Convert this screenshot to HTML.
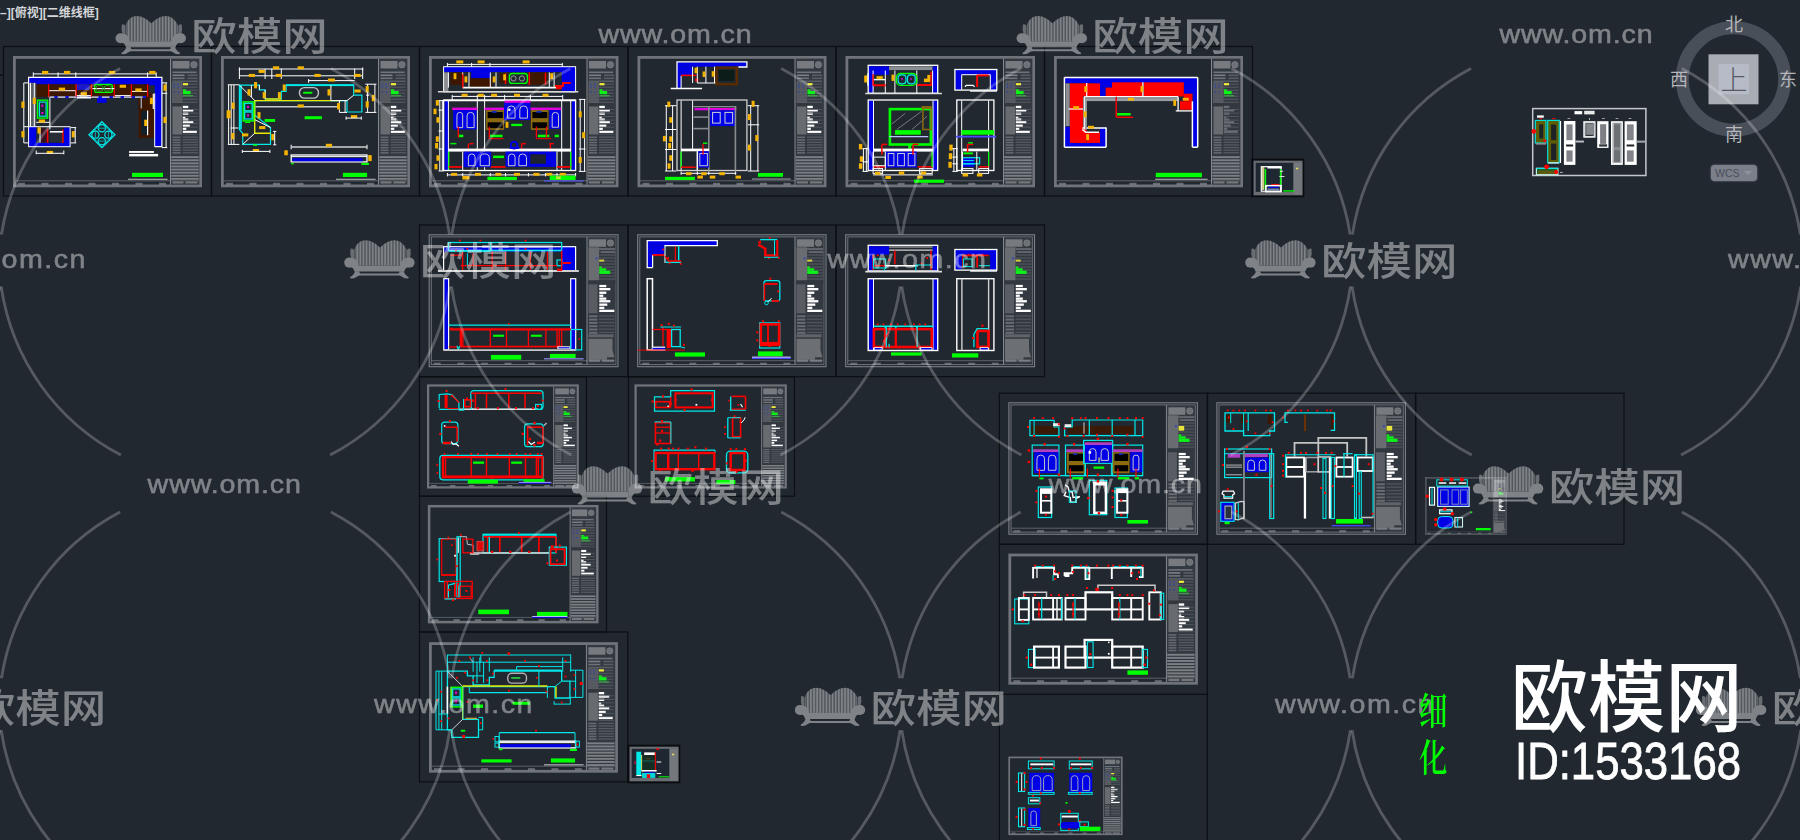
<!DOCTYPE html>
<html lang="zh"><head><meta charset="utf-8"><title>欧模网 ID:1533168</title>
<style>
html,body{margin:0;padding:0;background:#212830;overflow:hidden}
#cv{position:relative;width:1800px;height:840px;background:#212830;overflow:hidden;font-family:"Liberation Sans","Noto Sans CJK SC",sans-serif}
svg{position:absolute;left:0;top:0}
.vp{position:absolute;left:-4px;top:5px;font-size:12px;line-height:16px;color:#d4d6d8;font-weight:700;letter-spacing:0px;white-space:nowrap}
.cmp{position:absolute;color:#b4b6b9;font-size:18px;line-height:20px;width:20px;text-align:center}
.wcs{position:absolute;left:1711px;top:165px;width:46px;height:16px;border-radius:4px;background:#7b7f8a;color:#4a4e58;font-size:10.5px;line-height:16px;box-shadow:0 0 2px #8b8f99}
.big{position:absolute;color:#fff;white-space:nowrap;transform-origin:0 0}
.xh{position:absolute;color:#0f0;font-weight:600;font-family:"Liberation Serif","Noto Serif CJK SC",serif;white-space:nowrap;transform-origin:0 0}
</style></head><body>
<div id="cv">
<svg width="1800" height="840" viewBox="0 0 1800 840" shape-rendering="auto">
<line x1="0.0" y1="75.0" x2="3.5" y2="75.0" stroke="#0c0f13" stroke-width="1.2"/>
<rect x="3.5" y="46.5" width="208.0" height="149.5" fill="none" stroke="#0c0f13" stroke-width="1.2"/>
<rect x="14.4" y="57.4" width="186.2" height="128.5" fill="none" stroke="#70747a" stroke-width="2.8"/>
<line x1="15.6" y1="180.8" x2="199.4" y2="180.8" stroke="#6d7176" stroke-width="0.8"/>
<rect x="18.0" y="182.8" width="7.0" height="2.2" fill="#80848a" fill-opacity="0.75"/>
<rect x="41.5" y="182.8" width="7.0" height="2.2" fill="#80848a" fill-opacity="0.75"/>
<rect x="65.0" y="182.8" width="7.0" height="2.2" fill="#80848a" fill-opacity="0.75"/>
<rect x="88.5" y="182.8" width="7.0" height="2.2" fill="#80848a" fill-opacity="0.75"/>
<rect x="112.0" y="182.8" width="7.0" height="2.2" fill="#80848a" fill-opacity="0.75"/>
<rect x="135.5" y="182.8" width="7.0" height="2.2" fill="#80848a" fill-opacity="0.75"/>
<rect x="159.0" y="182.8" width="7.0" height="2.2" fill="#80848a" fill-opacity="0.75"/>
<rect x="170.5" y="58.6" width="28.9" height="126.1" fill="#454a52" fill-opacity="0.5"/>
<line x1="170.5" y1="58.6" x2="170.5" y2="184.7" stroke="#85888c" stroke-width="1.0"/>
<rect x="172.5" y="61.0" width="17.0" height="7.5" fill="#777b80"/>
<circle cx="193.9" cy="64.7" r="3.2" fill="#6d7176" stroke="#85888c" stroke-width="0.6"/>
<rect x="172.5" y="71.5" width="24.0" height="1.6" fill="#70747a"/>
<rect x="172.5" y="74.5" width="12.0" height="1.6" fill="#7c8086"/>
<rect x="187.5" y="74.5" width="10.0" height="1.6" fill="#595e65"/>
<rect x="172.5" y="77.5" width="12.0" height="1.6" fill="#70747a"/>
<rect x="187.5" y="77.5" width="10.0" height="1.6" fill="#595e65"/>
<rect x="172.5" y="80.5" width="25.0" height="1.6" fill="#595e65"/>
<rect x="172.5" y="83.5" width="25.0" height="1.5" fill="#4c5159"/>
<rect x="172.5" y="86.5" width="25.0" height="1.5" fill="#4c5159"/>
<rect x="172.5" y="89.5" width="25.0" height="1.5" fill="#4c5159"/>
<rect x="172.5" y="92.5" width="25.0" height="1.5" fill="#4c5159"/>
<rect x="172.5" y="95.5" width="25.0" height="1.5" fill="#4c5159"/>
<rect x="172.5" y="98.5" width="25.0" height="1.5" fill="#4c5159"/>
<rect x="172.5" y="101.5" width="25.0" height="1.5" fill="#4c5159"/>
<rect x="172.0" y="82.0" width="10.5" height="21.0" fill="#5a5e64" fill-opacity="0.85"/>
<rect x="183.0" y="83.1" width="5.0" height="2.2" fill="#f4ee3c"/>
<rect x="183.0" y="89.2" width="3.0" height="1.8" fill="#19e21d"/>
<rect x="183.0" y="91.0" width="7.6" height="3.2" fill="#0df219"/>
<rect x="183.0" y="95.0" width="10.0" height="1.5" fill="#3c9a45"/>
<rect x="173.5" y="83.5" width="1.6" height="1.6" fill="#34479a"/>
<rect x="173.5" y="86.5" width="1.6" height="1.6" fill="#34479a"/>
<rect x="173.5" y="91.5" width="1.6" height="1.6" fill="#34479a"/>
<rect x="177.5" y="83.5" width="1.6" height="1.6" fill="#34479a"/>
<rect x="177.5" y="86.5" width="1.6" height="1.6" fill="#34479a"/>
<rect x="177.5" y="91.5" width="1.6" height="1.6" fill="#34479a"/>
<rect x="171.5" y="103.0" width="27.0" height="2.2" fill="#33383f"/>
<rect x="172.5" y="106.5" width="9.5" height="28.0" fill="#6e7277" fill-opacity="0.9"/>
<rect x="182.8" y="105.8" width="5.5" height="2.3" fill="#ffffff"/>
<rect x="182.8" y="109.2" width="10.5" height="2.3" fill="#ffffff"/>
<rect x="182.8" y="112.5" width="5.5" height="2.3" fill="#ffffff"/>
<rect x="182.8" y="116.0" width="2.5" height="2.3" fill="#ffffff"/>
<rect x="182.8" y="118.4" width="5.5" height="2.3" fill="#ffffff"/>
<rect x="182.8" y="121.2" width="10.5" height="2.3" fill="#ffffff"/>
<rect x="182.8" y="124.6" width="7.0" height="2.3" fill="#ffffff"/>
<rect x="182.8" y="127.6" width="3.5" height="2.3" fill="#ffffff"/>
<rect x="182.8" y="130.6" width="14.0" height="2.3" fill="#ffffff"/>
<rect x="182.8" y="109.2" width="15.0" height="0.8" fill="#595e65"/>
<rect x="182.8" y="112.7" width="15.0" height="0.8" fill="#595e65"/>
<rect x="182.8" y="116.2" width="15.0" height="0.8" fill="#595e65"/>
<rect x="182.8" y="119.7" width="15.0" height="0.8" fill="#595e65"/>
<rect x="182.8" y="123.2" width="15.0" height="0.8" fill="#595e65"/>
<rect x="182.8" y="126.7" width="15.0" height="0.8" fill="#595e65"/>
<rect x="182.8" y="130.2" width="15.0" height="0.8" fill="#595e65"/>
<rect x="182.8" y="133.7" width="15.0" height="0.8" fill="#595e65"/>
<rect x="172.5" y="136.5" width="8.0" height="1.6" fill="#666a70"/>
<rect x="182.5" y="136.5" width="15.5" height="1.3" fill="#565b62"/>
<rect x="172.5" y="139.1" width="8.0" height="1.6" fill="#666a70"/>
<rect x="182.5" y="139.1" width="15.5" height="1.3" fill="#565b62"/>
<rect x="172.5" y="141.7" width="8.0" height="1.6" fill="#666a70"/>
<rect x="182.5" y="141.7" width="15.5" height="1.3" fill="#565b62"/>
<rect x="172.5" y="144.3" width="8.0" height="1.6" fill="#666a70"/>
<rect x="182.5" y="144.3" width="15.5" height="1.3" fill="#565b62"/>
<rect x="172.5" y="146.9" width="8.0" height="1.6" fill="#666a70"/>
<rect x="182.5" y="146.9" width="15.5" height="1.3" fill="#565b62"/>
<rect x="172.5" y="149.5" width="8.0" height="1.6" fill="#666a70"/>
<rect x="182.5" y="149.5" width="15.5" height="1.3" fill="#565b62"/>
<rect x="172.5" y="152.1" width="8.0" height="1.6" fill="#666a70"/>
<rect x="182.5" y="152.1" width="15.5" height="1.3" fill="#565b62"/>
<rect x="171.3" y="156.2" width="27.4" height="1.9" fill="#7c8085"/>
<rect x="171.3" y="159.3" width="27.4" height="1.9" fill="#7c8085"/>
<rect x="171.3" y="162.4" width="27.4" height="1.9" fill="#7c8085"/>
<rect x="171.3" y="165.5" width="27.4" height="1.9" fill="#7c8085"/>
<rect x="171.3" y="168.6" width="27.4" height="1.9" fill="#7c8085"/>
<rect x="171.3" y="171.7" width="27.4" height="1.9" fill="#7c8085"/>
<rect x="171.3" y="174.8" width="27.4" height="1.9" fill="#7c8085"/>
<rect x="171.3" y="177.9" width="27.4" height="1.9" fill="#7c8085"/>
<rect x="172.5" y="181.3" width="11.0" height="2.2" fill="#85888c" fill-opacity="0.8"/>
<rect x="185.5" y="181.3" width="12.0" height="2.2" fill="#85888c" fill-opacity="0.8"/>
<rect x="211.5" y="46.5" width="208.0" height="149.5" fill="none" stroke="#0c0f13" stroke-width="1.2"/>
<rect x="222.4" y="57.4" width="186.2" height="128.5" fill="none" stroke="#70747a" stroke-width="2.8"/>
<line x1="223.6" y1="180.8" x2="407.4" y2="180.8" stroke="#6d7176" stroke-width="0.8"/>
<rect x="226.0" y="182.8" width="7.0" height="2.2" fill="#80848a" fill-opacity="0.75"/>
<rect x="249.5" y="182.8" width="7.0" height="2.2" fill="#80848a" fill-opacity="0.75"/>
<rect x="273.0" y="182.8" width="7.0" height="2.2" fill="#80848a" fill-opacity="0.75"/>
<rect x="296.5" y="182.8" width="7.0" height="2.2" fill="#80848a" fill-opacity="0.75"/>
<rect x="320.0" y="182.8" width="7.0" height="2.2" fill="#80848a" fill-opacity="0.75"/>
<rect x="343.5" y="182.8" width="7.0" height="2.2" fill="#80848a" fill-opacity="0.75"/>
<rect x="367.0" y="182.8" width="7.0" height="2.2" fill="#80848a" fill-opacity="0.75"/>
<rect x="378.5" y="58.6" width="28.9" height="126.1" fill="#454a52" fill-opacity="0.5"/>
<line x1="378.5" y1="58.6" x2="378.5" y2="184.7" stroke="#85888c" stroke-width="1.0"/>
<rect x="380.5" y="61.0" width="17.0" height="7.5" fill="#777b80"/>
<circle cx="401.9" cy="64.7" r="3.2" fill="#6d7176" stroke="#85888c" stroke-width="0.6"/>
<rect x="380.5" y="71.5" width="24.0" height="1.6" fill="#70747a"/>
<rect x="380.5" y="74.5" width="12.0" height="1.6" fill="#7c8086"/>
<rect x="395.5" y="74.5" width="10.0" height="1.6" fill="#595e65"/>
<rect x="380.5" y="77.5" width="12.0" height="1.6" fill="#70747a"/>
<rect x="395.5" y="77.5" width="10.0" height="1.6" fill="#595e65"/>
<rect x="380.5" y="80.5" width="25.0" height="1.6" fill="#595e65"/>
<rect x="380.5" y="83.5" width="25.0" height="1.5" fill="#4c5159"/>
<rect x="380.5" y="86.5" width="25.0" height="1.5" fill="#4c5159"/>
<rect x="380.5" y="89.5" width="25.0" height="1.5" fill="#4c5159"/>
<rect x="380.5" y="92.5" width="25.0" height="1.5" fill="#4c5159"/>
<rect x="380.5" y="95.5" width="25.0" height="1.5" fill="#4c5159"/>
<rect x="380.5" y="98.5" width="25.0" height="1.5" fill="#4c5159"/>
<rect x="380.5" y="101.5" width="25.0" height="1.5" fill="#4c5159"/>
<rect x="380.0" y="82.0" width="10.5" height="21.0" fill="#5a5e64" fill-opacity="0.85"/>
<rect x="391.0" y="83.1" width="5.0" height="2.2" fill="#f4ee3c"/>
<rect x="391.0" y="89.2" width="3.0" height="1.8" fill="#19e21d"/>
<rect x="391.0" y="91.0" width="7.6" height="3.2" fill="#0df219"/>
<rect x="391.0" y="95.0" width="10.0" height="1.5" fill="#3c9a45"/>
<rect x="381.5" y="83.5" width="1.6" height="1.6" fill="#34479a"/>
<rect x="381.5" y="86.5" width="1.6" height="1.6" fill="#34479a"/>
<rect x="381.5" y="91.5" width="1.6" height="1.6" fill="#34479a"/>
<rect x="385.5" y="83.5" width="1.6" height="1.6" fill="#34479a"/>
<rect x="385.5" y="86.5" width="1.6" height="1.6" fill="#34479a"/>
<rect x="385.5" y="91.5" width="1.6" height="1.6" fill="#34479a"/>
<rect x="379.5" y="103.0" width="27.0" height="2.2" fill="#33383f"/>
<rect x="380.5" y="106.5" width="9.5" height="28.0" fill="#6e7277" fill-opacity="0.9"/>
<rect x="390.8" y="105.8" width="5.5" height="2.3" fill="#ffffff"/>
<rect x="390.8" y="109.2" width="10.5" height="2.3" fill="#ffffff"/>
<rect x="390.8" y="112.5" width="5.5" height="2.3" fill="#ffffff"/>
<rect x="390.8" y="116.0" width="2.5" height="2.3" fill="#ffffff"/>
<rect x="390.8" y="118.4" width="5.5" height="2.3" fill="#ffffff"/>
<rect x="390.8" y="121.2" width="10.5" height="2.3" fill="#ffffff"/>
<rect x="390.8" y="124.6" width="7.0" height="2.3" fill="#ffffff"/>
<rect x="390.8" y="127.6" width="3.5" height="2.3" fill="#ffffff"/>
<rect x="390.8" y="130.6" width="14.0" height="2.3" fill="#ffffff"/>
<rect x="390.8" y="109.2" width="15.0" height="0.8" fill="#595e65"/>
<rect x="390.8" y="112.7" width="15.0" height="0.8" fill="#595e65"/>
<rect x="390.8" y="116.2" width="15.0" height="0.8" fill="#595e65"/>
<rect x="390.8" y="119.7" width="15.0" height="0.8" fill="#595e65"/>
<rect x="390.8" y="123.2" width="15.0" height="0.8" fill="#595e65"/>
<rect x="390.8" y="126.7" width="15.0" height="0.8" fill="#595e65"/>
<rect x="390.8" y="130.2" width="15.0" height="0.8" fill="#595e65"/>
<rect x="390.8" y="133.7" width="15.0" height="0.8" fill="#595e65"/>
<rect x="380.5" y="136.5" width="8.0" height="1.6" fill="#666a70"/>
<rect x="390.5" y="136.5" width="15.5" height="1.3" fill="#565b62"/>
<rect x="380.5" y="139.1" width="8.0" height="1.6" fill="#666a70"/>
<rect x="390.5" y="139.1" width="15.5" height="1.3" fill="#565b62"/>
<rect x="380.5" y="141.7" width="8.0" height="1.6" fill="#666a70"/>
<rect x="390.5" y="141.7" width="15.5" height="1.3" fill="#565b62"/>
<rect x="380.5" y="144.3" width="8.0" height="1.6" fill="#666a70"/>
<rect x="390.5" y="144.3" width="15.5" height="1.3" fill="#565b62"/>
<rect x="380.5" y="146.9" width="8.0" height="1.6" fill="#666a70"/>
<rect x="390.5" y="146.9" width="15.5" height="1.3" fill="#565b62"/>
<rect x="380.5" y="149.5" width="8.0" height="1.6" fill="#666a70"/>
<rect x="390.5" y="149.5" width="15.5" height="1.3" fill="#565b62"/>
<rect x="380.5" y="152.1" width="8.0" height="1.6" fill="#666a70"/>
<rect x="390.5" y="152.1" width="15.5" height="1.3" fill="#565b62"/>
<rect x="379.3" y="156.2" width="27.4" height="1.9" fill="#7c8085"/>
<rect x="379.3" y="159.3" width="27.4" height="1.9" fill="#7c8085"/>
<rect x="379.3" y="162.4" width="27.4" height="1.9" fill="#7c8085"/>
<rect x="379.3" y="165.5" width="27.4" height="1.9" fill="#7c8085"/>
<rect x="379.3" y="168.6" width="27.4" height="1.9" fill="#7c8085"/>
<rect x="379.3" y="171.7" width="27.4" height="1.9" fill="#7c8085"/>
<rect x="379.3" y="174.8" width="27.4" height="1.9" fill="#7c8085"/>
<rect x="379.3" y="177.9" width="27.4" height="1.9" fill="#7c8085"/>
<rect x="380.5" y="181.3" width="11.0" height="2.2" fill="#85888c" fill-opacity="0.8"/>
<rect x="393.5" y="181.3" width="12.0" height="2.2" fill="#85888c" fill-opacity="0.8"/>
<rect x="419.5" y="46.5" width="208.5" height="149.5" fill="none" stroke="#0c0f13" stroke-width="1.2"/>
<rect x="430.4" y="57.4" width="186.7" height="128.5" fill="none" stroke="#70747a" stroke-width="2.8"/>
<line x1="431.6" y1="180.8" x2="615.9" y2="180.8" stroke="#6d7176" stroke-width="0.8"/>
<rect x="434.0" y="182.8" width="7.0" height="2.2" fill="#80848a" fill-opacity="0.75"/>
<rect x="457.6" y="182.8" width="7.0" height="2.2" fill="#80848a" fill-opacity="0.75"/>
<rect x="481.1" y="182.8" width="7.0" height="2.2" fill="#80848a" fill-opacity="0.75"/>
<rect x="504.7" y="182.8" width="7.0" height="2.2" fill="#80848a" fill-opacity="0.75"/>
<rect x="528.3" y="182.8" width="7.0" height="2.2" fill="#80848a" fill-opacity="0.75"/>
<rect x="551.8" y="182.8" width="7.0" height="2.2" fill="#80848a" fill-opacity="0.75"/>
<rect x="575.4" y="182.8" width="7.0" height="2.2" fill="#80848a" fill-opacity="0.75"/>
<rect x="587.0" y="58.6" width="28.9" height="126.1" fill="#454a52" fill-opacity="0.5"/>
<line x1="587.0" y1="58.6" x2="587.0" y2="184.7" stroke="#85888c" stroke-width="1.0"/>
<rect x="589.0" y="61.0" width="17.0" height="7.5" fill="#777b80"/>
<circle cx="610.4" cy="64.7" r="3.2" fill="#6d7176" stroke="#85888c" stroke-width="0.6"/>
<rect x="589.0" y="71.5" width="24.0" height="1.6" fill="#70747a"/>
<rect x="589.0" y="74.5" width="12.0" height="1.6" fill="#7c8086"/>
<rect x="604.0" y="74.5" width="10.0" height="1.6" fill="#595e65"/>
<rect x="589.0" y="77.5" width="12.0" height="1.6" fill="#70747a"/>
<rect x="604.0" y="77.5" width="10.0" height="1.6" fill="#595e65"/>
<rect x="589.0" y="80.5" width="25.0" height="1.6" fill="#595e65"/>
<rect x="589.0" y="83.5" width="25.0" height="1.5" fill="#4c5159"/>
<rect x="589.0" y="86.5" width="25.0" height="1.5" fill="#4c5159"/>
<rect x="589.0" y="89.5" width="25.0" height="1.5" fill="#4c5159"/>
<rect x="589.0" y="92.5" width="25.0" height="1.5" fill="#4c5159"/>
<rect x="589.0" y="95.5" width="25.0" height="1.5" fill="#4c5159"/>
<rect x="589.0" y="98.5" width="25.0" height="1.5" fill="#4c5159"/>
<rect x="589.0" y="101.5" width="25.0" height="1.5" fill="#4c5159"/>
<rect x="588.5" y="82.0" width="10.5" height="21.0" fill="#5a5e64" fill-opacity="0.85"/>
<rect x="599.5" y="83.1" width="5.0" height="2.2" fill="#f4ee3c"/>
<rect x="599.5" y="89.2" width="3.0" height="1.8" fill="#19e21d"/>
<rect x="599.5" y="91.0" width="7.6" height="3.2" fill="#0df219"/>
<rect x="599.5" y="95.0" width="10.0" height="1.5" fill="#3c9a45"/>
<rect x="590.0" y="83.5" width="1.6" height="1.6" fill="#34479a"/>
<rect x="590.0" y="86.5" width="1.6" height="1.6" fill="#34479a"/>
<rect x="590.0" y="91.5" width="1.6" height="1.6" fill="#34479a"/>
<rect x="594.0" y="83.5" width="1.6" height="1.6" fill="#34479a"/>
<rect x="594.0" y="86.5" width="1.6" height="1.6" fill="#34479a"/>
<rect x="594.0" y="91.5" width="1.6" height="1.6" fill="#34479a"/>
<rect x="588.0" y="103.0" width="27.0" height="2.2" fill="#33383f"/>
<rect x="589.0" y="106.5" width="9.5" height="28.0" fill="#6e7277" fill-opacity="0.9"/>
<rect x="599.3" y="105.8" width="5.5" height="2.3" fill="#ffffff"/>
<rect x="599.3" y="109.2" width="10.5" height="2.3" fill="#ffffff"/>
<rect x="599.3" y="112.5" width="5.5" height="2.3" fill="#ffffff"/>
<rect x="599.3" y="116.0" width="2.5" height="2.3" fill="#ffffff"/>
<rect x="599.3" y="118.4" width="5.5" height="2.3" fill="#ffffff"/>
<rect x="599.3" y="121.2" width="10.5" height="2.3" fill="#ffffff"/>
<rect x="599.3" y="124.6" width="7.0" height="2.3" fill="#ffffff"/>
<rect x="599.3" y="127.6" width="3.5" height="2.3" fill="#ffffff"/>
<rect x="599.3" y="130.6" width="14.0" height="2.3" fill="#ffffff"/>
<rect x="599.3" y="109.2" width="15.0" height="0.8" fill="#595e65"/>
<rect x="599.3" y="112.7" width="15.0" height="0.8" fill="#595e65"/>
<rect x="599.3" y="116.2" width="15.0" height="0.8" fill="#595e65"/>
<rect x="599.3" y="119.7" width="15.0" height="0.8" fill="#595e65"/>
<rect x="599.3" y="123.2" width="15.0" height="0.8" fill="#595e65"/>
<rect x="599.3" y="126.7" width="15.0" height="0.8" fill="#595e65"/>
<rect x="599.3" y="130.2" width="15.0" height="0.8" fill="#595e65"/>
<rect x="599.3" y="133.7" width="15.0" height="0.8" fill="#595e65"/>
<rect x="589.0" y="136.5" width="8.0" height="1.6" fill="#666a70"/>
<rect x="599.0" y="136.5" width="15.5" height="1.3" fill="#565b62"/>
<rect x="589.0" y="139.1" width="8.0" height="1.6" fill="#666a70"/>
<rect x="599.0" y="139.1" width="15.5" height="1.3" fill="#565b62"/>
<rect x="589.0" y="141.7" width="8.0" height="1.6" fill="#666a70"/>
<rect x="599.0" y="141.7" width="15.5" height="1.3" fill="#565b62"/>
<rect x="589.0" y="144.3" width="8.0" height="1.6" fill="#666a70"/>
<rect x="599.0" y="144.3" width="15.5" height="1.3" fill="#565b62"/>
<rect x="589.0" y="146.9" width="8.0" height="1.6" fill="#666a70"/>
<rect x="599.0" y="146.9" width="15.5" height="1.3" fill="#565b62"/>
<rect x="589.0" y="149.5" width="8.0" height="1.6" fill="#666a70"/>
<rect x="599.0" y="149.5" width="15.5" height="1.3" fill="#565b62"/>
<rect x="589.0" y="152.1" width="8.0" height="1.6" fill="#666a70"/>
<rect x="599.0" y="152.1" width="15.5" height="1.3" fill="#565b62"/>
<rect x="587.8" y="156.2" width="27.4" height="1.9" fill="#7c8085"/>
<rect x="587.8" y="159.3" width="27.4" height="1.9" fill="#7c8085"/>
<rect x="587.8" y="162.4" width="27.4" height="1.9" fill="#7c8085"/>
<rect x="587.8" y="165.5" width="27.4" height="1.9" fill="#7c8085"/>
<rect x="587.8" y="168.6" width="27.4" height="1.9" fill="#7c8085"/>
<rect x="587.8" y="171.7" width="27.4" height="1.9" fill="#7c8085"/>
<rect x="587.8" y="174.8" width="27.4" height="1.9" fill="#7c8085"/>
<rect x="587.8" y="177.9" width="27.4" height="1.9" fill="#7c8085"/>
<rect x="589.0" y="181.3" width="11.0" height="2.2" fill="#85888c" fill-opacity="0.8"/>
<rect x="602.0" y="181.3" width="12.0" height="2.2" fill="#85888c" fill-opacity="0.8"/>
<rect x="628.0" y="46.5" width="208.0" height="149.5" fill="none" stroke="#0c0f13" stroke-width="1.2"/>
<rect x="638.9" y="57.4" width="186.2" height="128.5" fill="none" stroke="#70747a" stroke-width="2.8"/>
<line x1="640.1" y1="180.8" x2="823.9" y2="180.8" stroke="#6d7176" stroke-width="0.8"/>
<rect x="642.5" y="182.8" width="7.0" height="2.2" fill="#80848a" fill-opacity="0.75"/>
<rect x="666.0" y="182.8" width="7.0" height="2.2" fill="#80848a" fill-opacity="0.75"/>
<rect x="689.5" y="182.8" width="7.0" height="2.2" fill="#80848a" fill-opacity="0.75"/>
<rect x="713.0" y="182.8" width="7.0" height="2.2" fill="#80848a" fill-opacity="0.75"/>
<rect x="736.5" y="182.8" width="7.0" height="2.2" fill="#80848a" fill-opacity="0.75"/>
<rect x="760.0" y="182.8" width="7.0" height="2.2" fill="#80848a" fill-opacity="0.75"/>
<rect x="783.5" y="182.8" width="7.0" height="2.2" fill="#80848a" fill-opacity="0.75"/>
<rect x="795.0" y="58.6" width="28.9" height="126.1" fill="#454a52" fill-opacity="0.5"/>
<line x1="795.0" y1="58.6" x2="795.0" y2="184.7" stroke="#85888c" stroke-width="1.0"/>
<rect x="797.0" y="61.0" width="17.0" height="7.5" fill="#777b80"/>
<circle cx="818.4" cy="64.7" r="3.2" fill="#6d7176" stroke="#85888c" stroke-width="0.6"/>
<rect x="797.0" y="71.5" width="24.0" height="1.6" fill="#70747a"/>
<rect x="797.0" y="74.5" width="12.0" height="1.6" fill="#7c8086"/>
<rect x="812.0" y="74.5" width="10.0" height="1.6" fill="#595e65"/>
<rect x="797.0" y="77.5" width="12.0" height="1.6" fill="#70747a"/>
<rect x="812.0" y="77.5" width="10.0" height="1.6" fill="#595e65"/>
<rect x="797.0" y="80.5" width="25.0" height="1.6" fill="#595e65"/>
<rect x="797.0" y="83.5" width="25.0" height="1.5" fill="#4c5159"/>
<rect x="797.0" y="86.5" width="25.0" height="1.5" fill="#4c5159"/>
<rect x="797.0" y="89.5" width="25.0" height="1.5" fill="#4c5159"/>
<rect x="797.0" y="92.5" width="25.0" height="1.5" fill="#4c5159"/>
<rect x="797.0" y="95.5" width="25.0" height="1.5" fill="#4c5159"/>
<rect x="797.0" y="98.5" width="25.0" height="1.5" fill="#4c5159"/>
<rect x="797.0" y="101.5" width="25.0" height="1.5" fill="#4c5159"/>
<rect x="796.5" y="82.0" width="10.5" height="21.0" fill="#5a5e64" fill-opacity="0.85"/>
<rect x="807.5" y="83.1" width="5.0" height="2.2" fill="#f4ee3c"/>
<rect x="807.5" y="89.2" width="3.0" height="1.8" fill="#19e21d"/>
<rect x="807.5" y="91.0" width="7.6" height="3.2" fill="#0df219"/>
<rect x="807.5" y="95.0" width="10.0" height="1.5" fill="#3c9a45"/>
<rect x="798.0" y="83.5" width="1.6" height="1.6" fill="#34479a"/>
<rect x="798.0" y="86.5" width="1.6" height="1.6" fill="#34479a"/>
<rect x="798.0" y="91.5" width="1.6" height="1.6" fill="#34479a"/>
<rect x="802.0" y="83.5" width="1.6" height="1.6" fill="#34479a"/>
<rect x="802.0" y="86.5" width="1.6" height="1.6" fill="#34479a"/>
<rect x="802.0" y="91.5" width="1.6" height="1.6" fill="#34479a"/>
<rect x="796.0" y="103.0" width="27.0" height="2.2" fill="#33383f"/>
<rect x="797.0" y="106.5" width="9.5" height="28.0" fill="#6e7277" fill-opacity="0.9"/>
<rect x="807.3" y="105.8" width="5.5" height="2.3" fill="#ffffff"/>
<rect x="807.3" y="109.2" width="10.5" height="2.3" fill="#ffffff"/>
<rect x="807.3" y="112.5" width="5.5" height="2.3" fill="#ffffff"/>
<rect x="807.3" y="116.0" width="2.5" height="2.3" fill="#ffffff"/>
<rect x="807.3" y="118.4" width="5.5" height="2.3" fill="#ffffff"/>
<rect x="807.3" y="121.2" width="10.5" height="2.3" fill="#ffffff"/>
<rect x="807.3" y="124.6" width="7.0" height="2.3" fill="#ffffff"/>
<rect x="807.3" y="127.6" width="3.5" height="2.3" fill="#ffffff"/>
<rect x="807.3" y="130.6" width="14.0" height="2.3" fill="#ffffff"/>
<rect x="807.3" y="109.2" width="15.0" height="0.8" fill="#595e65"/>
<rect x="807.3" y="112.7" width="15.0" height="0.8" fill="#595e65"/>
<rect x="807.3" y="116.2" width="15.0" height="0.8" fill="#595e65"/>
<rect x="807.3" y="119.7" width="15.0" height="0.8" fill="#595e65"/>
<rect x="807.3" y="123.2" width="15.0" height="0.8" fill="#595e65"/>
<rect x="807.3" y="126.7" width="15.0" height="0.8" fill="#595e65"/>
<rect x="807.3" y="130.2" width="15.0" height="0.8" fill="#595e65"/>
<rect x="807.3" y="133.7" width="15.0" height="0.8" fill="#595e65"/>
<rect x="797.0" y="136.5" width="8.0" height="1.6" fill="#666a70"/>
<rect x="807.0" y="136.5" width="15.5" height="1.3" fill="#565b62"/>
<rect x="797.0" y="139.1" width="8.0" height="1.6" fill="#666a70"/>
<rect x="807.0" y="139.1" width="15.5" height="1.3" fill="#565b62"/>
<rect x="797.0" y="141.7" width="8.0" height="1.6" fill="#666a70"/>
<rect x="807.0" y="141.7" width="15.5" height="1.3" fill="#565b62"/>
<rect x="797.0" y="144.3" width="8.0" height="1.6" fill="#666a70"/>
<rect x="807.0" y="144.3" width="15.5" height="1.3" fill="#565b62"/>
<rect x="797.0" y="146.9" width="8.0" height="1.6" fill="#666a70"/>
<rect x="807.0" y="146.9" width="15.5" height="1.3" fill="#565b62"/>
<rect x="797.0" y="149.5" width="8.0" height="1.6" fill="#666a70"/>
<rect x="807.0" y="149.5" width="15.5" height="1.3" fill="#565b62"/>
<rect x="797.0" y="152.1" width="8.0" height="1.6" fill="#666a70"/>
<rect x="807.0" y="152.1" width="15.5" height="1.3" fill="#565b62"/>
<rect x="795.8" y="156.2" width="27.4" height="1.9" fill="#7c8085"/>
<rect x="795.8" y="159.3" width="27.4" height="1.9" fill="#7c8085"/>
<rect x="795.8" y="162.4" width="27.4" height="1.9" fill="#7c8085"/>
<rect x="795.8" y="165.5" width="27.4" height="1.9" fill="#7c8085"/>
<rect x="795.8" y="168.6" width="27.4" height="1.9" fill="#7c8085"/>
<rect x="795.8" y="171.7" width="27.4" height="1.9" fill="#7c8085"/>
<rect x="795.8" y="174.8" width="27.4" height="1.9" fill="#7c8085"/>
<rect x="795.8" y="177.9" width="27.4" height="1.9" fill="#7c8085"/>
<rect x="797.0" y="181.3" width="11.0" height="2.2" fill="#85888c" fill-opacity="0.8"/>
<rect x="810.0" y="181.3" width="12.0" height="2.2" fill="#85888c" fill-opacity="0.8"/>
<rect x="836.0" y="46.5" width="208.5" height="149.5" fill="none" stroke="#0c0f13" stroke-width="1.2"/>
<rect x="846.9" y="57.4" width="186.7" height="128.5" fill="none" stroke="#70747a" stroke-width="2.8"/>
<line x1="848.1" y1="180.8" x2="1032.4" y2="180.8" stroke="#6d7176" stroke-width="0.8"/>
<rect x="850.5" y="182.8" width="7.0" height="2.2" fill="#80848a" fill-opacity="0.75"/>
<rect x="874.1" y="182.8" width="7.0" height="2.2" fill="#80848a" fill-opacity="0.75"/>
<rect x="897.6" y="182.8" width="7.0" height="2.2" fill="#80848a" fill-opacity="0.75"/>
<rect x="921.2" y="182.8" width="7.0" height="2.2" fill="#80848a" fill-opacity="0.75"/>
<rect x="944.8" y="182.8" width="7.0" height="2.2" fill="#80848a" fill-opacity="0.75"/>
<rect x="968.3" y="182.8" width="7.0" height="2.2" fill="#80848a" fill-opacity="0.75"/>
<rect x="991.9" y="182.8" width="7.0" height="2.2" fill="#80848a" fill-opacity="0.75"/>
<rect x="1003.5" y="58.6" width="28.9" height="126.1" fill="#454a52" fill-opacity="0.5"/>
<line x1="1003.5" y1="58.6" x2="1003.5" y2="184.7" stroke="#85888c" stroke-width="1.0"/>
<rect x="1005.5" y="61.0" width="17.0" height="7.5" fill="#777b80"/>
<circle cx="1026.9" cy="64.7" r="3.2" fill="#6d7176" stroke="#85888c" stroke-width="0.6"/>
<rect x="1005.5" y="71.5" width="24.0" height="1.6" fill="#70747a"/>
<rect x="1005.5" y="74.5" width="12.0" height="1.6" fill="#7c8086"/>
<rect x="1020.5" y="74.5" width="10.0" height="1.6" fill="#595e65"/>
<rect x="1005.5" y="77.5" width="12.0" height="1.6" fill="#70747a"/>
<rect x="1020.5" y="77.5" width="10.0" height="1.6" fill="#595e65"/>
<rect x="1005.5" y="80.5" width="25.0" height="1.6" fill="#595e65"/>
<rect x="1005.5" y="83.5" width="25.0" height="1.5" fill="#4c5159"/>
<rect x="1005.5" y="86.5" width="25.0" height="1.5" fill="#4c5159"/>
<rect x="1005.5" y="89.5" width="25.0" height="1.5" fill="#4c5159"/>
<rect x="1005.5" y="92.5" width="25.0" height="1.5" fill="#4c5159"/>
<rect x="1005.5" y="95.5" width="25.0" height="1.5" fill="#4c5159"/>
<rect x="1005.5" y="98.5" width="25.0" height="1.5" fill="#4c5159"/>
<rect x="1005.5" y="101.5" width="25.0" height="1.5" fill="#4c5159"/>
<rect x="1005.0" y="82.0" width="10.5" height="21.0" fill="#5a5e64" fill-opacity="0.85"/>
<rect x="1016.0" y="83.1" width="5.0" height="2.2" fill="#f4ee3c"/>
<rect x="1016.0" y="89.2" width="3.0" height="1.8" fill="#19e21d"/>
<rect x="1016.0" y="91.0" width="7.6" height="3.2" fill="#0df219"/>
<rect x="1016.0" y="95.0" width="10.0" height="1.5" fill="#3c9a45"/>
<rect x="1006.5" y="83.5" width="1.6" height="1.6" fill="#34479a"/>
<rect x="1006.5" y="86.5" width="1.6" height="1.6" fill="#34479a"/>
<rect x="1006.5" y="91.5" width="1.6" height="1.6" fill="#34479a"/>
<rect x="1010.5" y="83.5" width="1.6" height="1.6" fill="#34479a"/>
<rect x="1010.5" y="86.5" width="1.6" height="1.6" fill="#34479a"/>
<rect x="1010.5" y="91.5" width="1.6" height="1.6" fill="#34479a"/>
<rect x="1004.5" y="103.0" width="27.0" height="2.2" fill="#33383f"/>
<rect x="1005.5" y="106.5" width="9.5" height="28.0" fill="#6e7277" fill-opacity="0.9"/>
<rect x="1015.8" y="105.8" width="5.5" height="2.3" fill="#ffffff"/>
<rect x="1015.8" y="109.2" width="10.5" height="2.3" fill="#ffffff"/>
<rect x="1015.8" y="112.5" width="5.5" height="2.3" fill="#ffffff"/>
<rect x="1015.8" y="116.0" width="2.5" height="2.3" fill="#ffffff"/>
<rect x="1015.8" y="118.4" width="5.5" height="2.3" fill="#ffffff"/>
<rect x="1015.8" y="121.2" width="10.5" height="2.3" fill="#ffffff"/>
<rect x="1015.8" y="124.6" width="7.0" height="2.3" fill="#ffffff"/>
<rect x="1015.8" y="127.6" width="3.5" height="2.3" fill="#ffffff"/>
<rect x="1015.8" y="130.6" width="14.0" height="2.3" fill="#ffffff"/>
<rect x="1015.8" y="109.2" width="15.0" height="0.8" fill="#595e65"/>
<rect x="1015.8" y="112.7" width="15.0" height="0.8" fill="#595e65"/>
<rect x="1015.8" y="116.2" width="15.0" height="0.8" fill="#595e65"/>
<rect x="1015.8" y="119.7" width="15.0" height="0.8" fill="#595e65"/>
<rect x="1015.8" y="123.2" width="15.0" height="0.8" fill="#595e65"/>
<rect x="1015.8" y="126.7" width="15.0" height="0.8" fill="#595e65"/>
<rect x="1015.8" y="130.2" width="15.0" height="0.8" fill="#595e65"/>
<rect x="1015.8" y="133.7" width="15.0" height="0.8" fill="#595e65"/>
<rect x="1005.5" y="136.5" width="8.0" height="1.6" fill="#666a70"/>
<rect x="1015.5" y="136.5" width="15.5" height="1.3" fill="#565b62"/>
<rect x="1005.5" y="139.1" width="8.0" height="1.6" fill="#666a70"/>
<rect x="1015.5" y="139.1" width="15.5" height="1.3" fill="#565b62"/>
<rect x="1005.5" y="141.7" width="8.0" height="1.6" fill="#666a70"/>
<rect x="1015.5" y="141.7" width="15.5" height="1.3" fill="#565b62"/>
<rect x="1005.5" y="144.3" width="8.0" height="1.6" fill="#666a70"/>
<rect x="1015.5" y="144.3" width="15.5" height="1.3" fill="#565b62"/>
<rect x="1005.5" y="146.9" width="8.0" height="1.6" fill="#666a70"/>
<rect x="1015.5" y="146.9" width="15.5" height="1.3" fill="#565b62"/>
<rect x="1005.5" y="149.5" width="8.0" height="1.6" fill="#666a70"/>
<rect x="1015.5" y="149.5" width="15.5" height="1.3" fill="#565b62"/>
<rect x="1005.5" y="152.1" width="8.0" height="1.6" fill="#666a70"/>
<rect x="1015.5" y="152.1" width="15.5" height="1.3" fill="#565b62"/>
<rect x="1004.3" y="156.2" width="27.4" height="1.9" fill="#7c8085"/>
<rect x="1004.3" y="159.3" width="27.4" height="1.9" fill="#7c8085"/>
<rect x="1004.3" y="162.4" width="27.4" height="1.9" fill="#7c8085"/>
<rect x="1004.3" y="165.5" width="27.4" height="1.9" fill="#7c8085"/>
<rect x="1004.3" y="168.6" width="27.4" height="1.9" fill="#7c8085"/>
<rect x="1004.3" y="171.7" width="27.4" height="1.9" fill="#7c8085"/>
<rect x="1004.3" y="174.8" width="27.4" height="1.9" fill="#7c8085"/>
<rect x="1004.3" y="177.9" width="27.4" height="1.9" fill="#7c8085"/>
<rect x="1005.5" y="181.3" width="11.0" height="2.2" fill="#85888c" fill-opacity="0.8"/>
<rect x="1018.5" y="181.3" width="12.0" height="2.2" fill="#85888c" fill-opacity="0.8"/>
<rect x="1044.5" y="46.5" width="208.0" height="149.5" fill="none" stroke="#0c0f13" stroke-width="1.2"/>
<rect x="1055.4" y="57.4" width="186.2" height="128.5" fill="none" stroke="#70747a" stroke-width="2.8"/>
<line x1="1056.6" y1="180.8" x2="1240.4" y2="180.8" stroke="#6d7176" stroke-width="0.8"/>
<rect x="1059.0" y="182.8" width="7.0" height="2.2" fill="#80848a" fill-opacity="0.75"/>
<rect x="1082.5" y="182.8" width="7.0" height="2.2" fill="#80848a" fill-opacity="0.75"/>
<rect x="1106.0" y="182.8" width="7.0" height="2.2" fill="#80848a" fill-opacity="0.75"/>
<rect x="1129.5" y="182.8" width="7.0" height="2.2" fill="#80848a" fill-opacity="0.75"/>
<rect x="1153.0" y="182.8" width="7.0" height="2.2" fill="#80848a" fill-opacity="0.75"/>
<rect x="1176.5" y="182.8" width="7.0" height="2.2" fill="#80848a" fill-opacity="0.75"/>
<rect x="1200.0" y="182.8" width="7.0" height="2.2" fill="#80848a" fill-opacity="0.75"/>
<rect x="1211.5" y="58.6" width="28.9" height="126.1" fill="#454a52" fill-opacity="0.5"/>
<line x1="1211.5" y1="58.6" x2="1211.5" y2="184.7" stroke="#85888c" stroke-width="1.0"/>
<rect x="1213.5" y="61.0" width="17.0" height="7.5" fill="#777b80"/>
<circle cx="1234.9" cy="64.7" r="3.2" fill="#6d7176" stroke="#85888c" stroke-width="0.6"/>
<rect x="1213.5" y="71.5" width="24.0" height="1.6" fill="#70747a"/>
<rect x="1213.5" y="74.5" width="12.0" height="1.6" fill="#7c8086"/>
<rect x="1228.5" y="74.5" width="10.0" height="1.6" fill="#595e65"/>
<rect x="1213.5" y="77.5" width="12.0" height="1.6" fill="#70747a"/>
<rect x="1228.5" y="77.5" width="10.0" height="1.6" fill="#595e65"/>
<rect x="1213.5" y="80.5" width="25.0" height="1.6" fill="#595e65"/>
<rect x="1213.5" y="83.5" width="25.0" height="1.5" fill="#4c5159"/>
<rect x="1213.5" y="86.5" width="25.0" height="1.5" fill="#4c5159"/>
<rect x="1213.5" y="89.5" width="25.0" height="1.5" fill="#4c5159"/>
<rect x="1213.5" y="92.5" width="25.0" height="1.5" fill="#4c5159"/>
<rect x="1213.5" y="95.5" width="25.0" height="1.5" fill="#4c5159"/>
<rect x="1213.5" y="98.5" width="25.0" height="1.5" fill="#4c5159"/>
<rect x="1213.5" y="101.5" width="25.0" height="1.5" fill="#4c5159"/>
<rect x="1213.0" y="82.0" width="10.5" height="21.0" fill="#5a5e64" fill-opacity="0.85"/>
<rect x="1224.0" y="83.1" width="5.0" height="2.2" fill="#f4ee3c"/>
<rect x="1224.0" y="89.2" width="3.0" height="1.8" fill="#19e21d"/>
<rect x="1224.0" y="91.0" width="7.6" height="3.2" fill="#0df219"/>
<rect x="1224.0" y="95.0" width="10.0" height="1.5" fill="#3c9a45"/>
<rect x="1214.5" y="83.5" width="1.6" height="1.6" fill="#34479a"/>
<rect x="1214.5" y="86.5" width="1.6" height="1.6" fill="#34479a"/>
<rect x="1214.5" y="91.5" width="1.6" height="1.6" fill="#34479a"/>
<rect x="1218.5" y="83.5" width="1.6" height="1.6" fill="#34479a"/>
<rect x="1218.5" y="86.5" width="1.6" height="1.6" fill="#34479a"/>
<rect x="1218.5" y="91.5" width="1.6" height="1.6" fill="#34479a"/>
<rect x="1212.5" y="103.0" width="27.0" height="2.2" fill="#33383f"/>
<rect x="1213.5" y="106.5" width="9.5" height="28.0" fill="#6e7277" fill-opacity="0.9"/>
<rect x="1223.8" y="105.8" width="5.5" height="2.3" fill="#6a6e74"/>
<rect x="1223.8" y="109.2" width="10.5" height="2.3" fill="#6a6e74"/>
<rect x="1223.8" y="112.5" width="5.5" height="2.3" fill="#6a6e74"/>
<rect x="1223.8" y="116.0" width="2.5" height="2.3" fill="#6a6e74"/>
<rect x="1223.8" y="118.4" width="5.5" height="2.3" fill="#6a6e74"/>
<rect x="1223.8" y="121.2" width="10.5" height="2.3" fill="#6a6e74"/>
<rect x="1223.8" y="124.6" width="7.0" height="2.3" fill="#6a6e74"/>
<rect x="1223.8" y="127.6" width="3.5" height="2.3" fill="#6a6e74"/>
<rect x="1223.8" y="130.6" width="14.0" height="2.3" fill="#6a6e74"/>
<rect x="1223.8" y="109.2" width="15.0" height="0.8" fill="#595e65"/>
<rect x="1223.8" y="112.7" width="15.0" height="0.8" fill="#595e65"/>
<rect x="1223.8" y="116.2" width="15.0" height="0.8" fill="#595e65"/>
<rect x="1223.8" y="119.7" width="15.0" height="0.8" fill="#595e65"/>
<rect x="1223.8" y="123.2" width="15.0" height="0.8" fill="#595e65"/>
<rect x="1223.8" y="126.7" width="15.0" height="0.8" fill="#595e65"/>
<rect x="1223.8" y="130.2" width="15.0" height="0.8" fill="#595e65"/>
<rect x="1223.8" y="133.7" width="15.0" height="0.8" fill="#595e65"/>
<rect x="1213.5" y="136.5" width="8.0" height="1.6" fill="#666a70"/>
<rect x="1223.5" y="136.5" width="15.5" height="1.3" fill="#565b62"/>
<rect x="1213.5" y="139.1" width="8.0" height="1.6" fill="#666a70"/>
<rect x="1223.5" y="139.1" width="15.5" height="1.3" fill="#565b62"/>
<rect x="1213.5" y="141.7" width="8.0" height="1.6" fill="#666a70"/>
<rect x="1223.5" y="141.7" width="15.5" height="1.3" fill="#565b62"/>
<rect x="1213.5" y="144.3" width="8.0" height="1.6" fill="#666a70"/>
<rect x="1223.5" y="144.3" width="15.5" height="1.3" fill="#565b62"/>
<rect x="1213.5" y="146.9" width="8.0" height="1.6" fill="#666a70"/>
<rect x="1223.5" y="146.9" width="15.5" height="1.3" fill="#565b62"/>
<rect x="1213.5" y="149.5" width="8.0" height="1.6" fill="#666a70"/>
<rect x="1223.5" y="149.5" width="15.5" height="1.3" fill="#565b62"/>
<rect x="1213.5" y="152.1" width="8.0" height="1.6" fill="#666a70"/>
<rect x="1223.5" y="152.1" width="15.5" height="1.3" fill="#565b62"/>
<rect x="1212.3" y="156.2" width="27.4" height="1.9" fill="#7c8085"/>
<rect x="1212.3" y="159.3" width="27.4" height="1.9" fill="#7c8085"/>
<rect x="1212.3" y="162.4" width="27.4" height="1.9" fill="#7c8085"/>
<rect x="1212.3" y="165.5" width="27.4" height="1.9" fill="#7c8085"/>
<rect x="1212.3" y="168.6" width="27.4" height="1.9" fill="#7c8085"/>
<rect x="1212.3" y="171.7" width="27.4" height="1.9" fill="#7c8085"/>
<rect x="1212.3" y="174.8" width="27.4" height="1.9" fill="#7c8085"/>
<rect x="1212.3" y="177.9" width="27.4" height="1.9" fill="#7c8085"/>
<rect x="1213.5" y="181.3" width="11.0" height="2.2" fill="#85888c" fill-opacity="0.8"/>
<rect x="1226.5" y="181.3" width="12.0" height="2.2" fill="#85888c" fill-opacity="0.8"/>
<rect x="419.5" y="225.0" width="208.5" height="151.7" fill="none" stroke="#0c0f13" stroke-width="1.2"/>
<rect x="429.2" y="234.8" width="188.8" height="131.9" fill="none" stroke="#7d8186" stroke-width="1.1"/>
<rect x="431.3" y="236.9" width="184.6" height="127.7" fill="none" stroke="#777b80" stroke-width="0.9"/>
<line x1="431.3" y1="360.7" x2="615.9" y2="360.7" stroke="#6d7176" stroke-width="0.8"/>
<rect x="433.7" y="362.7" width="7.0" height="2.2" fill="#80848a" fill-opacity="0.75"/>
<rect x="457.3" y="362.7" width="7.0" height="2.2" fill="#80848a" fill-opacity="0.75"/>
<rect x="480.9" y="362.7" width="7.0" height="2.2" fill="#80848a" fill-opacity="0.75"/>
<rect x="504.5" y="362.7" width="7.0" height="2.2" fill="#80848a" fill-opacity="0.75"/>
<rect x="528.1" y="362.7" width="7.0" height="2.2" fill="#80848a" fill-opacity="0.75"/>
<rect x="551.7" y="362.7" width="7.0" height="2.2" fill="#80848a" fill-opacity="0.75"/>
<rect x="575.3" y="362.7" width="7.0" height="2.2" fill="#80848a" fill-opacity="0.75"/>
<rect x="587.0" y="236.9" width="28.9" height="127.7" fill="#454a52" fill-opacity="0.5"/>
<line x1="587.0" y1="236.9" x2="587.0" y2="364.6" stroke="#85888c" stroke-width="1.0"/>
<rect x="589.0" y="239.3" width="17.0" height="7.5" fill="#777b80"/>
<circle cx="610.4" cy="243.0" r="3.2" fill="#6d7176" stroke="#85888c" stroke-width="0.6"/>
<rect x="588.5" y="247.3" width="10.5" height="33.0" fill="#696d72"/>
<rect x="599.0" y="248.3" width="16.0" height="1.5" fill="#4c5159"/>
<rect x="599.0" y="251.3" width="16.0" height="1.5" fill="#4c5159"/>
<rect x="599.0" y="254.3" width="16.0" height="1.5" fill="#4c5159"/>
<rect x="599.0" y="257.3" width="16.0" height="1.5" fill="#4c5159"/>
<rect x="599.0" y="260.3" width="16.0" height="1.5" fill="#4c5159"/>
<rect x="599.0" y="263.3" width="16.0" height="1.5" fill="#4c5159"/>
<rect x="599.0" y="266.3" width="16.0" height="1.5" fill="#4c5159"/>
<rect x="599.0" y="269.3" width="16.0" height="1.5" fill="#4c5159"/>
<rect x="599.0" y="272.3" width="16.0" height="1.5" fill="#4c5159"/>
<rect x="599.0" y="275.3" width="16.0" height="1.5" fill="#4c5159"/>
<rect x="599.0" y="278.3" width="16.0" height="1.5" fill="#4c5159"/>
<rect x="599.0" y="248.3" width="16.0" height="1.5" fill="#6a6e73"/>
<rect x="601.0" y="251.3" width="14.0" height="1.5" fill="#6a6e73"/>
<rect x="599.2" y="259.6" width="5.0" height="2.0" fill="#d8d040"/>
<rect x="595.5" y="257.3" width="2.0" height="2.0" fill="#3848b0"/>
<rect x="599.2" y="266.3" width="2.6" height="2.0" fill="#19e21d"/>
<rect x="599.2" y="268.3" width="7.0" height="2.4" fill="#0df219"/>
<rect x="599.2" y="270.7" width="11.0" height="3.2" fill="#0df219"/>
<rect x="588.5" y="280.8" width="27.0" height="2.4" fill="#33383f"/>
<rect x="599.3" y="284.9" width="7.0" height="2.3" fill="#ffffff"/>
<rect x="599.3" y="288.0" width="11.0" height="2.3" fill="#ffffff"/>
<rect x="599.3" y="291.6" width="7.0" height="2.3" fill="#ffffff"/>
<rect x="599.3" y="294.6" width="4.0" height="2.3" fill="#ffffff"/>
<rect x="599.3" y="297.5" width="7.0" height="2.3" fill="#ffffff"/>
<rect x="599.3" y="300.1" width="11.0" height="2.3" fill="#ffffff"/>
<rect x="599.3" y="303.5" width="8.0" height="2.3" fill="#ffffff"/>
<rect x="599.3" y="306.7" width="5.0" height="2.3" fill="#ffffff"/>
<rect x="599.3" y="309.7" width="15.0" height="2.3" fill="#ffffff"/>
<rect x="588.5" y="284.3" width="9.0" height="29.0" fill="#5d6167" fill-opacity="0.9"/>
<rect x="589.0" y="315.3" width="8.5" height="2.0" fill="#686c72"/>
<rect x="599.0" y="315.3" width="15.5" height="1.3" fill="#50555c"/>
<rect x="589.0" y="318.6" width="8.5" height="2.0" fill="#686c72"/>
<rect x="599.0" y="318.6" width="15.5" height="1.3" fill="#50555c"/>
<rect x="589.0" y="321.9" width="8.5" height="2.0" fill="#686c72"/>
<rect x="599.0" y="321.9" width="15.5" height="1.3" fill="#50555c"/>
<rect x="589.0" y="325.2" width="8.5" height="2.0" fill="#686c72"/>
<rect x="599.0" y="325.2" width="15.5" height="1.3" fill="#50555c"/>
<rect x="589.0" y="328.5" width="8.5" height="2.0" fill="#686c72"/>
<rect x="599.0" y="328.5" width="15.5" height="1.3" fill="#50555c"/>
<rect x="589.0" y="331.8" width="8.5" height="2.0" fill="#686c72"/>
<rect x="599.0" y="331.8" width="15.5" height="1.3" fill="#50555c"/>
<rect x="588.5" y="334.3" width="25.0" height="3.0" fill="#606469"/>
<path d="M588.5 338.8 H612.5 V350.3 L614.5 357.3 H607.0 V359.8 H588.5 Z" fill="#6c6f73" stroke="none" stroke-width="0" />
<rect x="589.0" y="359.6" width="11.0" height="2.2" fill="#85888c" fill-opacity="0.8"/>
<rect x="602.0" y="359.6" width="12.0" height="2.2" fill="#85888c" fill-opacity="0.8"/>
<rect x="628.0" y="225.0" width="208.0" height="151.7" fill="none" stroke="#0c0f13" stroke-width="1.2"/>
<rect x="637.7" y="234.8" width="188.3" height="131.9" fill="none" stroke="#7d8186" stroke-width="1.1"/>
<rect x="639.8" y="236.9" width="184.1" height="127.7" fill="none" stroke="#777b80" stroke-width="0.9"/>
<line x1="639.8" y1="360.7" x2="823.9" y2="360.7" stroke="#6d7176" stroke-width="0.8"/>
<rect x="642.2" y="362.7" width="7.0" height="2.2" fill="#80848a" fill-opacity="0.75"/>
<rect x="665.7" y="362.7" width="7.0" height="2.2" fill="#80848a" fill-opacity="0.75"/>
<rect x="689.3" y="362.7" width="7.0" height="2.2" fill="#80848a" fill-opacity="0.75"/>
<rect x="712.8" y="362.7" width="7.0" height="2.2" fill="#80848a" fill-opacity="0.75"/>
<rect x="736.4" y="362.7" width="7.0" height="2.2" fill="#80848a" fill-opacity="0.75"/>
<rect x="759.9" y="362.7" width="7.0" height="2.2" fill="#80848a" fill-opacity="0.75"/>
<rect x="783.4" y="362.7" width="7.0" height="2.2" fill="#80848a" fill-opacity="0.75"/>
<rect x="795.0" y="236.9" width="28.9" height="127.7" fill="#454a52" fill-opacity="0.5"/>
<line x1="795.0" y1="236.9" x2="795.0" y2="364.6" stroke="#85888c" stroke-width="1.0"/>
<rect x="797.0" y="239.3" width="17.0" height="7.5" fill="#777b80"/>
<circle cx="818.4" cy="243.0" r="3.2" fill="#6d7176" stroke="#85888c" stroke-width="0.6"/>
<rect x="796.5" y="247.3" width="10.5" height="33.0" fill="#696d72"/>
<rect x="807.0" y="248.3" width="16.0" height="1.5" fill="#4c5159"/>
<rect x="807.0" y="251.3" width="16.0" height="1.5" fill="#4c5159"/>
<rect x="807.0" y="254.3" width="16.0" height="1.5" fill="#4c5159"/>
<rect x="807.0" y="257.3" width="16.0" height="1.5" fill="#4c5159"/>
<rect x="807.0" y="260.3" width="16.0" height="1.5" fill="#4c5159"/>
<rect x="807.0" y="263.3" width="16.0" height="1.5" fill="#4c5159"/>
<rect x="807.0" y="266.3" width="16.0" height="1.5" fill="#4c5159"/>
<rect x="807.0" y="269.3" width="16.0" height="1.5" fill="#4c5159"/>
<rect x="807.0" y="272.3" width="16.0" height="1.5" fill="#4c5159"/>
<rect x="807.0" y="275.3" width="16.0" height="1.5" fill="#4c5159"/>
<rect x="807.0" y="278.3" width="16.0" height="1.5" fill="#4c5159"/>
<rect x="807.0" y="248.3" width="16.0" height="1.5" fill="#6a6e73"/>
<rect x="809.0" y="251.3" width="14.0" height="1.5" fill="#6a6e73"/>
<rect x="807.2" y="259.6" width="5.0" height="2.0" fill="#d8d040"/>
<rect x="803.5" y="257.3" width="2.0" height="2.0" fill="#3848b0"/>
<rect x="807.2" y="266.3" width="2.6" height="2.0" fill="#19e21d"/>
<rect x="807.2" y="268.3" width="7.0" height="2.4" fill="#0df219"/>
<rect x="807.2" y="270.7" width="11.0" height="3.2" fill="#0df219"/>
<rect x="796.5" y="280.8" width="27.0" height="2.4" fill="#33383f"/>
<rect x="807.3" y="284.9" width="7.0" height="2.3" fill="#ffffff"/>
<rect x="807.3" y="288.0" width="11.0" height="2.3" fill="#ffffff"/>
<rect x="807.3" y="291.6" width="7.0" height="2.3" fill="#ffffff"/>
<rect x="807.3" y="294.6" width="4.0" height="2.3" fill="#ffffff"/>
<rect x="807.3" y="297.5" width="7.0" height="2.3" fill="#ffffff"/>
<rect x="807.3" y="300.1" width="11.0" height="2.3" fill="#ffffff"/>
<rect x="807.3" y="303.5" width="8.0" height="2.3" fill="#ffffff"/>
<rect x="807.3" y="306.7" width="5.0" height="2.3" fill="#ffffff"/>
<rect x="807.3" y="309.7" width="15.0" height="2.3" fill="#ffffff"/>
<rect x="796.5" y="284.3" width="9.0" height="29.0" fill="#5d6167" fill-opacity="0.9"/>
<rect x="797.0" y="315.3" width="8.5" height="2.0" fill="#686c72"/>
<rect x="807.0" y="315.3" width="15.5" height="1.3" fill="#50555c"/>
<rect x="797.0" y="318.6" width="8.5" height="2.0" fill="#686c72"/>
<rect x="807.0" y="318.6" width="15.5" height="1.3" fill="#50555c"/>
<rect x="797.0" y="321.9" width="8.5" height="2.0" fill="#686c72"/>
<rect x="807.0" y="321.9" width="15.5" height="1.3" fill="#50555c"/>
<rect x="797.0" y="325.2" width="8.5" height="2.0" fill="#686c72"/>
<rect x="807.0" y="325.2" width="15.5" height="1.3" fill="#50555c"/>
<rect x="797.0" y="328.5" width="8.5" height="2.0" fill="#686c72"/>
<rect x="807.0" y="328.5" width="15.5" height="1.3" fill="#50555c"/>
<rect x="797.0" y="331.8" width="8.5" height="2.0" fill="#686c72"/>
<rect x="807.0" y="331.8" width="15.5" height="1.3" fill="#50555c"/>
<rect x="796.5" y="334.3" width="25.0" height="3.0" fill="#606469"/>
<path d="M796.5 338.8 H820.5 V350.3 L822.5 357.3 H815.0 V359.8 H796.5 Z" fill="#6c6f73" stroke="none" stroke-width="0" />
<rect x="797.0" y="359.6" width="11.0" height="2.2" fill="#85888c" fill-opacity="0.8"/>
<rect x="810.0" y="359.6" width="12.0" height="2.2" fill="#85888c" fill-opacity="0.8"/>
<rect x="836.0" y="225.0" width="208.5" height="151.7" fill="none" stroke="#0c0f13" stroke-width="1.2"/>
<rect x="845.7" y="234.8" width="188.8" height="131.9" fill="none" stroke="#7d8186" stroke-width="1.1"/>
<rect x="847.8" y="236.9" width="184.6" height="127.7" fill="none" stroke="#777b80" stroke-width="0.9"/>
<line x1="847.8" y1="360.7" x2="1032.4" y2="360.7" stroke="#6d7176" stroke-width="0.8"/>
<rect x="850.2" y="362.7" width="7.0" height="2.2" fill="#80848a" fill-opacity="0.75"/>
<rect x="873.8" y="362.7" width="7.0" height="2.2" fill="#80848a" fill-opacity="0.75"/>
<rect x="897.4" y="362.7" width="7.0" height="2.2" fill="#80848a" fill-opacity="0.75"/>
<rect x="921.0" y="362.7" width="7.0" height="2.2" fill="#80848a" fill-opacity="0.75"/>
<rect x="944.6" y="362.7" width="7.0" height="2.2" fill="#80848a" fill-opacity="0.75"/>
<rect x="968.2" y="362.7" width="7.0" height="2.2" fill="#80848a" fill-opacity="0.75"/>
<rect x="991.8" y="362.7" width="7.0" height="2.2" fill="#80848a" fill-opacity="0.75"/>
<rect x="1003.5" y="236.9" width="28.9" height="127.7" fill="#454a52" fill-opacity="0.5"/>
<line x1="1003.5" y1="236.9" x2="1003.5" y2="364.6" stroke="#85888c" stroke-width="1.0"/>
<rect x="1005.5" y="239.3" width="17.0" height="7.5" fill="#777b80"/>
<circle cx="1026.9" cy="243.0" r="3.2" fill="#6d7176" stroke="#85888c" stroke-width="0.6"/>
<rect x="1005.0" y="247.3" width="10.5" height="33.0" fill="#696d72"/>
<rect x="1015.5" y="248.3" width="16.0" height="1.5" fill="#4c5159"/>
<rect x="1015.5" y="251.3" width="16.0" height="1.5" fill="#4c5159"/>
<rect x="1015.5" y="254.3" width="16.0" height="1.5" fill="#4c5159"/>
<rect x="1015.5" y="257.3" width="16.0" height="1.5" fill="#4c5159"/>
<rect x="1015.5" y="260.3" width="16.0" height="1.5" fill="#4c5159"/>
<rect x="1015.5" y="263.3" width="16.0" height="1.5" fill="#4c5159"/>
<rect x="1015.5" y="266.3" width="16.0" height="1.5" fill="#4c5159"/>
<rect x="1015.5" y="269.3" width="16.0" height="1.5" fill="#4c5159"/>
<rect x="1015.5" y="272.3" width="16.0" height="1.5" fill="#4c5159"/>
<rect x="1015.5" y="275.3" width="16.0" height="1.5" fill="#4c5159"/>
<rect x="1015.5" y="278.3" width="16.0" height="1.5" fill="#4c5159"/>
<rect x="1015.5" y="248.3" width="16.0" height="1.5" fill="#6a6e73"/>
<rect x="1017.5" y="251.3" width="14.0" height="1.5" fill="#6a6e73"/>
<rect x="1015.7" y="259.6" width="5.0" height="2.0" fill="#d8d040"/>
<rect x="1012.0" y="257.3" width="2.0" height="2.0" fill="#3848b0"/>
<rect x="1015.7" y="266.3" width="2.6" height="2.0" fill="#19e21d"/>
<rect x="1015.7" y="268.3" width="7.0" height="2.4" fill="#0df219"/>
<rect x="1015.7" y="270.7" width="11.0" height="3.2" fill="#0df219"/>
<rect x="1005.0" y="280.8" width="27.0" height="2.4" fill="#33383f"/>
<rect x="1015.8" y="284.9" width="7.0" height="2.3" fill="#ffffff"/>
<rect x="1015.8" y="288.0" width="11.0" height="2.3" fill="#ffffff"/>
<rect x="1015.8" y="291.6" width="7.0" height="2.3" fill="#ffffff"/>
<rect x="1015.8" y="294.6" width="4.0" height="2.3" fill="#ffffff"/>
<rect x="1015.8" y="297.5" width="7.0" height="2.3" fill="#ffffff"/>
<rect x="1015.8" y="300.1" width="11.0" height="2.3" fill="#ffffff"/>
<rect x="1015.8" y="303.5" width="8.0" height="2.3" fill="#ffffff"/>
<rect x="1015.8" y="306.7" width="5.0" height="2.3" fill="#ffffff"/>
<rect x="1015.8" y="309.7" width="15.0" height="2.3" fill="#ffffff"/>
<rect x="1005.0" y="284.3" width="9.0" height="29.0" fill="#5d6167" fill-opacity="0.9"/>
<rect x="1005.5" y="315.3" width="8.5" height="2.0" fill="#686c72"/>
<rect x="1015.5" y="315.3" width="15.5" height="1.3" fill="#50555c"/>
<rect x="1005.5" y="318.6" width="8.5" height="2.0" fill="#686c72"/>
<rect x="1015.5" y="318.6" width="15.5" height="1.3" fill="#50555c"/>
<rect x="1005.5" y="321.9" width="8.5" height="2.0" fill="#686c72"/>
<rect x="1015.5" y="321.9" width="15.5" height="1.3" fill="#50555c"/>
<rect x="1005.5" y="325.2" width="8.5" height="2.0" fill="#686c72"/>
<rect x="1015.5" y="325.2" width="15.5" height="1.3" fill="#50555c"/>
<rect x="1005.5" y="328.5" width="8.5" height="2.0" fill="#686c72"/>
<rect x="1015.5" y="328.5" width="15.5" height="1.3" fill="#50555c"/>
<rect x="1005.5" y="331.8" width="8.5" height="2.0" fill="#686c72"/>
<rect x="1015.5" y="331.8" width="15.5" height="1.3" fill="#50555c"/>
<rect x="1005.0" y="334.3" width="25.0" height="3.0" fill="#606469"/>
<path d="M1005.0 338.8 H1029.0 V350.3 L1031.0 357.3 H1023.5 V359.8 H1005.0 Z" fill="#6c6f73" stroke="none" stroke-width="0" />
<rect x="1005.5" y="359.6" width="11.0" height="2.2" fill="#85888c" fill-opacity="0.8"/>
<rect x="1018.5" y="359.6" width="12.0" height="2.2" fill="#85888c" fill-opacity="0.8"/>
<rect x="419.5" y="376.7" width="167.0" height="119.5" fill="none" stroke="#0c0f13" stroke-width="1.2"/>
<rect x="428.1" y="385.5" width="149.6" height="101.9" fill="none" stroke="#70747a" stroke-width="2.2512"/>
<line x1="429.1" y1="483.4" x2="576.8" y2="483.4" stroke="#6d7176" stroke-width="0.6432000000000001"/>
<rect x="431.0" y="485.0" width="5.6" height="1.8" fill="#80848a" fill-opacity="0.75"/>
<rect x="449.9" y="485.0" width="5.6" height="1.8" fill="#80848a" fill-opacity="0.75"/>
<rect x="468.8" y="485.0" width="5.6" height="1.8" fill="#80848a" fill-opacity="0.75"/>
<rect x="487.7" y="485.0" width="5.6" height="1.8" fill="#80848a" fill-opacity="0.75"/>
<rect x="506.6" y="485.0" width="5.6" height="1.8" fill="#80848a" fill-opacity="0.75"/>
<rect x="525.5" y="485.0" width="5.6" height="1.8" fill="#80848a" fill-opacity="0.75"/>
<rect x="544.3" y="485.0" width="5.6" height="1.8" fill="#80848a" fill-opacity="0.75"/>
<rect x="553.6" y="386.5" width="23.2" height="100.0" fill="#454a52" fill-opacity="0.5"/>
<line x1="553.6" y1="386.5" x2="553.6" y2="486.5" stroke="#85888c" stroke-width="0.804"/>
<rect x="555.2" y="388.4" width="13.7" height="6.0" fill="#777b80"/>
<circle cx="572.4" cy="391.4" r="2.6" fill="#6d7176" stroke="#85888c" stroke-width="0.5"/>
<rect x="555.2" y="396.9" width="19.3" height="1.3" fill="#70747a"/>
<rect x="555.2" y="399.3" width="9.6" height="1.3" fill="#7c8086"/>
<rect x="567.2" y="399.3" width="8.0" height="1.3" fill="#595e65"/>
<rect x="555.2" y="401.7" width="9.6" height="1.3" fill="#70747a"/>
<rect x="567.2" y="401.7" width="8.0" height="1.3" fill="#595e65"/>
<rect x="555.2" y="404.1" width="20.1" height="1.3" fill="#595e65"/>
<rect x="555.2" y="406.5" width="20.1" height="1.2" fill="#4c5159"/>
<rect x="555.2" y="408.9" width="20.1" height="1.2" fill="#4c5159"/>
<rect x="555.2" y="411.3" width="20.1" height="1.2" fill="#4c5159"/>
<rect x="555.2" y="413.7" width="20.1" height="1.2" fill="#4c5159"/>
<rect x="555.2" y="416.2" width="20.1" height="1.2" fill="#4c5159"/>
<rect x="555.2" y="418.6" width="20.1" height="1.2" fill="#4c5159"/>
<rect x="555.2" y="421.0" width="20.1" height="1.2" fill="#4c5159"/>
<rect x="554.8" y="405.3" width="8.4" height="16.9" fill="#5a5e64" fill-opacity="0.85"/>
<rect x="563.6" y="406.2" width="4.0" height="1.8" fill="#f4ee3c"/>
<rect x="563.6" y="411.1" width="2.4" height="1.4" fill="#19e21d"/>
<rect x="563.6" y="412.5" width="6.1" height="2.6" fill="#0df219"/>
<rect x="563.6" y="415.8" width="8.0" height="1.2" fill="#3c9a45"/>
<rect x="556.0" y="406.5" width="1.3" height="1.3" fill="#34479a"/>
<rect x="556.0" y="408.9" width="1.3" height="1.3" fill="#34479a"/>
<rect x="556.0" y="412.9" width="1.3" height="1.3" fill="#34479a"/>
<rect x="559.2" y="406.5" width="1.3" height="1.3" fill="#34479a"/>
<rect x="559.2" y="408.9" width="1.3" height="1.3" fill="#34479a"/>
<rect x="559.2" y="412.9" width="1.3" height="1.3" fill="#34479a"/>
<rect x="554.4" y="422.2" width="21.7" height="1.8" fill="#33383f"/>
<rect x="555.2" y="425.0" width="7.6" height="22.5" fill="#6e7277" fill-opacity="0.9"/>
<rect x="563.5" y="424.4" width="4.4" height="1.8" fill="#ffffff"/>
<rect x="563.5" y="427.2" width="8.4" height="1.8" fill="#ffffff"/>
<rect x="563.5" y="429.8" width="4.4" height="1.8" fill="#ffffff"/>
<rect x="563.5" y="432.6" width="2.0" height="1.8" fill="#ffffff"/>
<rect x="563.5" y="434.6" width="4.4" height="1.8" fill="#ffffff"/>
<rect x="563.5" y="436.8" width="8.4" height="1.8" fill="#ffffff"/>
<rect x="563.5" y="439.6" width="5.6" height="1.8" fill="#ffffff"/>
<rect x="563.5" y="442.0" width="2.8" height="1.8" fill="#ffffff"/>
<rect x="563.5" y="444.4" width="11.3" height="1.8" fill="#ffffff"/>
<rect x="563.5" y="427.2" width="12.1" height="0.6" fill="#595e65"/>
<rect x="563.5" y="430.0" width="12.1" height="0.6" fill="#595e65"/>
<rect x="563.5" y="432.8" width="12.1" height="0.6" fill="#595e65"/>
<rect x="563.5" y="435.6" width="12.1" height="0.6" fill="#595e65"/>
<rect x="563.5" y="438.4" width="12.1" height="0.6" fill="#595e65"/>
<rect x="563.5" y="441.2" width="12.1" height="0.6" fill="#595e65"/>
<rect x="563.5" y="444.1" width="12.1" height="0.6" fill="#595e65"/>
<rect x="563.5" y="446.9" width="12.1" height="0.6" fill="#595e65"/>
<rect x="555.2" y="449.1" width="6.4" height="1.3" fill="#666a70"/>
<rect x="563.2" y="449.1" width="12.5" height="1.0" fill="#565b62"/>
<rect x="555.2" y="451.2" width="6.4" height="1.3" fill="#666a70"/>
<rect x="563.2" y="451.2" width="12.5" height="1.0" fill="#565b62"/>
<rect x="555.2" y="453.3" width="6.4" height="1.3" fill="#666a70"/>
<rect x="563.2" y="453.3" width="12.5" height="1.0" fill="#565b62"/>
<rect x="555.2" y="455.4" width="6.4" height="1.3" fill="#666a70"/>
<rect x="563.2" y="455.4" width="12.5" height="1.0" fill="#565b62"/>
<rect x="555.2" y="457.5" width="6.4" height="1.3" fill="#666a70"/>
<rect x="563.2" y="457.5" width="12.5" height="1.0" fill="#565b62"/>
<rect x="555.2" y="459.6" width="6.4" height="1.3" fill="#666a70"/>
<rect x="563.2" y="459.6" width="12.5" height="1.0" fill="#565b62"/>
<rect x="555.2" y="461.7" width="6.4" height="1.3" fill="#666a70"/>
<rect x="563.2" y="461.7" width="12.5" height="1.0" fill="#565b62"/>
<rect x="554.2" y="465.0" width="22.0" height="1.5" fill="#7c8085"/>
<rect x="554.2" y="467.5" width="22.0" height="1.5" fill="#7c8085"/>
<rect x="554.2" y="469.9" width="22.0" height="1.5" fill="#7c8085"/>
<rect x="554.2" y="472.4" width="22.0" height="1.5" fill="#7c8085"/>
<rect x="554.2" y="474.9" width="22.0" height="1.5" fill="#7c8085"/>
<rect x="554.2" y="477.4" width="22.0" height="1.5" fill="#7c8085"/>
<rect x="554.2" y="479.9" width="22.0" height="1.5" fill="#7c8085"/>
<rect x="554.2" y="482.4" width="22.0" height="1.5" fill="#7c8085"/>
<rect x="555.2" y="485.1" width="8.8" height="1.8" fill="#85888c" fill-opacity="0.8"/>
<rect x="565.6" y="485.1" width="9.6" height="1.8" fill="#85888c" fill-opacity="0.8"/>
<rect x="628.5" y="376.7" width="166.0" height="119.5" fill="none" stroke="#0c0f13" stroke-width="1.2"/>
<rect x="635.6" y="385.5" width="150.1" height="101.9" fill="none" stroke="#70747a" stroke-width="2.2512"/>
<line x1="636.6" y1="483.4" x2="784.8" y2="483.4" stroke="#6d7176" stroke-width="0.6432000000000001"/>
<rect x="638.5" y="485.0" width="5.6" height="1.8" fill="#80848a" fill-opacity="0.75"/>
<rect x="657.5" y="485.0" width="5.6" height="1.8" fill="#80848a" fill-opacity="0.75"/>
<rect x="676.4" y="485.0" width="5.6" height="1.8" fill="#80848a" fill-opacity="0.75"/>
<rect x="695.4" y="485.0" width="5.6" height="1.8" fill="#80848a" fill-opacity="0.75"/>
<rect x="714.3" y="485.0" width="5.6" height="1.8" fill="#80848a" fill-opacity="0.75"/>
<rect x="733.3" y="485.0" width="5.6" height="1.8" fill="#80848a" fill-opacity="0.75"/>
<rect x="752.2" y="485.0" width="5.6" height="1.8" fill="#80848a" fill-opacity="0.75"/>
<rect x="761.6" y="386.5" width="23.2" height="100.0" fill="#454a52" fill-opacity="0.5"/>
<line x1="761.6" y1="386.5" x2="761.6" y2="486.5" stroke="#85888c" stroke-width="0.804"/>
<rect x="763.2" y="388.4" width="13.7" height="6.0" fill="#777b80"/>
<circle cx="780.4" cy="391.4" r="2.6" fill="#6d7176" stroke="#85888c" stroke-width="0.5"/>
<rect x="763.2" y="396.9" width="19.3" height="1.3" fill="#70747a"/>
<rect x="763.2" y="399.3" width="9.6" height="1.3" fill="#7c8086"/>
<rect x="775.2" y="399.3" width="8.0" height="1.3" fill="#595e65"/>
<rect x="763.2" y="401.7" width="9.6" height="1.3" fill="#70747a"/>
<rect x="775.2" y="401.7" width="8.0" height="1.3" fill="#595e65"/>
<rect x="763.2" y="404.1" width="20.1" height="1.3" fill="#595e65"/>
<rect x="763.2" y="406.5" width="20.1" height="1.2" fill="#4c5159"/>
<rect x="763.2" y="408.9" width="20.1" height="1.2" fill="#4c5159"/>
<rect x="763.2" y="411.3" width="20.1" height="1.2" fill="#4c5159"/>
<rect x="763.2" y="413.7" width="20.1" height="1.2" fill="#4c5159"/>
<rect x="763.2" y="416.2" width="20.1" height="1.2" fill="#4c5159"/>
<rect x="763.2" y="418.6" width="20.1" height="1.2" fill="#4c5159"/>
<rect x="763.2" y="421.0" width="20.1" height="1.2" fill="#4c5159"/>
<rect x="762.8" y="405.3" width="8.4" height="16.9" fill="#5a5e64" fill-opacity="0.85"/>
<rect x="771.6" y="406.2" width="4.0" height="1.8" fill="#f4ee3c"/>
<rect x="771.6" y="411.1" width="2.4" height="1.4" fill="#19e21d"/>
<rect x="771.6" y="412.5" width="6.1" height="2.6" fill="#0df219"/>
<rect x="771.6" y="415.8" width="8.0" height="1.2" fill="#3c9a45"/>
<rect x="764.0" y="406.5" width="1.3" height="1.3" fill="#34479a"/>
<rect x="764.0" y="408.9" width="1.3" height="1.3" fill="#34479a"/>
<rect x="764.0" y="412.9" width="1.3" height="1.3" fill="#34479a"/>
<rect x="767.2" y="406.5" width="1.3" height="1.3" fill="#34479a"/>
<rect x="767.2" y="408.9" width="1.3" height="1.3" fill="#34479a"/>
<rect x="767.2" y="412.9" width="1.3" height="1.3" fill="#34479a"/>
<rect x="762.4" y="422.2" width="21.7" height="1.8" fill="#33383f"/>
<rect x="763.2" y="425.0" width="7.6" height="22.5" fill="#6e7277" fill-opacity="0.9"/>
<rect x="771.5" y="424.4" width="4.4" height="1.8" fill="#ffffff"/>
<rect x="771.5" y="427.2" width="8.4" height="1.8" fill="#ffffff"/>
<rect x="771.5" y="429.8" width="4.4" height="1.8" fill="#ffffff"/>
<rect x="771.5" y="432.6" width="2.0" height="1.8" fill="#ffffff"/>
<rect x="771.5" y="434.6" width="4.4" height="1.8" fill="#ffffff"/>
<rect x="771.5" y="436.8" width="8.4" height="1.8" fill="#ffffff"/>
<rect x="771.5" y="439.6" width="5.6" height="1.8" fill="#ffffff"/>
<rect x="771.5" y="442.0" width="2.8" height="1.8" fill="#ffffff"/>
<rect x="771.5" y="444.4" width="11.3" height="1.8" fill="#ffffff"/>
<rect x="771.5" y="427.2" width="12.1" height="0.6" fill="#595e65"/>
<rect x="771.5" y="430.0" width="12.1" height="0.6" fill="#595e65"/>
<rect x="771.5" y="432.8" width="12.1" height="0.6" fill="#595e65"/>
<rect x="771.5" y="435.6" width="12.1" height="0.6" fill="#595e65"/>
<rect x="771.5" y="438.4" width="12.1" height="0.6" fill="#595e65"/>
<rect x="771.5" y="441.2" width="12.1" height="0.6" fill="#595e65"/>
<rect x="771.5" y="444.1" width="12.1" height="0.6" fill="#595e65"/>
<rect x="771.5" y="446.9" width="12.1" height="0.6" fill="#595e65"/>
<rect x="763.2" y="449.1" width="6.4" height="1.3" fill="#666a70"/>
<rect x="771.2" y="449.1" width="12.5" height="1.0" fill="#565b62"/>
<rect x="763.2" y="451.2" width="6.4" height="1.3" fill="#666a70"/>
<rect x="771.2" y="451.2" width="12.5" height="1.0" fill="#565b62"/>
<rect x="763.2" y="453.3" width="6.4" height="1.3" fill="#666a70"/>
<rect x="771.2" y="453.3" width="12.5" height="1.0" fill="#565b62"/>
<rect x="763.2" y="455.4" width="6.4" height="1.3" fill="#666a70"/>
<rect x="771.2" y="455.4" width="12.5" height="1.0" fill="#565b62"/>
<rect x="763.2" y="457.5" width="6.4" height="1.3" fill="#666a70"/>
<rect x="771.2" y="457.5" width="12.5" height="1.0" fill="#565b62"/>
<rect x="763.2" y="459.6" width="6.4" height="1.3" fill="#666a70"/>
<rect x="771.2" y="459.6" width="12.5" height="1.0" fill="#565b62"/>
<rect x="763.2" y="461.7" width="6.4" height="1.3" fill="#666a70"/>
<rect x="771.2" y="461.7" width="12.5" height="1.0" fill="#565b62"/>
<rect x="762.2" y="465.0" width="22.0" height="1.5" fill="#7c8085"/>
<rect x="762.2" y="467.5" width="22.0" height="1.5" fill="#7c8085"/>
<rect x="762.2" y="469.9" width="22.0" height="1.5" fill="#7c8085"/>
<rect x="762.2" y="472.4" width="22.0" height="1.5" fill="#7c8085"/>
<rect x="762.2" y="474.9" width="22.0" height="1.5" fill="#7c8085"/>
<rect x="762.2" y="477.4" width="22.0" height="1.5" fill="#7c8085"/>
<rect x="762.2" y="479.9" width="22.0" height="1.5" fill="#7c8085"/>
<rect x="762.2" y="482.4" width="22.0" height="1.5" fill="#7c8085"/>
<rect x="763.2" y="485.1" width="8.8" height="1.8" fill="#85888c" fill-opacity="0.8"/>
<rect x="773.6" y="485.1" width="9.6" height="1.8" fill="#85888c" fill-opacity="0.8"/>
<rect x="419.5" y="496.2" width="187.0" height="135.8" fill="none" stroke="#0c0f13" stroke-width="1.2"/>
<rect x="429.1" y="506.2" width="168.2" height="115.9" fill="none" stroke="#70747a" stroke-width="2.5284"/>
<line x1="430.1" y1="617.4" x2="596.2" y2="617.4" stroke="#6d7176" stroke-width="0.7224"/>
<rect x="432.3" y="619.2" width="6.3" height="2.0" fill="#80848a" fill-opacity="0.75"/>
<rect x="453.5" y="619.2" width="6.3" height="2.0" fill="#80848a" fill-opacity="0.75"/>
<rect x="474.8" y="619.2" width="6.3" height="2.0" fill="#80848a" fill-opacity="0.75"/>
<rect x="496.0" y="619.2" width="6.3" height="2.0" fill="#80848a" fill-opacity="0.75"/>
<rect x="517.2" y="619.2" width="6.3" height="2.0" fill="#80848a" fill-opacity="0.75"/>
<rect x="538.4" y="619.2" width="6.3" height="2.0" fill="#80848a" fill-opacity="0.75"/>
<rect x="559.7" y="619.2" width="6.3" height="2.0" fill="#80848a" fill-opacity="0.75"/>
<rect x="570.1" y="507.2" width="26.1" height="113.7" fill="#454a52" fill-opacity="0.5"/>
<line x1="570.1" y1="507.2" x2="570.1" y2="621.0" stroke="#85888c" stroke-width="0.903"/>
<rect x="571.9" y="509.4" width="15.4" height="6.8" fill="#777b80"/>
<circle cx="591.2" cy="512.8" r="2.9" fill="#6d7176" stroke="#85888c" stroke-width="0.5"/>
<rect x="571.9" y="518.9" width="21.7" height="1.4" fill="#70747a"/>
<rect x="571.9" y="521.6" width="10.8" height="1.4" fill="#7c8086"/>
<rect x="585.4" y="521.6" width="9.0" height="1.4" fill="#595e65"/>
<rect x="571.9" y="524.3" width="10.8" height="1.4" fill="#70747a"/>
<rect x="585.4" y="524.3" width="9.0" height="1.4" fill="#595e65"/>
<rect x="571.9" y="527.0" width="22.6" height="1.4" fill="#595e65"/>
<rect x="571.9" y="529.7" width="22.6" height="1.4" fill="#4c5159"/>
<rect x="571.9" y="532.4" width="22.6" height="1.4" fill="#4c5159"/>
<rect x="571.9" y="535.2" width="22.6" height="1.4" fill="#4c5159"/>
<rect x="571.9" y="537.9" width="22.6" height="1.4" fill="#4c5159"/>
<rect x="571.9" y="540.6" width="22.6" height="1.4" fill="#4c5159"/>
<rect x="571.9" y="543.3" width="22.6" height="1.4" fill="#4c5159"/>
<rect x="571.9" y="546.0" width="22.6" height="1.4" fill="#4c5159"/>
<rect x="571.4" y="528.4" width="9.5" height="19.0" fill="#5a5e64" fill-opacity="0.85"/>
<rect x="581.3" y="529.4" width="4.5" height="2.0" fill="#f4ee3c"/>
<rect x="581.3" y="534.9" width="2.7" height="1.6" fill="#19e21d"/>
<rect x="581.3" y="536.5" width="6.9" height="2.9" fill="#0df219"/>
<rect x="581.3" y="540.1" width="9.0" height="1.4" fill="#3c9a45"/>
<rect x="572.8" y="529.7" width="1.4" height="1.4" fill="#34479a"/>
<rect x="572.8" y="532.4" width="1.4" height="1.4" fill="#34479a"/>
<rect x="572.8" y="537.0" width="1.4" height="1.4" fill="#34479a"/>
<rect x="576.4" y="529.7" width="1.4" height="1.4" fill="#34479a"/>
<rect x="576.4" y="532.4" width="1.4" height="1.4" fill="#34479a"/>
<rect x="576.4" y="537.0" width="1.4" height="1.4" fill="#34479a"/>
<rect x="571.0" y="547.3" width="24.4" height="2.0" fill="#33383f"/>
<rect x="571.9" y="550.5" width="8.6" height="25.3" fill="#6e7277" fill-opacity="0.9"/>
<rect x="581.2" y="549.9" width="5.0" height="2.1" fill="#ffffff"/>
<rect x="581.2" y="552.9" width="9.5" height="2.1" fill="#ffffff"/>
<rect x="581.2" y="555.9" width="5.0" height="2.1" fill="#ffffff"/>
<rect x="581.2" y="559.1" width="2.3" height="2.1" fill="#ffffff"/>
<rect x="581.2" y="561.2" width="5.0" height="2.1" fill="#ffffff"/>
<rect x="581.2" y="563.8" width="9.5" height="2.1" fill="#ffffff"/>
<rect x="581.2" y="566.8" width="6.3" height="2.1" fill="#ffffff"/>
<rect x="581.2" y="569.6" width="3.2" height="2.1" fill="#ffffff"/>
<rect x="581.2" y="572.3" width="12.6" height="2.1" fill="#ffffff"/>
<rect x="581.2" y="552.9" width="13.5" height="0.7" fill="#595e65"/>
<rect x="581.2" y="556.1" width="13.5" height="0.7" fill="#595e65"/>
<rect x="581.2" y="559.3" width="13.5" height="0.7" fill="#595e65"/>
<rect x="581.2" y="562.4" width="13.5" height="0.7" fill="#595e65"/>
<rect x="581.2" y="565.6" width="13.5" height="0.7" fill="#595e65"/>
<rect x="581.2" y="568.7" width="13.5" height="0.7" fill="#595e65"/>
<rect x="581.2" y="571.9" width="13.5" height="0.7" fill="#595e65"/>
<rect x="581.2" y="575.1" width="13.5" height="0.7" fill="#595e65"/>
<rect x="571.9" y="577.6" width="7.2" height="1.4" fill="#666a70"/>
<rect x="580.9" y="577.6" width="14.0" height="1.2" fill="#565b62"/>
<rect x="571.9" y="579.9" width="7.2" height="1.4" fill="#666a70"/>
<rect x="580.9" y="579.9" width="14.0" height="1.2" fill="#565b62"/>
<rect x="571.9" y="582.3" width="7.2" height="1.4" fill="#666a70"/>
<rect x="580.9" y="582.3" width="14.0" height="1.2" fill="#565b62"/>
<rect x="571.9" y="584.6" width="7.2" height="1.4" fill="#666a70"/>
<rect x="580.9" y="584.6" width="14.0" height="1.2" fill="#565b62"/>
<rect x="571.9" y="587.0" width="7.2" height="1.4" fill="#666a70"/>
<rect x="580.9" y="587.0" width="14.0" height="1.2" fill="#565b62"/>
<rect x="571.9" y="589.3" width="7.2" height="1.4" fill="#666a70"/>
<rect x="580.9" y="589.3" width="14.0" height="1.2" fill="#565b62"/>
<rect x="571.9" y="591.7" width="7.2" height="1.4" fill="#666a70"/>
<rect x="580.9" y="591.7" width="14.0" height="1.2" fill="#565b62"/>
<rect x="570.8" y="595.4" width="24.7" height="1.7" fill="#7c8085"/>
<rect x="570.8" y="598.2" width="24.7" height="1.7" fill="#7c8085"/>
<rect x="570.8" y="601.0" width="24.7" height="1.7" fill="#7c8085"/>
<rect x="570.8" y="603.8" width="24.7" height="1.7" fill="#7c8085"/>
<rect x="570.8" y="606.6" width="24.7" height="1.7" fill="#7c8085"/>
<rect x="570.8" y="609.4" width="24.7" height="1.7" fill="#7c8085"/>
<rect x="570.8" y="612.2" width="24.7" height="1.7" fill="#7c8085"/>
<rect x="570.8" y="615.0" width="24.7" height="1.7" fill="#7c8085"/>
<rect x="571.9" y="618.0" width="9.9" height="2.0" fill="#85888c" fill-opacity="0.8"/>
<rect x="583.6" y="618.0" width="10.8" height="2.0" fill="#85888c" fill-opacity="0.8"/>
<rect x="419.5" y="632.0" width="208.3" height="149.8" fill="none" stroke="#0c0f13" stroke-width="1.2"/>
<rect x="430.4" y="643.6" width="186.1" height="127.7" fill="none" stroke="#70747a" stroke-width="2.8"/>
<line x1="431.6" y1="766.2" x2="615.3" y2="766.2" stroke="#6d7176" stroke-width="0.8"/>
<rect x="434.0" y="768.2" width="7.0" height="2.2" fill="#80848a" fill-opacity="0.75"/>
<rect x="457.5" y="768.2" width="7.0" height="2.2" fill="#80848a" fill-opacity="0.75"/>
<rect x="481.0" y="768.2" width="7.0" height="2.2" fill="#80848a" fill-opacity="0.75"/>
<rect x="504.5" y="768.2" width="7.0" height="2.2" fill="#80848a" fill-opacity="0.75"/>
<rect x="528.0" y="768.2" width="7.0" height="2.2" fill="#80848a" fill-opacity="0.75"/>
<rect x="551.4" y="768.2" width="7.0" height="2.2" fill="#80848a" fill-opacity="0.75"/>
<rect x="574.9" y="768.2" width="7.0" height="2.2" fill="#80848a" fill-opacity="0.75"/>
<rect x="586.4" y="644.8" width="28.9" height="125.3" fill="#454a52" fill-opacity="0.5"/>
<line x1="586.4" y1="644.8" x2="586.4" y2="770.1" stroke="#85888c" stroke-width="1.0"/>
<rect x="588.4" y="647.2" width="17.0" height="7.5" fill="#777b80"/>
<circle cx="609.8" cy="650.9" r="3.2" fill="#6d7176" stroke="#85888c" stroke-width="0.6"/>
<rect x="588.4" y="657.7" width="24.0" height="1.6" fill="#70747a"/>
<rect x="588.4" y="660.7" width="12.0" height="1.6" fill="#7c8086"/>
<rect x="603.4" y="660.7" width="10.0" height="1.6" fill="#595e65"/>
<rect x="588.4" y="663.7" width="12.0" height="1.6" fill="#70747a"/>
<rect x="603.4" y="663.7" width="10.0" height="1.6" fill="#595e65"/>
<rect x="588.4" y="666.7" width="25.0" height="1.6" fill="#595e65"/>
<rect x="588.4" y="669.7" width="25.0" height="1.5" fill="#4c5159"/>
<rect x="588.4" y="672.7" width="25.0" height="1.5" fill="#4c5159"/>
<rect x="588.4" y="675.7" width="25.0" height="1.5" fill="#4c5159"/>
<rect x="588.4" y="678.7" width="25.0" height="1.5" fill="#4c5159"/>
<rect x="588.4" y="681.7" width="25.0" height="1.5" fill="#4c5159"/>
<rect x="588.4" y="684.7" width="25.0" height="1.5" fill="#4c5159"/>
<rect x="588.4" y="687.7" width="25.0" height="1.5" fill="#4c5159"/>
<rect x="587.9" y="668.2" width="10.5" height="21.0" fill="#5a5e64" fill-opacity="0.85"/>
<rect x="598.9" y="669.3" width="5.0" height="2.2" fill="#f4ee3c"/>
<rect x="598.9" y="675.4" width="3.0" height="1.8" fill="#19e21d"/>
<rect x="598.9" y="677.2" width="7.6" height="3.2" fill="#0df219"/>
<rect x="598.9" y="681.2" width="10.0" height="1.5" fill="#3c9a45"/>
<rect x="589.4" y="669.7" width="1.6" height="1.6" fill="#34479a"/>
<rect x="589.4" y="672.7" width="1.6" height="1.6" fill="#34479a"/>
<rect x="589.4" y="677.7" width="1.6" height="1.6" fill="#34479a"/>
<rect x="593.4" y="669.7" width="1.6" height="1.6" fill="#34479a"/>
<rect x="593.4" y="672.7" width="1.6" height="1.6" fill="#34479a"/>
<rect x="593.4" y="677.7" width="1.6" height="1.6" fill="#34479a"/>
<rect x="587.4" y="689.2" width="27.0" height="2.2" fill="#33383f"/>
<rect x="588.4" y="692.7" width="9.5" height="28.0" fill="#6e7277" fill-opacity="0.9"/>
<rect x="598.7" y="692.0" width="5.5" height="2.3" fill="#ffffff"/>
<rect x="598.7" y="695.4" width="10.5" height="2.3" fill="#ffffff"/>
<rect x="598.7" y="698.7" width="5.5" height="2.3" fill="#ffffff"/>
<rect x="598.7" y="702.2" width="2.5" height="2.3" fill="#ffffff"/>
<rect x="598.7" y="704.6" width="5.5" height="2.3" fill="#ffffff"/>
<rect x="598.7" y="707.4" width="10.5" height="2.3" fill="#ffffff"/>
<rect x="598.7" y="710.8" width="7.0" height="2.3" fill="#ffffff"/>
<rect x="598.7" y="713.8" width="3.5" height="2.3" fill="#ffffff"/>
<rect x="598.7" y="716.8" width="14.0" height="2.3" fill="#ffffff"/>
<rect x="598.7" y="695.4" width="15.0" height="0.8" fill="#595e65"/>
<rect x="598.7" y="698.9" width="15.0" height="0.8" fill="#595e65"/>
<rect x="598.7" y="702.4" width="15.0" height="0.8" fill="#595e65"/>
<rect x="598.7" y="705.9" width="15.0" height="0.8" fill="#595e65"/>
<rect x="598.7" y="709.4" width="15.0" height="0.8" fill="#595e65"/>
<rect x="598.7" y="712.9" width="15.0" height="0.8" fill="#595e65"/>
<rect x="598.7" y="716.4" width="15.0" height="0.8" fill="#595e65"/>
<rect x="598.7" y="719.9" width="15.0" height="0.8" fill="#595e65"/>
<rect x="588.4" y="722.7" width="8.0" height="1.6" fill="#666a70"/>
<rect x="598.4" y="722.7" width="15.5" height="1.3" fill="#565b62"/>
<rect x="588.4" y="725.3" width="8.0" height="1.6" fill="#666a70"/>
<rect x="598.4" y="725.3" width="15.5" height="1.3" fill="#565b62"/>
<rect x="588.4" y="727.9" width="8.0" height="1.6" fill="#666a70"/>
<rect x="598.4" y="727.9" width="15.5" height="1.3" fill="#565b62"/>
<rect x="588.4" y="730.5" width="8.0" height="1.6" fill="#666a70"/>
<rect x="598.4" y="730.5" width="15.5" height="1.3" fill="#565b62"/>
<rect x="588.4" y="733.1" width="8.0" height="1.6" fill="#666a70"/>
<rect x="598.4" y="733.1" width="15.5" height="1.3" fill="#565b62"/>
<rect x="588.4" y="735.7" width="8.0" height="1.6" fill="#666a70"/>
<rect x="598.4" y="735.7" width="15.5" height="1.3" fill="#565b62"/>
<rect x="588.4" y="738.3" width="8.0" height="1.6" fill="#666a70"/>
<rect x="598.4" y="738.3" width="15.5" height="1.3" fill="#565b62"/>
<rect x="587.2" y="742.4" width="27.4" height="1.9" fill="#7c8085"/>
<rect x="587.2" y="745.5" width="27.4" height="1.9" fill="#7c8085"/>
<rect x="587.2" y="748.6" width="27.4" height="1.9" fill="#7c8085"/>
<rect x="587.2" y="751.7" width="27.4" height="1.9" fill="#7c8085"/>
<rect x="587.2" y="754.8" width="27.4" height="1.9" fill="#7c8085"/>
<rect x="587.2" y="757.9" width="27.4" height="1.9" fill="#7c8085"/>
<rect x="587.2" y="761.0" width="27.4" height="1.9" fill="#7c8085"/>
<rect x="587.2" y="764.1" width="27.4" height="1.9" fill="#7c8085"/>
<rect x="588.4" y="767.5" width="11.0" height="2.2" fill="#85888c" fill-opacity="0.8"/>
<rect x="601.4" y="767.5" width="12.0" height="2.2" fill="#85888c" fill-opacity="0.8"/>
<rect x="999.4" y="393.2" width="208.2" height="151.1" fill="none" stroke="#0c0f13" stroke-width="1.2"/>
<rect x="1207.3" y="393.2" width="208.2" height="151.1" fill="none" stroke="#0c0f13" stroke-width="1.2"/>
<rect x="1415.8" y="393.2" width="208.2" height="151.1" fill="none" stroke="#0c0f13" stroke-width="1.2"/>
<rect x="1008.9" y="402.8" width="188.5" height="131.4" fill="none" stroke="#7d8186" stroke-width="1.1"/>
<rect x="1011.0" y="404.9" width="184.3" height="127.2" fill="none" stroke="#777b80" stroke-width="0.9"/>
<line x1="1011.0" y1="528.2" x2="1195.3" y2="528.2" stroke="#6d7176" stroke-width="0.8"/>
<rect x="1013.4" y="530.2" width="7.0" height="2.2" fill="#80848a" fill-opacity="0.75"/>
<rect x="1037.0" y="530.2" width="7.0" height="2.2" fill="#80848a" fill-opacity="0.75"/>
<rect x="1060.5" y="530.2" width="7.0" height="2.2" fill="#80848a" fill-opacity="0.75"/>
<rect x="1084.1" y="530.2" width="7.0" height="2.2" fill="#80848a" fill-opacity="0.75"/>
<rect x="1107.7" y="530.2" width="7.0" height="2.2" fill="#80848a" fill-opacity="0.75"/>
<rect x="1131.2" y="530.2" width="7.0" height="2.2" fill="#80848a" fill-opacity="0.75"/>
<rect x="1154.8" y="530.2" width="7.0" height="2.2" fill="#80848a" fill-opacity="0.75"/>
<rect x="1166.4" y="404.9" width="28.9" height="127.2" fill="#454a52" fill-opacity="0.5"/>
<line x1="1166.4" y1="404.9" x2="1166.4" y2="532.1" stroke="#85888c" stroke-width="1.0"/>
<rect x="1168.4" y="407.3" width="17.0" height="7.5" fill="#777b80"/>
<circle cx="1189.8" cy="411.0" r="3.2" fill="#6d7176" stroke="#85888c" stroke-width="0.6"/>
<rect x="1167.9" y="415.3" width="10.5" height="33.0" fill="#696d72"/>
<rect x="1178.4" y="416.3" width="16.0" height="1.5" fill="#4c5159"/>
<rect x="1178.4" y="419.3" width="16.0" height="1.5" fill="#4c5159"/>
<rect x="1178.4" y="422.3" width="16.0" height="1.5" fill="#4c5159"/>
<rect x="1178.4" y="425.3" width="16.0" height="1.5" fill="#4c5159"/>
<rect x="1178.4" y="428.3" width="16.0" height="1.5" fill="#4c5159"/>
<rect x="1178.4" y="431.3" width="16.0" height="1.5" fill="#4c5159"/>
<rect x="1178.4" y="434.3" width="16.0" height="1.5" fill="#4c5159"/>
<rect x="1178.4" y="437.3" width="16.0" height="1.5" fill="#4c5159"/>
<rect x="1178.4" y="440.3" width="16.0" height="1.5" fill="#4c5159"/>
<rect x="1178.4" y="443.3" width="16.0" height="1.5" fill="#4c5159"/>
<rect x="1178.4" y="446.3" width="16.0" height="1.5" fill="#4c5159"/>
<rect x="1178.4" y="416.3" width="16.0" height="1.5" fill="#6a6e73"/>
<rect x="1180.4" y="419.3" width="14.0" height="1.5" fill="#6a6e73"/>
<rect x="1178.6" y="425.9" width="5.6" height="4.8" fill="#e6e23c"/>
<rect x="1174.9" y="425.3" width="2.0" height="2.0" fill="#3848b0"/>
<rect x="1178.6" y="434.3" width="2.6" height="2.0" fill="#19e21d"/>
<rect x="1178.6" y="436.3" width="7.0" height="2.4" fill="#0df219"/>
<rect x="1178.6" y="438.7" width="11.0" height="3.2" fill="#0df219"/>
<rect x="1167.9" y="448.8" width="27.0" height="2.4" fill="#33383f"/>
<rect x="1178.7" y="452.9" width="7.0" height="2.3" fill="#ffffff"/>
<rect x="1178.7" y="456.0" width="11.0" height="2.3" fill="#ffffff"/>
<rect x="1178.7" y="459.6" width="7.0" height="2.3" fill="#ffffff"/>
<rect x="1178.7" y="462.6" width="4.0" height="2.3" fill="#ffffff"/>
<rect x="1178.7" y="465.5" width="7.0" height="2.3" fill="#ffffff"/>
<rect x="1178.7" y="468.1" width="11.0" height="2.3" fill="#ffffff"/>
<rect x="1178.7" y="471.5" width="8.0" height="2.3" fill="#ffffff"/>
<rect x="1178.7" y="474.7" width="5.0" height="2.3" fill="#ffffff"/>
<rect x="1178.7" y="477.7" width="15.0" height="2.3" fill="#ffffff"/>
<rect x="1167.9" y="452.3" width="9.0" height="29.0" fill="#5d6167" fill-opacity="0.9"/>
<rect x="1168.4" y="483.3" width="8.5" height="2.0" fill="#686c72"/>
<rect x="1178.4" y="483.3" width="15.5" height="1.3" fill="#50555c"/>
<rect x="1168.4" y="486.6" width="8.5" height="2.0" fill="#686c72"/>
<rect x="1178.4" y="486.6" width="15.5" height="1.3" fill="#50555c"/>
<rect x="1168.4" y="489.9" width="8.5" height="2.0" fill="#686c72"/>
<rect x="1178.4" y="489.9" width="15.5" height="1.3" fill="#50555c"/>
<rect x="1168.4" y="493.2" width="8.5" height="2.0" fill="#686c72"/>
<rect x="1178.4" y="493.2" width="15.5" height="1.3" fill="#50555c"/>
<rect x="1168.4" y="496.5" width="8.5" height="2.0" fill="#686c72"/>
<rect x="1178.4" y="496.5" width="15.5" height="1.3" fill="#50555c"/>
<rect x="1168.4" y="499.8" width="8.5" height="2.0" fill="#686c72"/>
<rect x="1178.4" y="499.8" width="15.5" height="1.3" fill="#50555c"/>
<rect x="1167.9" y="502.3" width="25.0" height="3.0" fill="#606469"/>
<path d="M1167.9 506.8 H1191.9 V518.3 L1193.9 525.3 H1186.4 V527.8 H1167.9 Z" fill="#6c6f73" stroke="none" stroke-width="0" />
<rect x="1168.4" y="527.6" width="11.0" height="2.2" fill="#85888c" fill-opacity="0.8"/>
<rect x="1181.4" y="527.6" width="12.0" height="2.2" fill="#85888c" fill-opacity="0.8"/>
<rect x="1216.9" y="402.8" width="188.5" height="131.4" fill="none" stroke="#7d8186" stroke-width="1.1"/>
<rect x="1219.0" y="404.9" width="184.3" height="127.2" fill="none" stroke="#777b80" stroke-width="0.9"/>
<line x1="1219.0" y1="528.2" x2="1403.3" y2="528.2" stroke="#6d7176" stroke-width="0.8"/>
<rect x="1221.4" y="530.2" width="7.0" height="2.2" fill="#80848a" fill-opacity="0.75"/>
<rect x="1245.0" y="530.2" width="7.0" height="2.2" fill="#80848a" fill-opacity="0.75"/>
<rect x="1268.5" y="530.2" width="7.0" height="2.2" fill="#80848a" fill-opacity="0.75"/>
<rect x="1292.1" y="530.2" width="7.0" height="2.2" fill="#80848a" fill-opacity="0.75"/>
<rect x="1315.7" y="530.2" width="7.0" height="2.2" fill="#80848a" fill-opacity="0.75"/>
<rect x="1339.2" y="530.2" width="7.0" height="2.2" fill="#80848a" fill-opacity="0.75"/>
<rect x="1362.8" y="530.2" width="7.0" height="2.2" fill="#80848a" fill-opacity="0.75"/>
<rect x="1374.4" y="404.9" width="28.9" height="127.2" fill="#454a52" fill-opacity="0.5"/>
<line x1="1374.4" y1="404.9" x2="1374.4" y2="532.1" stroke="#85888c" stroke-width="1.0"/>
<rect x="1376.4" y="407.3" width="17.0" height="7.5" fill="#777b80"/>
<circle cx="1397.8" cy="411.0" r="3.2" fill="#6d7176" stroke="#85888c" stroke-width="0.6"/>
<rect x="1375.9" y="415.3" width="10.5" height="33.0" fill="#696d72"/>
<rect x="1386.4" y="416.3" width="16.0" height="1.5" fill="#4c5159"/>
<rect x="1386.4" y="419.3" width="16.0" height="1.5" fill="#4c5159"/>
<rect x="1386.4" y="422.3" width="16.0" height="1.5" fill="#4c5159"/>
<rect x="1386.4" y="425.3" width="16.0" height="1.5" fill="#4c5159"/>
<rect x="1386.4" y="428.3" width="16.0" height="1.5" fill="#4c5159"/>
<rect x="1386.4" y="431.3" width="16.0" height="1.5" fill="#4c5159"/>
<rect x="1386.4" y="434.3" width="16.0" height="1.5" fill="#4c5159"/>
<rect x="1386.4" y="437.3" width="16.0" height="1.5" fill="#4c5159"/>
<rect x="1386.4" y="440.3" width="16.0" height="1.5" fill="#4c5159"/>
<rect x="1386.4" y="443.3" width="16.0" height="1.5" fill="#4c5159"/>
<rect x="1386.4" y="446.3" width="16.0" height="1.5" fill="#4c5159"/>
<rect x="1386.4" y="416.3" width="16.0" height="1.5" fill="#6a6e73"/>
<rect x="1388.4" y="419.3" width="14.0" height="1.5" fill="#6a6e73"/>
<rect x="1386.6" y="425.9" width="5.6" height="4.8" fill="#e6e23c"/>
<rect x="1382.9" y="425.3" width="2.0" height="2.0" fill="#3848b0"/>
<rect x="1386.6" y="434.3" width="2.6" height="2.0" fill="#19e21d"/>
<rect x="1386.6" y="436.3" width="7.0" height="2.4" fill="#0df219"/>
<rect x="1386.6" y="438.7" width="11.0" height="3.2" fill="#0df219"/>
<rect x="1375.9" y="448.8" width="27.0" height="2.4" fill="#33383f"/>
<rect x="1386.7" y="452.9" width="7.0" height="2.3" fill="#ffffff"/>
<rect x="1386.7" y="456.0" width="11.0" height="2.3" fill="#ffffff"/>
<rect x="1386.7" y="459.6" width="7.0" height="2.3" fill="#ffffff"/>
<rect x="1386.7" y="462.6" width="4.0" height="2.3" fill="#ffffff"/>
<rect x="1386.7" y="465.5" width="7.0" height="2.3" fill="#ffffff"/>
<rect x="1386.7" y="468.1" width="11.0" height="2.3" fill="#ffffff"/>
<rect x="1386.7" y="471.5" width="8.0" height="2.3" fill="#ffffff"/>
<rect x="1386.7" y="474.7" width="5.0" height="2.3" fill="#ffffff"/>
<rect x="1386.7" y="477.7" width="15.0" height="2.3" fill="#ffffff"/>
<rect x="1375.9" y="452.3" width="9.0" height="29.0" fill="#5d6167" fill-opacity="0.9"/>
<rect x="1376.4" y="483.3" width="8.5" height="2.0" fill="#686c72"/>
<rect x="1386.4" y="483.3" width="15.5" height="1.3" fill="#50555c"/>
<rect x="1376.4" y="486.6" width="8.5" height="2.0" fill="#686c72"/>
<rect x="1386.4" y="486.6" width="15.5" height="1.3" fill="#50555c"/>
<rect x="1376.4" y="489.9" width="8.5" height="2.0" fill="#686c72"/>
<rect x="1386.4" y="489.9" width="15.5" height="1.3" fill="#50555c"/>
<rect x="1376.4" y="493.2" width="8.5" height="2.0" fill="#686c72"/>
<rect x="1386.4" y="493.2" width="15.5" height="1.3" fill="#50555c"/>
<rect x="1376.4" y="496.5" width="8.5" height="2.0" fill="#686c72"/>
<rect x="1386.4" y="496.5" width="15.5" height="1.3" fill="#50555c"/>
<rect x="1376.4" y="499.8" width="8.5" height="2.0" fill="#686c72"/>
<rect x="1386.4" y="499.8" width="15.5" height="1.3" fill="#50555c"/>
<rect x="1375.9" y="502.3" width="25.0" height="3.0" fill="#606469"/>
<path d="M1375.9 506.8 H1399.9 V518.3 L1401.9 525.3 H1394.4 V527.8 H1375.9 Z" fill="#6c6f73" stroke="none" stroke-width="0" />
<rect x="1376.4" y="527.6" width="11.0" height="2.2" fill="#85888c" fill-opacity="0.8"/>
<rect x="1389.4" y="527.6" width="12.0" height="2.2" fill="#85888c" fill-opacity="0.8"/>
<rect x="1425.5" y="477.7" width="81.2" height="56.8" fill="none" stroke="#7d8186" stroke-width="0.4752"/>
<rect x="1426.4" y="478.6" width="79.4" height="55.0" fill="none" stroke="#777b80" stroke-width="0.3888"/>
<line x1="1426.4" y1="531.9" x2="1505.8" y2="531.9" stroke="#6d7176" stroke-width="0.3456"/>
<rect x="1427.5" y="532.8" width="3.0" height="1.0" fill="#80848a" fill-opacity="0.75"/>
<rect x="1437.6" y="532.8" width="3.0" height="1.0" fill="#80848a" fill-opacity="0.75"/>
<rect x="1447.8" y="532.8" width="3.0" height="1.0" fill="#80848a" fill-opacity="0.75"/>
<rect x="1457.9" y="532.8" width="3.0" height="1.0" fill="#80848a" fill-opacity="0.75"/>
<rect x="1468.0" y="532.8" width="3.0" height="1.0" fill="#80848a" fill-opacity="0.75"/>
<rect x="1478.2" y="532.8" width="3.0" height="1.0" fill="#80848a" fill-opacity="0.75"/>
<rect x="1488.3" y="532.8" width="3.0" height="1.0" fill="#80848a" fill-opacity="0.75"/>
<rect x="1493.3" y="478.6" width="12.5" height="55.0" fill="#454a52" fill-opacity="0.5"/>
<line x1="1493.3" y1="478.6" x2="1493.3" y2="533.6" stroke="#85888c" stroke-width="0.432"/>
<rect x="1494.2" y="479.7" width="7.3" height="3.2" fill="#777b80"/>
<circle cx="1503.4" cy="481.3" r="1.4" fill="#6d7176" stroke="#85888c" stroke-width="0.3"/>
<rect x="1493.9" y="483.1" width="4.5" height="14.3" fill="#696d72"/>
<rect x="1498.5" y="483.5" width="6.9" height="0.6" fill="#4c5159"/>
<rect x="1498.5" y="484.8" width="6.9" height="0.6" fill="#4c5159"/>
<rect x="1498.5" y="486.1" width="6.9" height="0.6" fill="#4c5159"/>
<rect x="1498.5" y="487.4" width="6.9" height="0.6" fill="#4c5159"/>
<rect x="1498.5" y="488.7" width="6.9" height="0.6" fill="#4c5159"/>
<rect x="1498.5" y="490.0" width="6.9" height="0.6" fill="#4c5159"/>
<rect x="1498.5" y="491.3" width="6.9" height="0.6" fill="#4c5159"/>
<rect x="1498.5" y="492.6" width="6.9" height="0.6" fill="#4c5159"/>
<rect x="1498.5" y="493.9" width="6.9" height="0.6" fill="#4c5159"/>
<rect x="1498.5" y="495.2" width="6.9" height="0.6" fill="#4c5159"/>
<rect x="1498.5" y="496.5" width="6.9" height="0.6" fill="#4c5159"/>
<rect x="1498.5" y="483.5" width="6.9" height="0.6" fill="#6a6e73"/>
<rect x="1499.3" y="484.8" width="6.0" height="0.6" fill="#6a6e73"/>
<rect x="1498.6" y="488.4" width="2.2" height="0.9" fill="#d8d040"/>
<rect x="1497.0" y="487.4" width="0.9" height="0.9" fill="#3848b0"/>
<rect x="1498.6" y="491.3" width="1.1" height="0.9" fill="#19e21d"/>
<rect x="1498.6" y="492.2" width="3.0" height="1.0" fill="#0df219"/>
<rect x="1498.6" y="493.2" width="4.8" height="1.4" fill="#0df219"/>
<rect x="1493.9" y="497.6" width="11.7" height="1.0" fill="#33383f"/>
<rect x="1498.6" y="499.4" width="3.0" height="1.0" fill="#ffffff"/>
<rect x="1498.6" y="500.7" width="4.8" height="1.0" fill="#ffffff"/>
<rect x="1498.6" y="502.3" width="3.0" height="1.0" fill="#ffffff"/>
<rect x="1498.6" y="503.5" width="1.7" height="1.0" fill="#ffffff"/>
<rect x="1498.6" y="504.8" width="3.0" height="1.0" fill="#ffffff"/>
<rect x="1498.6" y="505.9" width="4.8" height="1.0" fill="#ffffff"/>
<rect x="1498.6" y="507.4" width="3.5" height="1.0" fill="#ffffff"/>
<rect x="1498.6" y="508.8" width="2.2" height="1.0" fill="#ffffff"/>
<rect x="1498.6" y="510.1" width="6.5" height="1.0" fill="#ffffff"/>
<rect x="1493.9" y="499.1" width="3.9" height="12.5" fill="#5d6167" fill-opacity="0.9"/>
<rect x="1494.2" y="512.5" width="3.7" height="0.9" fill="#686c72"/>
<rect x="1498.5" y="512.5" width="6.7" height="0.6" fill="#50555c"/>
<rect x="1494.2" y="513.9" width="3.7" height="0.9" fill="#686c72"/>
<rect x="1498.5" y="513.9" width="6.7" height="0.6" fill="#50555c"/>
<rect x="1494.2" y="515.3" width="3.7" height="0.9" fill="#686c72"/>
<rect x="1498.5" y="515.3" width="6.7" height="0.6" fill="#50555c"/>
<rect x="1494.2" y="516.8" width="3.7" height="0.9" fill="#686c72"/>
<rect x="1498.5" y="516.8" width="6.7" height="0.6" fill="#50555c"/>
<rect x="1494.2" y="518.2" width="3.7" height="0.9" fill="#686c72"/>
<rect x="1498.5" y="518.2" width="6.7" height="0.6" fill="#50555c"/>
<rect x="1494.2" y="519.6" width="3.7" height="0.9" fill="#686c72"/>
<rect x="1498.5" y="519.6" width="6.7" height="0.6" fill="#50555c"/>
<rect x="1493.9" y="520.7" width="10.8" height="1.3" fill="#606469"/>
<path d="M1493.9 522.6 H1504.3 V527.6 L1505.2 530.6 H1501.9 V531.7 H1493.9 Z" fill="#6c6f73" stroke="none" stroke-width="0" />
<rect x="1494.2" y="531.6" width="4.8" height="1.0" fill="#85888c" fill-opacity="0.8"/>
<rect x="1499.8" y="531.6" width="5.2" height="1.0" fill="#85888c" fill-opacity="0.8"/>
<rect x="999.4" y="544.3" width="207.9" height="150.0" fill="none" stroke="#0c0f13" stroke-width="1.2"/>
<rect x="1009.8" y="555.0" width="186.7" height="128.3" fill="none" stroke="#70747a" stroke-width="2.8"/>
<line x1="1011.0" y1="678.2" x2="1195.3" y2="678.2" stroke="#6d7176" stroke-width="0.8"/>
<rect x="1013.4" y="680.2" width="7.0" height="2.2" fill="#80848a" fill-opacity="0.75"/>
<rect x="1037.0" y="680.2" width="7.0" height="2.2" fill="#80848a" fill-opacity="0.75"/>
<rect x="1060.5" y="680.2" width="7.0" height="2.2" fill="#80848a" fill-opacity="0.75"/>
<rect x="1084.1" y="680.2" width="7.0" height="2.2" fill="#80848a" fill-opacity="0.75"/>
<rect x="1107.7" y="680.2" width="7.0" height="2.2" fill="#80848a" fill-opacity="0.75"/>
<rect x="1131.2" y="680.2" width="7.0" height="2.2" fill="#80848a" fill-opacity="0.75"/>
<rect x="1154.8" y="680.2" width="7.0" height="2.2" fill="#80848a" fill-opacity="0.75"/>
<rect x="1166.4" y="556.2" width="28.9" height="125.9" fill="#454a52" fill-opacity="0.5"/>
<line x1="1166.4" y1="556.2" x2="1166.4" y2="682.1" stroke="#85888c" stroke-width="1.0"/>
<rect x="1168.4" y="558.6" width="17.0" height="7.5" fill="#777b80"/>
<circle cx="1189.8" cy="562.3" r="3.2" fill="#6d7176" stroke="#85888c" stroke-width="0.6"/>
<rect x="1168.4" y="569.1" width="24.0" height="1.6" fill="#70747a"/>
<rect x="1168.4" y="572.1" width="12.0" height="1.6" fill="#7c8086"/>
<rect x="1183.4" y="572.1" width="10.0" height="1.6" fill="#595e65"/>
<rect x="1168.4" y="575.1" width="12.0" height="1.6" fill="#70747a"/>
<rect x="1183.4" y="575.1" width="10.0" height="1.6" fill="#595e65"/>
<rect x="1168.4" y="578.1" width="25.0" height="1.6" fill="#595e65"/>
<rect x="1168.4" y="581.1" width="25.0" height="1.5" fill="#4c5159"/>
<rect x="1168.4" y="584.1" width="25.0" height="1.5" fill="#4c5159"/>
<rect x="1168.4" y="587.1" width="25.0" height="1.5" fill="#4c5159"/>
<rect x="1168.4" y="590.1" width="25.0" height="1.5" fill="#4c5159"/>
<rect x="1168.4" y="593.1" width="25.0" height="1.5" fill="#4c5159"/>
<rect x="1168.4" y="596.1" width="25.0" height="1.5" fill="#4c5159"/>
<rect x="1168.4" y="599.1" width="25.0" height="1.5" fill="#4c5159"/>
<rect x="1167.9" y="579.6" width="10.5" height="21.0" fill="#5a5e64" fill-opacity="0.85"/>
<rect x="1178.9" y="580.7" width="5.0" height="2.2" fill="#f4ee3c"/>
<rect x="1178.9" y="586.8" width="3.0" height="1.8" fill="#19e21d"/>
<rect x="1178.9" y="588.6" width="7.6" height="3.2" fill="#0df219"/>
<rect x="1178.9" y="592.6" width="10.0" height="1.5" fill="#3c9a45"/>
<rect x="1169.4" y="581.1" width="1.6" height="1.6" fill="#34479a"/>
<rect x="1169.4" y="584.1" width="1.6" height="1.6" fill="#34479a"/>
<rect x="1169.4" y="589.1" width="1.6" height="1.6" fill="#34479a"/>
<rect x="1173.4" y="581.1" width="1.6" height="1.6" fill="#34479a"/>
<rect x="1173.4" y="584.1" width="1.6" height="1.6" fill="#34479a"/>
<rect x="1173.4" y="589.1" width="1.6" height="1.6" fill="#34479a"/>
<rect x="1167.4" y="600.6" width="27.0" height="2.2" fill="#33383f"/>
<rect x="1168.4" y="604.1" width="9.5" height="28.0" fill="#6e7277" fill-opacity="0.9"/>
<rect x="1178.7" y="603.4" width="5.5" height="2.3" fill="#ffffff"/>
<rect x="1178.7" y="606.8" width="10.5" height="2.3" fill="#ffffff"/>
<rect x="1178.7" y="610.1" width="5.5" height="2.3" fill="#ffffff"/>
<rect x="1178.7" y="613.6" width="2.5" height="2.3" fill="#ffffff"/>
<rect x="1178.7" y="616.0" width="5.5" height="2.3" fill="#ffffff"/>
<rect x="1178.7" y="618.8" width="10.5" height="2.3" fill="#ffffff"/>
<rect x="1178.7" y="622.2" width="7.0" height="2.3" fill="#ffffff"/>
<rect x="1178.7" y="625.2" width="3.5" height="2.3" fill="#ffffff"/>
<rect x="1178.7" y="628.2" width="14.0" height="2.3" fill="#ffffff"/>
<rect x="1178.7" y="606.8" width="15.0" height="0.8" fill="#595e65"/>
<rect x="1178.7" y="610.3" width="15.0" height="0.8" fill="#595e65"/>
<rect x="1178.7" y="613.8" width="15.0" height="0.8" fill="#595e65"/>
<rect x="1178.7" y="617.3" width="15.0" height="0.8" fill="#595e65"/>
<rect x="1178.7" y="620.8" width="15.0" height="0.8" fill="#595e65"/>
<rect x="1178.7" y="624.3" width="15.0" height="0.8" fill="#595e65"/>
<rect x="1178.7" y="627.8" width="15.0" height="0.8" fill="#595e65"/>
<rect x="1178.7" y="631.3" width="15.0" height="0.8" fill="#595e65"/>
<rect x="1168.4" y="634.1" width="8.0" height="1.6" fill="#666a70"/>
<rect x="1178.4" y="634.1" width="15.5" height="1.3" fill="#565b62"/>
<rect x="1168.4" y="636.7" width="8.0" height="1.6" fill="#666a70"/>
<rect x="1178.4" y="636.7" width="15.5" height="1.3" fill="#565b62"/>
<rect x="1168.4" y="639.3" width="8.0" height="1.6" fill="#666a70"/>
<rect x="1178.4" y="639.3" width="15.5" height="1.3" fill="#565b62"/>
<rect x="1168.4" y="641.9" width="8.0" height="1.6" fill="#666a70"/>
<rect x="1178.4" y="641.9" width="15.5" height="1.3" fill="#565b62"/>
<rect x="1168.4" y="644.5" width="8.0" height="1.6" fill="#666a70"/>
<rect x="1178.4" y="644.5" width="15.5" height="1.3" fill="#565b62"/>
<rect x="1168.4" y="647.1" width="8.0" height="1.6" fill="#666a70"/>
<rect x="1178.4" y="647.1" width="15.5" height="1.3" fill="#565b62"/>
<rect x="1168.4" y="649.7" width="8.0" height="1.6" fill="#666a70"/>
<rect x="1178.4" y="649.7" width="15.5" height="1.3" fill="#565b62"/>
<rect x="1167.2" y="653.8" width="27.4" height="1.9" fill="#7c8085"/>
<rect x="1167.2" y="656.9" width="27.4" height="1.9" fill="#7c8085"/>
<rect x="1167.2" y="660.0" width="27.4" height="1.9" fill="#7c8085"/>
<rect x="1167.2" y="663.1" width="27.4" height="1.9" fill="#7c8085"/>
<rect x="1167.2" y="666.2" width="27.4" height="1.9" fill="#7c8085"/>
<rect x="1167.2" y="669.3" width="27.4" height="1.9" fill="#7c8085"/>
<rect x="1167.2" y="672.4" width="27.4" height="1.9" fill="#7c8085"/>
<rect x="1167.2" y="675.5" width="27.4" height="1.9" fill="#7c8085"/>
<rect x="1168.4" y="678.9" width="11.0" height="2.2" fill="#85888c" fill-opacity="0.8"/>
<rect x="1181.4" y="678.9" width="12.0" height="2.2" fill="#85888c" fill-opacity="0.8"/>
<line x1="999.4" y1="694.3" x2="999.4" y2="840.0" stroke="#0c0f13" stroke-width="1.2"/>
<line x1="1207.3" y1="694.3" x2="1207.3" y2="840.0" stroke="#0c0f13" stroke-width="1.2"/>
<rect x="1009.2" y="757.4" width="112.6" height="76.9" fill="none" stroke="#70747a" stroke-width="1.694"/>
<line x1="1010.0" y1="831.3" x2="1121.1" y2="831.3" stroke="#6d7176" stroke-width="0.484"/>
<rect x="1011.4" y="832.5" width="4.2" height="1.3" fill="#80848a" fill-opacity="0.75"/>
<rect x="1025.6" y="832.5" width="4.2" height="1.3" fill="#80848a" fill-opacity="0.75"/>
<rect x="1039.9" y="832.5" width="4.2" height="1.3" fill="#80848a" fill-opacity="0.75"/>
<rect x="1054.1" y="832.5" width="4.2" height="1.3" fill="#80848a" fill-opacity="0.75"/>
<rect x="1068.3" y="832.5" width="4.2" height="1.3" fill="#80848a" fill-opacity="0.75"/>
<rect x="1082.5" y="832.5" width="4.2" height="1.3" fill="#80848a" fill-opacity="0.75"/>
<rect x="1096.7" y="832.5" width="4.2" height="1.3" fill="#80848a" fill-opacity="0.75"/>
<rect x="1103.6" y="758.2" width="17.5" height="75.5" fill="#454a52" fill-opacity="0.5"/>
<line x1="1103.6" y1="758.2" x2="1103.6" y2="833.6" stroke="#85888c" stroke-width="0.605"/>
<rect x="1104.9" y="759.6" width="10.3" height="4.5" fill="#777b80"/>
<circle cx="1117.8" cy="761.9" r="1.9" fill="#6d7176" stroke="#85888c" stroke-width="0.4"/>
<rect x="1104.9" y="766.0" width="14.5" height="1.0" fill="#70747a"/>
<rect x="1104.9" y="767.8" width="7.3" height="1.0" fill="#7c8086"/>
<rect x="1113.9" y="767.8" width="6.0" height="1.0" fill="#595e65"/>
<rect x="1104.9" y="769.6" width="7.3" height="1.0" fill="#70747a"/>
<rect x="1113.9" y="769.6" width="6.0" height="1.0" fill="#595e65"/>
<rect x="1104.9" y="771.4" width="15.1" height="1.0" fill="#595e65"/>
<rect x="1104.9" y="773.2" width="15.1" height="0.9" fill="#4c5159"/>
<rect x="1104.9" y="775.1" width="15.1" height="0.9" fill="#4c5159"/>
<rect x="1104.9" y="776.9" width="15.1" height="0.9" fill="#4c5159"/>
<rect x="1104.9" y="778.7" width="15.1" height="0.9" fill="#4c5159"/>
<rect x="1104.9" y="780.5" width="15.1" height="0.9" fill="#4c5159"/>
<rect x="1104.9" y="782.3" width="15.1" height="0.9" fill="#4c5159"/>
<rect x="1104.9" y="784.1" width="15.1" height="0.9" fill="#4c5159"/>
<rect x="1104.6" y="772.3" width="6.4" height="12.7" fill="#5a5e64" fill-opacity="0.85"/>
<rect x="1111.2" y="773.0" width="3.0" height="1.3" fill="#f4ee3c"/>
<rect x="1111.2" y="776.7" width="1.8" height="1.1" fill="#19e21d"/>
<rect x="1111.2" y="777.8" width="4.6" height="1.9" fill="#0df219"/>
<rect x="1111.2" y="780.2" width="6.0" height="0.9" fill="#3c9a45"/>
<rect x="1105.5" y="773.2" width="1.0" height="1.0" fill="#34479a"/>
<rect x="1105.5" y="775.1" width="1.0" height="1.0" fill="#34479a"/>
<rect x="1105.5" y="778.1" width="1.0" height="1.0" fill="#34479a"/>
<rect x="1107.9" y="773.2" width="1.0" height="1.0" fill="#34479a"/>
<rect x="1107.9" y="775.1" width="1.0" height="1.0" fill="#34479a"/>
<rect x="1107.9" y="778.1" width="1.0" height="1.0" fill="#34479a"/>
<rect x="1104.2" y="785.0" width="16.3" height="1.3" fill="#33383f"/>
<rect x="1104.9" y="787.2" width="5.7" height="16.9" fill="#6e7277" fill-opacity="0.9"/>
<rect x="1111.1" y="786.7" width="3.3" height="1.4" fill="#ffffff"/>
<rect x="1111.1" y="788.8" width="6.4" height="1.4" fill="#ffffff"/>
<rect x="1111.1" y="790.8" width="3.3" height="1.4" fill="#ffffff"/>
<rect x="1111.1" y="792.9" width="1.5" height="1.4" fill="#ffffff"/>
<rect x="1111.1" y="794.4" width="3.3" height="1.4" fill="#ffffff"/>
<rect x="1111.1" y="796.0" width="6.4" height="1.4" fill="#ffffff"/>
<rect x="1111.1" y="798.1" width="4.2" height="1.4" fill="#ffffff"/>
<rect x="1111.1" y="799.9" width="2.1" height="1.4" fill="#ffffff"/>
<rect x="1111.1" y="801.7" width="8.5" height="1.4" fill="#ffffff"/>
<rect x="1111.1" y="788.8" width="9.1" height="0.5" fill="#595e65"/>
<rect x="1111.1" y="790.9" width="9.1" height="0.5" fill="#595e65"/>
<rect x="1111.1" y="793.0" width="9.1" height="0.5" fill="#595e65"/>
<rect x="1111.1" y="795.1" width="9.1" height="0.5" fill="#595e65"/>
<rect x="1111.1" y="797.3" width="9.1" height="0.5" fill="#595e65"/>
<rect x="1111.1" y="799.4" width="9.1" height="0.5" fill="#595e65"/>
<rect x="1111.1" y="801.5" width="9.1" height="0.5" fill="#595e65"/>
<rect x="1111.1" y="803.6" width="9.1" height="0.5" fill="#595e65"/>
<rect x="1104.9" y="805.3" width="4.8" height="1.0" fill="#666a70"/>
<rect x="1110.9" y="805.3" width="9.4" height="0.8" fill="#565b62"/>
<rect x="1104.9" y="806.9" width="4.8" height="1.0" fill="#666a70"/>
<rect x="1110.9" y="806.9" width="9.4" height="0.8" fill="#565b62"/>
<rect x="1104.9" y="808.4" width="4.8" height="1.0" fill="#666a70"/>
<rect x="1110.9" y="808.4" width="9.4" height="0.8" fill="#565b62"/>
<rect x="1104.9" y="810.0" width="4.8" height="1.0" fill="#666a70"/>
<rect x="1110.9" y="810.0" width="9.4" height="0.8" fill="#565b62"/>
<rect x="1104.9" y="811.6" width="4.8" height="1.0" fill="#666a70"/>
<rect x="1110.9" y="811.6" width="9.4" height="0.8" fill="#565b62"/>
<rect x="1104.9" y="813.2" width="4.8" height="1.0" fill="#666a70"/>
<rect x="1110.9" y="813.2" width="9.4" height="0.8" fill="#565b62"/>
<rect x="1104.9" y="814.7" width="4.8" height="1.0" fill="#666a70"/>
<rect x="1110.9" y="814.7" width="9.4" height="0.8" fill="#565b62"/>
<rect x="1104.1" y="817.2" width="16.6" height="1.1" fill="#7c8085"/>
<rect x="1104.1" y="819.1" width="16.6" height="1.1" fill="#7c8085"/>
<rect x="1104.1" y="821.0" width="16.6" height="1.1" fill="#7c8085"/>
<rect x="1104.1" y="822.8" width="16.6" height="1.1" fill="#7c8085"/>
<rect x="1104.1" y="824.7" width="16.6" height="1.1" fill="#7c8085"/>
<rect x="1104.1" y="826.6" width="16.6" height="1.1" fill="#7c8085"/>
<rect x="1104.1" y="828.5" width="16.6" height="1.1" fill="#7c8085"/>
<rect x="1104.1" y="830.3" width="16.6" height="1.1" fill="#7c8085"/>
<rect x="1104.9" y="832.4" width="6.7" height="1.3" fill="#85888c" fill-opacity="0.8"/>
<rect x="1112.7" y="832.4" width="7.3" height="1.3" fill="#85888c" fill-opacity="0.8"/>
<line x1="33.3" y1="73.9" x2="156.2" y2="73.9" stroke="#ffffff" stroke-width="1"/>
<line x1="33.3" y1="72.4" x2="33.3" y2="77.1" stroke="#ffffff" stroke-width="1"/>
<line x1="58.1" y1="72.4" x2="58.1" y2="77.1" stroke="#ffffff" stroke-width="1"/>
<line x1="75.8" y1="72.4" x2="75.8" y2="77.1" stroke="#ffffff" stroke-width="1"/>
<line x1="147.6" y1="72.4" x2="147.6" y2="77.1" stroke="#ffffff" stroke-width="1"/>
<line x1="156.2" y1="72.4" x2="156.2" y2="77.1" stroke="#ffffff" stroke-width="1"/>
<rect x="42.0" y="70.9" width="6.3" height="3.0" fill="#f5b400"/>
<rect x="63.9" y="70.9" width="6.3" height="3.0" fill="#f5b400"/>
<rect x="108.8" y="70.9" width="6.3" height="3.0" fill="#f5b400"/>
<rect x="149.2" y="70.9" width="6.3" height="3.0" fill="#f5b400"/>
<line x1="23.8" y1="82.9" x2="23.8" y2="142.9" stroke="#ffffff" stroke-width="1"/>
<line x1="23.8" y1="82.9" x2="28.6" y2="82.9" stroke="#ffffff" stroke-width="1"/>
<line x1="23.8" y1="126.7" x2="28.6" y2="126.7" stroke="#ffffff" stroke-width="1"/>
<line x1="23.8" y1="142.9" x2="28.6" y2="142.9" stroke="#ffffff" stroke-width="1"/>
<rect x="21.4" y="101.6" width="3.0" height="6.3" fill="#f5b400"/>
<rect x="21.4" y="131.1" width="3.0" height="6.3" fill="#f5b400"/>
<line x1="166.1" y1="82.9" x2="166.1" y2="147.6" stroke="#ffffff" stroke-width="1"/>
<line x1="161.9" y1="82.9" x2="167.2" y2="82.9" stroke="#ffffff" stroke-width="1"/>
<line x1="161.9" y1="93.3" x2="167.2" y2="93.3" stroke="#ffffff" stroke-width="1"/>
<line x1="161.9" y1="147.6" x2="167.2" y2="147.6" stroke="#ffffff" stroke-width="1"/>
<rect x="163.5" y="84.5" width="3.0" height="6.3" fill="#f5b400"/>
<rect x="163.5" y="116.8" width="3.0" height="6.3" fill="#f5b400"/>
<rect x="28.6" y="77.5" width="133.3" height="7.8" fill="#0000e6"/>
<rect x="154.7" y="82.9" width="7.2" height="63.8" fill="#0000e6"/>
<rect x="36.2" y="84.2" width="112.4" height="12.6" fill="#3e1700"/>
<rect x="76.2" y="84.2" width="13.3" height="5.7" fill="#1a1acc"/>
<rect x="97.1" y="97.1" width="9.5" height="5.7" fill="#0000e6"/>
<rect x="138.5" y="93.3" width="16.2" height="44.8" fill="#3e1700"/>
<rect x="141.3" y="110.9" width="5.7" height="24.0" fill="#10202a"/>
<rect x="28.6" y="82.9" width="7.6" height="43.8" fill="#5a5e66"/>
<line x1="30.5" y1="82.9" x2="30.5" y2="126.7" stroke="#ffffff" stroke-width="1"/>
<line x1="34.3" y1="82.9" x2="34.3" y2="126.7" stroke="#ffffff" stroke-width="1"/>
<path d="M28.6 126.7 L28.6 77.3 L161.9 77.3 L161.9 146.7 L154.7 146.7" fill="none" stroke="#ffffff" stroke-width="1.2" />
<line x1="154.7" y1="93.3" x2="154.7" y2="146.7" stroke="#ffffff" stroke-width="1"/>
<rect x="28.6" y="126.7" width="7.6" height="20.0" fill="#0000e6"/>
<rect x="28.6" y="142.9" width="41.5" height="3.8" fill="#0000e6"/>
<rect x="63.8" y="127.6" width="6.3" height="16.2" fill="#0000e6"/>
<rect x="28.6" y="126.7" width="41.5" height="20.0" fill="none" stroke="#ffffff" stroke-width="1"/>
<rect x="41.0" y="128.6" width="6.7" height="13.9" fill="#3a1020"/>
<rect x="49.9" y="133.0" width="13.0" height="9.0" fill="#282d38"/>
<line x1="47.6" y1="129.1" x2="47.6" y2="142.9" stroke="#ff0000" stroke-width="1.4"/>
<line x1="62.9" y1="129.5" x2="62.9" y2="142.9" stroke="#ff0000" stroke-width="1.4"/>
<line x1="40.0" y1="127.6" x2="40.0" y2="142.9" stroke="#ffffff" stroke-width="1"/>
<line x1="49.9" y1="131.8" x2="62.9" y2="131.8" stroke="#ffffff" stroke-width="1.6"/>
<line x1="36.2" y1="122.3" x2="49.9" y2="122.3" stroke="#ffffff" stroke-width="1"/>
<line x1="49.9" y1="97.1" x2="49.9" y2="129.5" stroke="#ffffff" stroke-width="1"/>
<path d="M48.6 97.1 L48.6 90.7 L75.8 90.7 L75.8 95.6 L91.4 95.6" fill="none" stroke="#ffffff" stroke-width="1" />
<line x1="114.3" y1="95.6" x2="131.4" y2="95.6" stroke="#ffffff" stroke-width="1"/>
<path d="M131.4 95.6 L131.4 91.4 L147.6 91.4" fill="none" stroke="#ffffff" stroke-width="1" />
<line x1="49.9" y1="97.1" x2="142.9" y2="97.1" stroke="#b0b4c8" stroke-width="1.6"/>
<rect x="54.3" y="96.0" width="3.4" height="2.3" fill="#1010d0"/>
<rect x="65.3" y="96.0" width="3.4" height="2.3" fill="#1010d0"/>
<rect x="76.4" y="96.0" width="3.4" height="2.3" fill="#1010d0"/>
<rect x="87.4" y="96.0" width="3.4" height="2.3" fill="#1010d0"/>
<rect x="98.5" y="96.0" width="3.4" height="2.3" fill="#1010d0"/>
<rect x="109.5" y="96.0" width="3.4" height="2.3" fill="#1010d0"/>
<rect x="120.6" y="96.0" width="3.4" height="2.3" fill="#1010d0"/>
<rect x="131.6" y="96.0" width="3.4" height="2.3" fill="#1010d0"/>
<rect x="142.7" y="96.0" width="3.4" height="2.3" fill="#1010d0"/>
<line x1="77.0" y1="97.5" x2="91.0" y2="97.5" stroke="#ffffff" stroke-width="2"/>
<line x1="141.3" y1="97.1" x2="141.3" y2="108.6" stroke="#9aa0b0" stroke-width="1.4"/>
<line x1="147.6" y1="110.5" x2="147.6" y2="135.2" stroke="#ffffff" stroke-width="1.2"/>
<line x1="153.3" y1="93.7" x2="153.3" y2="109.0" stroke="#ffffff" stroke-width="1.2"/>
<line x1="48.6" y1="84.2" x2="48.6" y2="96.8" stroke="#ff0000" stroke-width="1.2"/>
<line x1="76.2" y1="84.2" x2="76.2" y2="96.8" stroke="#ff0000" stroke-width="1.2"/>
<line x1="91.4" y1="84.2" x2="91.4" y2="96.8" stroke="#ff0000" stroke-width="1.2"/>
<line x1="114.3" y1="84.2" x2="114.3" y2="96.8" stroke="#ff0000" stroke-width="1.2"/>
<line x1="131.4" y1="84.2" x2="131.4" y2="96.8" stroke="#ff0000" stroke-width="1.2"/>
<line x1="147.6" y1="84.2" x2="147.6" y2="96.8" stroke="#ff0000" stroke-width="1.2"/>
<rect x="37.5" y="100.2" width="10.1" height="17.9" fill="none" stroke="#00ff00" stroke-width="1.4"/>
<rect x="39.4" y="102.1" width="6.7" height="14.1" fill="none" stroke="#00e8e8" stroke-width="1.2"/>
<rect x="41.3" y="104.7" width="2.0" height="2.0" fill="#e000e0"/>
<rect x="41.3" y="112.0" width="2.0" height="2.0" fill="#e000e0"/>
<rect x="94.67" y="84.38" width="17.71" height="8.00" rx="2" fill="none" stroke="#00ff00" stroke-width="1.3"/>
<line x1="92.4" y1="88.6" x2="114.3" y2="88.6" stroke="#ffffff" stroke-width="1.2"/>
<rect x="96.19" y="85.71" width="6.67" height="5.33" rx="1.5" fill="none" stroke="#18b030" stroke-width="1"/>
<rect x="104.38" y="85.71" width="6.67" height="5.33" rx="1.5" fill="none" stroke="#18b030" stroke-width="1"/>
<rect x="58.8" y="87.6" width="6.3" height="3.0" fill="#f5b400"/>
<rect x="80.7" y="92.2" width="6.3" height="3.0" fill="#f5b400"/>
<rect x="119.7" y="84.8" width="6.3" height="3.0" fill="#f5b400"/>
<rect x="135.3" y="88.4" width="6.3" height="3.0" fill="#f5b400"/>
<rect x="46.8" y="150.9" width="6.3" height="3.0" fill="#f5b400"/>
<rect x="32.8" y="97.8" width="3.0" height="6.3" fill="#f5b400"/>
<rect x="149.9" y="97.8" width="3.0" height="6.3" fill="#f5b400"/>
<rect x="144.2" y="119.7" width="3.0" height="6.3" fill="#f5b400"/>
<rect x="37.5" y="127.3" width="3.0" height="6.3" fill="#f5b400"/>
<rect x="71.8" y="131.1" width="3.0" height="6.3" fill="#f5b400"/>
<rect x="38.8" y="119.5" width="6.3" height="3.0" fill="#f5b400"/>
<line x1="36.2" y1="153.3" x2="63.8" y2="153.3" stroke="#ffffff" stroke-width="1"/>
<line x1="36.2" y1="150.5" x2="36.2" y2="154.3" stroke="#ffffff" stroke-width="1"/>
<line x1="63.8" y1="150.5" x2="63.8" y2="154.3" stroke="#ffffff" stroke-width="1"/>
<line x1="75.2" y1="127.6" x2="75.2" y2="142.9" stroke="#ffffff" stroke-width="1"/>
<line x1="70.9" y1="127.6" x2="76.2" y2="127.6" stroke="#ffffff" stroke-width="1"/>
<line x1="70.9" y1="142.9" x2="76.2" y2="142.9" stroke="#ffffff" stroke-width="1"/>
<path d="M89.0 134.7 L101.9 121.7 L114.9 134.7 L101.9 147.6 Z" fill="none" stroke="#00e8e8" stroke-width="1.4" />
<circle cx="101.90" cy="128.19" r="3.6" fill="none" stroke="#00e8e8" stroke-width="1.2"/>
<circle cx="101.90" cy="141.14" r="3.6" fill="none" stroke="#00e8e8" stroke-width="1.2"/>
<circle cx="95.43" cy="134.67" r="3.6" fill="none" stroke="#00e8e8" stroke-width="1.2"/>
<circle cx="108.38" cy="134.67" r="3.6" fill="none" stroke="#00e8e8" stroke-width="1.2"/>
<path d="M95.4 128.2 L108.4 128.2 L108.4 141.1 L95.4 141.1 Z" fill="none" stroke="#00a8a8" stroke-width="1" />
<rect x="129.1" y="151.0" width="24.8" height="1.9" fill="#ffffff"/>
<rect x="129.1" y="153.9" width="29.0" height="2.5" fill="#ffffff"/>
<rect x="132.0" y="172.8" width="31.0" height="4.2" fill="#00ff00"/>
<rect x="128.0" y="178.7" width="39.6" height="1.3" fill="#9a9da0"/>
<line x1="239.4" y1="69.0" x2="362.7" y2="69.0" stroke="#ffffff" stroke-width="1"/>
<line x1="239.4" y1="67.4" x2="239.4" y2="70.6" stroke="#ffffff" stroke-width="1"/>
<line x1="362.7" y1="67.4" x2="362.7" y2="70.6" stroke="#ffffff" stroke-width="1"/>
<line x1="239.4" y1="75.8" x2="362.7" y2="75.8" stroke="#ffffff" stroke-width="1"/>
<line x1="239.4" y1="68.6" x2="239.4" y2="79.0" stroke="#ffffff" stroke-width="1"/>
<line x1="265.1" y1="68.6" x2="265.1" y2="79.0" stroke="#ffffff" stroke-width="1"/>
<line x1="271.8" y1="68.6" x2="271.8" y2="79.0" stroke="#ffffff" stroke-width="1"/>
<line x1="281.3" y1="68.6" x2="281.3" y2="79.0" stroke="#ffffff" stroke-width="1"/>
<line x1="354.7" y1="68.6" x2="354.7" y2="79.0" stroke="#ffffff" stroke-width="1"/>
<line x1="362.7" y1="68.6" x2="362.7" y2="79.0" stroke="#ffffff" stroke-width="1"/>
<rect x="272.9" y="66.3" width="6.3" height="3.0" fill="#f5b400"/>
<rect x="297.6" y="66.3" width="6.3" height="3.0" fill="#f5b400"/>
<rect x="258.6" y="69.9" width="6.3" height="3.0" fill="#f5b400"/>
<rect x="248.7" y="73.9" width="6.3" height="3.0" fill="#f5b400"/>
<rect x="275.7" y="73.9" width="6.3" height="3.0" fill="#f5b400"/>
<rect x="314.4" y="73.9" width="6.3" height="3.0" fill="#f5b400"/>
<rect x="354.4" y="73.9" width="6.3" height="3.0" fill="#f5b400"/>
<line x1="308.6" y1="80.6" x2="354.7" y2="80.6" stroke="#ffffff" stroke-width="1"/>
<line x1="308.6" y1="79.0" x2="308.6" y2="82.9" stroke="#ffffff" stroke-width="1"/>
<rect x="327.9" y="78.5" width="7.0" height="3.0" fill="#f5b400"/>
<line x1="228.6" y1="84.8" x2="228.6" y2="144.4" stroke="#ffffff" stroke-width="1"/>
<line x1="231.2" y1="84.8" x2="231.2" y2="144.4" stroke="#ffffff" stroke-width="1"/>
<line x1="233.9" y1="84.8" x2="233.9" y2="144.4" stroke="#ffffff" stroke-width="1"/>
<line x1="227.8" y1="84.8" x2="239.4" y2="84.8" stroke="#ffffff" stroke-width="1"/>
<line x1="227.8" y1="144.4" x2="239.4" y2="144.4" stroke="#ffffff" stroke-width="1"/>
<line x1="230.5" y1="128.0" x2="238.5" y2="128.0" stroke="#ffffff" stroke-width="1"/>
<rect x="226.6" y="110.3" width="4.0" height="8.0" fill="#f5b400"/>
<rect x="231.6" y="102.6" width="3.0" height="6.3" fill="#f5b400"/>
<rect x="231.3" y="133.0" width="3.0" height="6.3" fill="#f5b400"/>
<line x1="367.6" y1="84.2" x2="367.6" y2="112.4" stroke="#ffffff" stroke-width="1"/>
<line x1="374.9" y1="84.2" x2="374.9" y2="112.4" stroke="#ffffff" stroke-width="1"/>
<line x1="365.3" y1="84.2" x2="376.4" y2="84.2" stroke="#ffffff" stroke-width="1"/>
<line x1="365.3" y1="112.4" x2="376.4" y2="112.4" stroke="#ffffff" stroke-width="1"/>
<line x1="366.1" y1="95.2" x2="369.1" y2="95.2" stroke="#ffffff" stroke-width="1"/>
<rect x="365.7" y="86.0" width="3.0" height="6.3" fill="#f5b400"/>
<rect x="365.7" y="101.2" width="3.0" height="6.3" fill="#f5b400"/>
<rect x="371.8" y="94.9" width="3.0" height="6.3" fill="#f5b400"/>
<path d="M239.4 85.1 L259.4 85.1 L259.4 89.9 L265.1 89.9 L265.1 99.0 L281.3 99.0 L281.3 91.4 L286.1 91.4 L286.1 85.1 L353.7 85.1 L353.7 95.2 L361.9 95.2 L361.9 112.0 L347.0 112.0 L347.0 100.6 L254.7 100.6 L254.7 115.2 L270.5 127.6 L270.5 144.4 L242.7 144.4 L242.7 133.3 L239.4 129.5 Z" fill="none" stroke="#00e8e8" stroke-width="1.2" />
<rect x="286.1" y="84.2" width="67.6" height="1.9" fill="#00e8e8"/>
<rect x="239.4" y="85.1" width="2.5" height="44.4" fill="#00e8e8" fill-opacity="0.9"/>
<path d="M254.7 100.6 L339.4 100.6" fill="none" stroke="#e8e800" stroke-width="1.4" />
<path d="M254.7 100.6 L254.7 133.3 L270.5 133.3" fill="none" stroke="#e8e800" stroke-width="1.4" />
<line x1="265.1" y1="99.0" x2="281.3" y2="99.0" stroke="#e8e800" stroke-width="1.4"/>
<path d="M259.4 89.9 L259.4 85.1" fill="none" stroke="#ffffff" stroke-width="1" />
<path d="M265.1 89.9 L265.1 99.0" fill="none" stroke="#ffffff" stroke-width="1" />
<path d="M251.4 85.1 L251.4 97.1 L254.7 100.6" fill="none" stroke="#ffffff" stroke-width="1" />
<path d="M239.4 85.1 L251.4 97.1" fill="none" stroke="#ffffff" stroke-width="1" />
<path d="M242.7 144.4 L254.7 133.3" fill="none" stroke="#ffffff" stroke-width="1" />
<path d="M254.7 119.6 L270.5 127.6" fill="none" stroke="#ffffff" stroke-width="1" />
<line x1="330.9" y1="85.1" x2="330.9" y2="100.6" stroke="#ffffff" stroke-width="1"/>
<path d="M330.9 100.6 L347.0 100.6 L353.7 95.2" fill="none" stroke="#ffffff" stroke-width="1" />
<line x1="255.6" y1="106.7" x2="339.4" y2="106.7" stroke="#c8c8c8" stroke-width="1.4"/>
<line x1="339.4" y1="100.6" x2="339.4" y2="112.4" stroke="#ffffff" stroke-width="1"/>
<line x1="345.1" y1="100.6" x2="345.1" y2="112.4" stroke="#ffffff" stroke-width="1"/>
<line x1="339.4" y1="112.4" x2="347.0" y2="112.4" stroke="#ffffff" stroke-width="1"/>
<rect x="299.43" y="87.62" width="19.05" height="10.48" rx="5" fill="none" stroke="#c0c0c0" stroke-width="1.4"/>
<rect x="303.2" y="91.8" width="9.1" height="1.9" fill="#00ff00"/>
<rect x="243.2" y="101.9" width="10.5" height="19.0" fill="none" stroke="#00ff00" stroke-width="1.5"/>
<rect x="244.6" y="103.4" width="7.6" height="7.4" fill="none" stroke="#00e8e8" stroke-width="1.3"/>
<rect x="244.6" y="112.0" width="7.6" height="7.0" fill="none" stroke="#00e8e8" stroke-width="1.3"/>
<rect x="247.0" y="106.0" width="2.0" height="2.0" fill="#e000e0"/>
<rect x="247.0" y="114.4" width="2.0" height="2.0" fill="#e000e0"/>
<rect x="245.1" y="121.5" width="5.1" height="1.5" fill="#00ff00"/>
<rect x="254.1" y="82.0" width="3.0" height="6.3" fill="#f5b400"/>
<rect x="282.7" y="84.5" width="3.0" height="6.3" fill="#f5b400"/>
<rect x="247.5" y="89.2" width="3.0" height="6.3" fill="#f5b400"/>
<rect x="262.7" y="92.1" width="3.0" height="6.3" fill="#f5b400"/>
<rect x="277.9" y="92.1" width="3.0" height="6.3" fill="#f5b400"/>
<rect x="327.5" y="89.2" width="3.0" height="6.3" fill="#f5b400"/>
<rect x="337.0" y="103.1" width="3.0" height="6.3" fill="#f5b400"/>
<rect x="257.5" y="112.1" width="3.0" height="6.3" fill="#f5b400"/>
<rect x="271.3" y="134.0" width="3.0" height="6.3" fill="#f5b400"/>
<rect x="297.6" y="104.4" width="6.3" height="3.0" fill="#f5b400"/>
<rect x="354.4" y="89.5" width="6.3" height="3.0" fill="#f5b400"/>
<rect x="259.1" y="126.1" width="6.3" height="3.0" fill="#f5b400"/>
<rect x="242.0" y="133.4" width="6.3" height="3.0" fill="#f5b400"/>
<rect x="350.9" y="115.1" width="6.3" height="3.0" fill="#f5b400"/>
<rect x="252.8" y="149.0" width="6.3" height="3.0" fill="#f5b400"/>
<rect x="253.3" y="144.4" width="3.8" height="1.5" fill="#00ff00"/>
<line x1="346.1" y1="118.1" x2="361.3" y2="118.1" stroke="#ffffff" stroke-width="1"/>
<line x1="346.1" y1="116.5" x2="346.1" y2="119.7" stroke="#ffffff" stroke-width="1"/>
<line x1="361.3" y1="116.5" x2="361.3" y2="119.7" stroke="#ffffff" stroke-width="1"/>
<line x1="242.3" y1="151.4" x2="269.9" y2="151.4" stroke="#ffffff" stroke-width="1"/>
<line x1="242.3" y1="149.8" x2="242.3" y2="153.0" stroke="#ffffff" stroke-width="1"/>
<line x1="269.9" y1="149.8" x2="269.9" y2="153.0" stroke="#ffffff" stroke-width="1"/>
<line x1="274.7" y1="131.4" x2="274.7" y2="144.8" stroke="#ffffff" stroke-width="1"/>
<line x1="273.1" y1="131.4" x2="276.3" y2="131.4" stroke="#ffffff" stroke-width="1"/>
<line x1="273.1" y1="144.8" x2="276.3" y2="144.8" stroke="#ffffff" stroke-width="1"/>
<rect x="264.6" y="119.0" width="10.5" height="2.9" fill="#00ff00"/>
<rect x="304.6" y="116.2" width="17.3" height="3.0" fill="#00ff00"/>
<line x1="291.2" y1="147.0" x2="367.0" y2="147.0" stroke="#d0d0d0" stroke-width="1.3"/>
<line x1="291.2" y1="144.8" x2="291.2" y2="149.2" stroke="#d0d0d0" stroke-width="1.3"/>
<line x1="367.0" y1="144.8" x2="367.0" y2="149.2" stroke="#d0d0d0" stroke-width="1.3"/>
<rect x="325.8" y="143.8" width="6.3" height="3.0" fill="#f5b400"/>
<rect x="291.2" y="155.0" width="75.8" height="6.9" fill="none" stroke="#ffffff" stroke-width="1.3"/>
<rect x="292.4" y="158.1" width="70.3" height="3.2" fill="#0000e6"/>
<line x1="291.2" y1="156.6" x2="367.0" y2="156.6" stroke="#ffffff" stroke-width="1"/>
<rect x="284.3" y="150.3" width="3.5" height="5.0" fill="#f5b400"/>
<rect x="368.2" y="155.1" width="3.5" height="6.0" fill="#f5b400"/>
<rect x="291.2" y="162.9" width="2.5" height="1.5" fill="#00ff00"/>
<rect x="361.3" y="162.9" width="7.6" height="2.1" fill="#00ff00"/>
<rect x="342.9" y="172.8" width="24.2" height="4.2" fill="#00ff00"/>
<rect x="336.0" y="178.7" width="39.6" height="1.3" fill="#9a9da0"/>
<line x1="447.4" y1="64.4" x2="562.3" y2="64.4" stroke="#ffffff" stroke-width="1"/>
<line x1="447.4" y1="62.9" x2="447.4" y2="66.7" stroke="#ffffff" stroke-width="1"/>
<line x1="471.6" y1="62.9" x2="471.6" y2="66.7" stroke="#ffffff" stroke-width="1"/>
<line x1="489.9" y1="62.9" x2="489.9" y2="66.7" stroke="#ffffff" stroke-width="1"/>
<line x1="562.3" y1="62.9" x2="562.3" y2="66.7" stroke="#ffffff" stroke-width="1"/>
<rect x="456.3" y="60.4" width="7.0" height="3.0" fill="#f5b400"/>
<rect x="477.6" y="60.4" width="7.0" height="3.0" fill="#f5b400"/>
<rect x="522.6" y="60.4" width="7.0" height="3.0" fill="#f5b400"/>
<rect x="444.0" y="67.0" width="131.2" height="5.0" fill="#0000e6"/>
<rect x="561.7" y="72.0" width="13.5" height="19.4" fill="#0000e6"/>
<rect x="471.2" y="70.5" width="19.4" height="10.5" fill="#0000e6"/>
<rect x="444.0" y="72.4" width="4.4" height="19.0" fill="#8a8d92"/>
<rect x="450.3" y="72.4" width="13.3" height="12.4" fill="#3e1700"/>
<rect x="469.3" y="78.1" width="22.9" height="8.6" fill="#3e1700"/>
<rect x="499.8" y="73.3" width="8.0" height="10.1" fill="#3e1700"/>
<rect x="528.8" y="72.4" width="18.7" height="12.4" fill="#3e1700"/>
<rect x="443.6" y="66.7" width="132.0" height="25.1" fill="none" stroke="#ffffff" stroke-width="1"/>
<line x1="437.9" y1="91.8" x2="578.3" y2="91.8" stroke="#d8d8d8" stroke-width="1.6"/>
<line x1="462.7" y1="87.6" x2="560.8" y2="87.6" stroke="#ffffff" stroke-width="1.6"/>
<line x1="448.4" y1="72.4" x2="448.4" y2="87.6" stroke="#ffffff" stroke-width="1"/>
<line x1="462.7" y1="72.4" x2="462.7" y2="87.6" stroke="#ffffff" stroke-width="1"/>
<line x1="469.0" y1="72.4" x2="469.0" y2="87.6" stroke="#ffffff" stroke-width="1"/>
<line x1="490.3" y1="72.4" x2="490.3" y2="87.6" stroke="#ffffff" stroke-width="1"/>
<line x1="496.0" y1="72.4" x2="496.0" y2="87.6" stroke="#ffffff" stroke-width="1"/>
<line x1="549.3" y1="72.4" x2="549.3" y2="87.6" stroke="#ffffff" stroke-width="1"/>
<line x1="554.1" y1="72.4" x2="554.1" y2="87.6" stroke="#ffffff" stroke-width="1"/>
<rect x="509.33" y="73.52" width="18.10" height="9.90" rx="3" fill="none" stroke="#00ff00" stroke-width="1.3"/>
<circle cx="513.52" cy="78.48" r="2.6" fill="none" stroke="#9aa0a0" stroke-width="1"/>
<circle cx="521.90" cy="78.48" r="2.6" fill="none" stroke="#9aa0a0" stroke-width="1"/>
<line x1="462.7" y1="74.3" x2="462.7" y2="87.6" stroke="#ff0000" stroke-width="1.5"/>
<line x1="505.5" y1="73.3" x2="505.5" y2="84.2" stroke="#ff0000" stroke-width="1.5"/>
<line x1="529.3" y1="72.4" x2="529.3" y2="85.0" stroke="#ff0000" stroke-width="1.5"/>
<line x1="545.5" y1="72.8" x2="545.5" y2="85.0" stroke="#ff0000" stroke-width="1.5"/>
<path d="M555.0 86.1 L563.0 86.1 L563.0 83.0 L570.7 83.0" fill="none" stroke="#ff0000" stroke-width="2" />
<rect x="556.0" y="85.0" width="5.7" height="4.2" fill="#ff0000"/>
<rect x="453.6" y="73.2" width="2.8" height="6.0" fill="#f5b400"/>
<rect x="464.5" y="76.4" width="2.8" height="6.0" fill="#f5b400"/>
<rect x="492.7" y="76.4" width="2.8" height="6.0" fill="#f5b400"/>
<rect x="503.2" y="74.3" width="2.8" height="6.0" fill="#f5b400"/>
<rect x="550.2" y="73.2" width="2.8" height="6.0" fill="#f5b400"/>
<line x1="452.2" y1="96.4" x2="562.7" y2="96.4" stroke="#ffffff" stroke-width="1"/>
<line x1="452.2" y1="94.9" x2="452.2" y2="100.6" stroke="#ffffff" stroke-width="1"/>
<line x1="477.3" y1="94.9" x2="477.3" y2="100.6" stroke="#ffffff" stroke-width="1"/>
<line x1="484.6" y1="94.9" x2="484.6" y2="100.6" stroke="#ffffff" stroke-width="1"/>
<line x1="504.6" y1="94.9" x2="504.6" y2="100.6" stroke="#ffffff" stroke-width="1"/>
<line x1="530.3" y1="94.9" x2="530.3" y2="100.6" stroke="#ffffff" stroke-width="1"/>
<line x1="562.7" y1="94.9" x2="562.7" y2="100.6" stroke="#ffffff" stroke-width="1"/>
<rect x="461.6" y="93.8" width="6.0" height="2.8" fill="#f5b400"/>
<rect x="477.8" y="93.8" width="6.0" height="2.8" fill="#f5b400"/>
<rect x="491.1" y="93.8" width="6.0" height="2.8" fill="#f5b400"/>
<rect x="514.0" y="93.8" width="6.0" height="2.8" fill="#f5b400"/>
<rect x="542.5" y="93.8" width="6.0" height="2.8" fill="#f5b400"/>
<rect x="444.6" y="100.6" width="3.4" height="69.9" fill="#0000e6"/>
<rect x="571.8" y="100.6" width="3.4" height="69.9" fill="#0000e6"/>
<rect x="443.6" y="100.0" width="132.0" height="70.5" fill="none" stroke="#ffffff" stroke-width="1.3"/>
<line x1="448.4" y1="100.6" x2="448.4" y2="170.5" stroke="#ffffff" stroke-width="1"/>
<line x1="477.3" y1="100.6" x2="477.3" y2="170.5" stroke="#ffffff" stroke-width="1"/>
<line x1="484.6" y1="100.6" x2="484.6" y2="170.5" stroke="#ffffff" stroke-width="1"/>
<line x1="561.7" y1="100.6" x2="561.7" y2="170.5" stroke="#ffffff" stroke-width="1"/>
<line x1="570.7" y1="100.6" x2="570.7" y2="170.5" stroke="#ffffff" stroke-width="1"/>
<line x1="443.6" y1="100.6" x2="575.6" y2="100.6" stroke="#ffffff" stroke-width="1.5"/>
<rect x="452.2" y="107.6" width="25.1" height="2.5" fill="#e000e0"/>
<rect x="484.6" y="107.6" width="20.0" height="2.5" fill="#e000e0"/>
<rect x="530.3" y="107.6" width="30.9" height="2.5" fill="#e000e0"/>
<rect x="504.6" y="100.6" width="25.7" height="2.3" fill="#e000e0"/>
<rect x="453.1" y="110.1" width="23.4" height="19.4" fill="#0000e6"/>
<path d="M456.95 127.62 L456.95 115.24 Q456.95 112.38 459.81 112.38 Q462.67 112.38 462.67 115.24 L462.67 127.62 Z" fill="none" stroke="#c8c8d0" stroke-width="1" />
<path d="M467.05 127.62 L467.05 115.90 Q467.05 112.38 470.57 112.38 Q474.10 112.38 474.10 115.90 L474.10 127.62 Z" fill="none" stroke="#c8c8d0" stroke-width="1" />
<rect x="504.0" y="102.9" width="26.3" height="17.1" fill="#0000e6"/>
<path d="M507.43 118.10 L507.43 109.71 Q507.43 105.90 511.24 105.90 Q515.05 105.90 515.05 109.71 L515.05 118.10 Z" fill="none" stroke="#c8c8d0" stroke-width="1" />
<path d="M519.81 118.10 L519.81 109.71 Q519.81 105.90 523.62 105.90 Q527.43 105.90 527.43 109.71 L527.43 118.10 Z" fill="none" stroke="#c8c8d0" stroke-width="1" />
<rect x="508.2" y="108.6" width="2.3" height="2.3" fill="#ffffff"/>
<rect x="549.3" y="110.1" width="11.4" height="18.7" fill="#0000e6"/>
<path d="M552.19 127.24 L552.19 115.52 Q552.19 112.38 555.33 112.38 Q558.48 112.38 558.48 115.52 L558.48 127.24 Z" fill="none" stroke="#c8c8d0" stroke-width="1" />
<rect x="486.1" y="110.1" width="17.9" height="19.8" fill="#8a6a10"/>
<rect x="487.6" y="112.0" width="15.2" height="6.1" fill="#000"/>
<rect x="487.6" y="122.3" width="15.2" height="5.9" fill="#000"/>
<rect x="491.8" y="110.9" width="4.8" height="1.9" fill="#1030c0"/>
<rect x="530.9" y="110.1" width="17.5" height="19.8" fill="#8a6a10"/>
<rect x="532.4" y="112.0" width="14.9" height="6.1" fill="#000"/>
<rect x="532.4" y="122.3" width="14.9" height="5.9" fill="#000"/>
<rect x="536.6" y="110.9" width="4.8" height="1.9" fill="#1030c0"/>
<rect x="505.6" y="121.8" width="2.8" height="6.0" fill="#f5b400"/>
<rect x="511.2" y="123.8" width="11.0" height="2.3" fill="#00ff00"/>
<rect x="489.3" y="134.7" width="13.3" height="2.5" fill="#00ff00"/>
<rect x="537.9" y="134.7" width="11.4" height="2.5" fill="#00ff00"/>
<rect x="458.3" y="134.7" width="5.0" height="2.5" fill="#00ff00"/>
<rect x="554.7" y="134.7" width="4.2" height="2.5" fill="#00ff00"/>
<rect x="493.1" y="155.6" width="10.9" height="2.5" fill="#00ff00"/>
<rect x="531.2" y="155.6" width="10.5" height="2.5" fill="#00ff00"/>
<line x1="458.3" y1="126.7" x2="458.3" y2="137.5" stroke="#ff0000" stroke-width="1.3"/>
<line x1="489.3" y1="126.7" x2="489.3" y2="137.5" stroke="#ff0000" stroke-width="1.3"/>
<line x1="536.4" y1="126.7" x2="536.4" y2="137.5" stroke="#ff0000" stroke-width="1.3"/>
<line x1="546.5" y1="126.7" x2="546.5" y2="137.5" stroke="#ff0000" stroke-width="1.3"/>
<line x1="488.4" y1="138.7" x2="503.6" y2="138.7" stroke="#ff0000" stroke-width="1"/>
<line x1="536.0" y1="138.7" x2="551.2" y2="138.7" stroke="#ff0000" stroke-width="1"/>
<rect x="469.0" y="142.9" width="4.6" height="1.5" fill="#ff0000" fill-opacity="0.9"/>
<rect x="521.3" y="142.9" width="4.6" height="1.5" fill="#ff0000" fill-opacity="0.9"/>
<rect x="549.3" y="142.9" width="4.6" height="1.5" fill="#ff0000" fill-opacity="0.9"/>
<rect x="450.3" y="142.9" width="6.1" height="1.5" fill="#00ff00" fill-opacity="0.9"/>
<line x1="468.4" y1="143.8" x2="468.4" y2="154.3" stroke="#ff0000" stroke-width="1.3"/>
<line x1="521.7" y1="143.8" x2="521.7" y2="154.3" stroke="#ff0000" stroke-width="1.3"/>
<line x1="550.3" y1="143.8" x2="550.3" y2="154.3" stroke="#ff0000" stroke-width="1.3"/>
<rect x="448.4" y="148.6" width="122.3" height="3.0" fill="#ffffff"/>
<rect x="463.6" y="151.6" width="27.6" height="15.6" fill="#0000e6"/>
<path d="M468.38 165.71 L468.38 157.24 Q468.38 153.90 471.71 153.90 Q475.05 153.90 475.05 157.24 L475.05 165.71 Z" fill="none" stroke="#c8c8d0" stroke-width="1" />
<path d="M480.19 165.71 L480.19 158.04 Q480.19 153.90 484.76 153.90 Q489.33 153.90 489.33 158.04 L489.33 165.71 Z" fill="none" stroke="#c8c8d0" stroke-width="1" />
<rect x="505.5" y="151.6" width="22.9" height="15.2" fill="#0000e6"/>
<path d="M508.38 165.71 L508.38 157.24 Q508.38 153.90 511.71 153.90 Q515.05 153.90 515.05 157.24 L515.05 165.71 Z" fill="none" stroke="#c8c8d0" stroke-width="1" />
<path d="M518.86 165.71 L518.86 157.71 Q518.86 153.90 522.67 153.90 Q526.48 153.90 526.48 157.71 L526.48 165.71 Z" fill="none" stroke="#c8c8d0" stroke-width="1" />
<rect x="528.4" y="151.6" width="27.6" height="15.2" fill="#0000e6"/>
<rect x="530.3" y="154.3" width="15.6" height="9.5" fill="#1c2230"/>
<circle cx="514.10" cy="145.14" r="3.3" fill="none" stroke="#0000e6" stroke-width="2"/>
<rect x="509.7" y="146.7" width="9.5" height="2.3" fill="#0000e6"/>
<line x1="462.7" y1="151.6" x2="462.7" y2="170.5" stroke="#ffffff" stroke-width="1"/>
<line x1="557.0" y1="151.6" x2="557.0" y2="170.5" stroke="#ffffff" stroke-width="1"/>
<line x1="448.8" y1="151.6" x2="448.8" y2="169.5" stroke="#00ff00" stroke-width="1.2"/>
<line x1="570.7" y1="151.6" x2="570.7" y2="169.5" stroke="#00ff00" stroke-width="1.2"/>
<rect x="448.8" y="166.1" width="13.0" height="1.7" fill="#ff0000"/>
<rect x="490.7" y="166.1" width="14.9" height="1.7" fill="#ff0000"/>
<rect x="557.0" y="166.1" width="13.3" height="1.7" fill="#ff0000"/>
<line x1="447.4" y1="174.9" x2="575.6" y2="174.9" stroke="#ffffff" stroke-width="1"/>
<line x1="447.4" y1="173.0" x2="447.4" y2="176.4" stroke="#ffffff" stroke-width="1"/>
<line x1="462.7" y1="173.0" x2="462.7" y2="176.4" stroke="#ffffff" stroke-width="1"/>
<line x1="490.3" y1="173.0" x2="490.3" y2="176.4" stroke="#ffffff" stroke-width="1"/>
<line x1="505.5" y1="173.0" x2="505.5" y2="176.4" stroke="#ffffff" stroke-width="1"/>
<line x1="528.4" y1="173.0" x2="528.4" y2="176.4" stroke="#ffffff" stroke-width="1"/>
<line x1="545.5" y1="173.0" x2="545.5" y2="176.4" stroke="#ffffff" stroke-width="1"/>
<line x1="557.0" y1="173.0" x2="557.0" y2="176.4" stroke="#ffffff" stroke-width="1"/>
<line x1="575.6" y1="173.0" x2="575.6" y2="176.4" stroke="#ffffff" stroke-width="1"/>
<rect x="451.1" y="172.9" width="6.0" height="2.8" fill="#f5b400"/>
<rect x="474.9" y="172.9" width="6.0" height="2.8" fill="#f5b400"/>
<rect x="495.3" y="172.9" width="6.0" height="2.8" fill="#f5b400"/>
<rect x="514.0" y="172.9" width="6.0" height="2.8" fill="#f5b400"/>
<rect x="533.4" y="172.9" width="6.0" height="2.8" fill="#f5b400"/>
<rect x="546.3" y="172.9" width="6.0" height="2.8" fill="#f5b400"/>
<rect x="559.7" y="172.9" width="6.0" height="2.8" fill="#f5b400"/>
<rect x="462.4" y="176.0" width="7.0" height="3.5" fill="#f5b400"/>
<line x1="439.8" y1="100.6" x2="439.8" y2="171.0" stroke="#ffffff" stroke-width="1"/>
<line x1="442.3" y1="100.6" x2="442.3" y2="171.0" stroke="#ffffff" stroke-width="1"/>
<line x1="438.5" y1="100.6" x2="443.6" y2="100.6" stroke="#ffffff" stroke-width="1"/>
<line x1="438.5" y1="110.1" x2="443.6" y2="110.1" stroke="#ffffff" stroke-width="1"/>
<line x1="438.5" y1="131.0" x2="443.6" y2="131.0" stroke="#ffffff" stroke-width="1"/>
<line x1="438.5" y1="149.0" x2="443.6" y2="149.0" stroke="#ffffff" stroke-width="1"/>
<line x1="438.5" y1="171.0" x2="443.6" y2="171.0" stroke="#ffffff" stroke-width="1"/>
<rect x="435.8" y="100.1" width="3.0" height="5.5" fill="#f5b400"/>
<rect x="433.5" y="108.7" width="3.0" height="5.5" fill="#f5b400"/>
<rect x="436.4" y="117.2" width="3.0" height="5.5" fill="#f5b400"/>
<rect x="435.8" y="136.3" width="3.0" height="5.5" fill="#f5b400"/>
<rect x="435.1" y="143.0" width="3.0" height="5.5" fill="#f5b400"/>
<rect x="436.4" y="155.3" width="3.0" height="5.5" fill="#f5b400"/>
<rect x="434.5" y="163.9" width="3.0" height="5.5" fill="#f5b400"/>
<line x1="580.2" y1="99.4" x2="580.2" y2="171.4" stroke="#ffffff" stroke-width="1"/>
<line x1="584.6" y1="99.4" x2="584.6" y2="171.4" stroke="#ffffff" stroke-width="1"/>
<line x1="578.9" y1="99.4" x2="585.5" y2="99.4" stroke="#ffffff" stroke-width="1"/>
<line x1="578.9" y1="149.0" x2="585.5" y2="149.0" stroke="#ffffff" stroke-width="1"/>
<line x1="578.9" y1="171.4" x2="585.5" y2="171.4" stroke="#ffffff" stroke-width="1"/>
<rect x="578.7" y="111.3" width="3.0" height="6.0" fill="#f5b400"/>
<rect x="582.1" y="132.2" width="3.0" height="6.0" fill="#f5b400"/>
<rect x="578.7" y="157.0" width="3.0" height="6.0" fill="#f5b400"/>
<rect x="487.4" y="176.8" width="29.5" height="3.2" fill="#00ff00"/>
<rect x="549.7" y="175.6" width="25.9" height="4.4" fill="#00ff00"/>
<rect x="556.0" y="176.4" width="4.8" height="2.7" fill="#c8e040"/>
<rect x="544.0" y="180.4" width="39.6" height="1.1" fill="#5a5aff"/>
<rect x="677.3" y="62.3" width="69.5" height="4.4" fill="#0000e6"/>
<rect x="677.3" y="62.3" width="3.8" height="25.3" fill="#0000e6"/>
<rect x="681.1" y="66.7" width="11.8" height="8.8" fill="#0000e6"/>
<path d="M677.0 88.0 L677.0 61.9 L746.9 61.9 L746.9 67.0 L738.3 67.0" fill="none" stroke="#ffffff" stroke-width="1.3" />
<line x1="681.1" y1="75.8" x2="681.1" y2="88.0" stroke="#ffffff" stroke-width="1"/>
<line x1="670.7" y1="88.6" x2="702.1" y2="88.6" stroke="#ffffff" stroke-width="1.5"/>
<rect x="716.4" y="67.6" width="20.4" height="16.6" fill="none" stroke="#5a2a00" stroke-width="2.4"/>
<rect x="718.7" y="70.1" width="15.4" height="10.9" fill="#0c1c18"/>
<line x1="681.1" y1="75.4" x2="696.4" y2="75.4" stroke="#ff0000" stroke-width="1.5"/>
<rect x="695.2" y="78.4" width="3.2" height="3.2" fill="#ff0000"/>
<line x1="692.6" y1="66.7" x2="692.6" y2="83.0" stroke="#ffffff" stroke-width="1"/>
<line x1="697.3" y1="66.7" x2="697.3" y2="83.0" stroke="#ffffff" stroke-width="1"/>
<line x1="705.9" y1="66.7" x2="705.9" y2="83.0" stroke="#ffffff" stroke-width="1"/>
<line x1="714.5" y1="66.7" x2="714.5" y2="83.0" stroke="#ffffff" stroke-width="1"/>
<line x1="697.3" y1="83.0" x2="715.4" y2="83.0" stroke="#ffffff" stroke-width="1"/>
<rect x="694.6" y="67.7" width="2.8" height="5.5" fill="#f5b400"/>
<rect x="702.6" y="71.5" width="2.8" height="5.5" fill="#f5b400"/>
<rect x="711.7" y="71.2" width="2.8" height="5.5" fill="#f5b400"/>
<rect x="677.0" y="100.0" width="69.9" height="70.5" fill="none" stroke="#d0d0d0" stroke-width="1.3"/>
<line x1="681.1" y1="100.6" x2="681.1" y2="170.5" stroke="#ffffff" stroke-width="1"/>
<line x1="692.6" y1="100.6" x2="692.6" y2="149.5" stroke="#ffffff" stroke-width="1"/>
<rect x="694.5" y="108.0" width="41.9" height="2.3" fill="#e000e0"/>
<rect x="710.1" y="110.3" width="25.3" height="15.8" fill="#0000e6"/>
<rect x="712.6" y="112.4" width="7.6" height="10.7" fill="none" stroke="#d0d0d8" stroke-width="1"/>
<rect x="725.0" y="112.4" width="7.6" height="10.7" fill="none" stroke="#d0d0d8" stroke-width="1"/>
<line x1="693.5" y1="117.1" x2="708.8" y2="117.1" stroke="#8a8d90" stroke-width="1.6"/>
<line x1="693.5" y1="128.6" x2="708.8" y2="128.6" stroke="#8a8d90" stroke-width="1.6"/>
<line x1="693.5" y1="106.7" x2="736.4" y2="106.7" stroke="#8a8d90" stroke-width="1.2"/>
<line x1="708.8" y1="106.7" x2="708.8" y2="170.5" stroke="#8a8d90" stroke-width="1.6"/>
<line x1="735.4" y1="106.7" x2="735.4" y2="170.5" stroke="#8a8d90" stroke-width="1.6"/>
<rect x="681.1" y="148.6" width="28.0" height="2.7" fill="#ffffff"/>
<rect x="698.3" y="151.2" width="10.5" height="16.4" fill="#0000e6"/>
<rect x="699.8" y="153.5" width="7.6" height="12.2" fill="none" stroke="#c0c0d0" stroke-width="1"/>
<line x1="697.3" y1="151.2" x2="697.3" y2="170.5" stroke="#ffffff" stroke-width="1.5"/>
<line x1="681.1" y1="151.6" x2="681.1" y2="167.6" stroke="#00ff00" stroke-width="1.3"/>
<rect x="681.1" y="166.5" width="14.5" height="1.5" fill="#ff0000"/>
<line x1="703.0" y1="143.8" x2="703.0" y2="154.7" stroke="#ff0000" stroke-width="1.3"/>
<rect x="703.0" y="142.5" width="4.4" height="1.5" fill="#00ff00" fill-opacity="0.9"/>
<line x1="666.3" y1="105.7" x2="666.3" y2="171.0" stroke="#ffffff" stroke-width="1"/>
<line x1="672.6" y1="105.7" x2="672.6" y2="171.0" stroke="#ffffff" stroke-width="1"/>
<line x1="665.0" y1="105.7" x2="676.4" y2="105.7" stroke="#ffffff" stroke-width="1"/>
<line x1="665.0" y1="129.5" x2="676.4" y2="129.5" stroke="#ffffff" stroke-width="1"/>
<line x1="665.0" y1="149.5" x2="676.4" y2="149.5" stroke="#ffffff" stroke-width="1"/>
<line x1="665.0" y1="171.0" x2="676.4" y2="171.0" stroke="#ffffff" stroke-width="1"/>
<rect x="667.3" y="101.6" width="3.0" height="5.5" fill="#f5b400"/>
<rect x="669.2" y="117.2" width="3.0" height="5.5" fill="#f5b400"/>
<rect x="662.9" y="135.9" width="3.0" height="5.5" fill="#f5b400"/>
<rect x="669.2" y="136.3" width="3.0" height="5.5" fill="#f5b400"/>
<rect x="668.2" y="143.0" width="3.0" height="5.5" fill="#f5b400"/>
<rect x="669.2" y="155.3" width="3.0" height="5.5" fill="#f5b400"/>
<rect x="667.6" y="163.3" width="3.0" height="5.5" fill="#f5b400"/>
<line x1="750.7" y1="105.7" x2="750.7" y2="171.0" stroke="#ffffff" stroke-width="1"/>
<line x1="757.9" y1="105.7" x2="757.9" y2="171.0" stroke="#ffffff" stroke-width="1"/>
<line x1="747.8" y1="105.7" x2="759.2" y2="105.7" stroke="#ffffff" stroke-width="1"/>
<line x1="747.8" y1="124.8" x2="759.2" y2="124.8" stroke="#ffffff" stroke-width="1"/>
<line x1="747.8" y1="171.0" x2="759.2" y2="171.0" stroke="#ffffff" stroke-width="1"/>
<rect x="751.6" y="100.8" width="3.0" height="6.0" fill="#f5b400"/>
<rect x="747.8" y="114.1" width="3.0" height="6.0" fill="#f5b400"/>
<rect x="755.3" y="135.1" width="3.0" height="6.0" fill="#f5b400"/>
<rect x="747.8" y="144.6" width="3.0" height="6.0" fill="#f5b400"/>
<line x1="681.1" y1="173.3" x2="736.4" y2="173.3" stroke="#ffffff" stroke-width="1"/>
<line x1="681.1" y1="171.4" x2="681.1" y2="174.9" stroke="#ffffff" stroke-width="1"/>
<line x1="697.3" y1="171.4" x2="697.3" y2="174.9" stroke="#ffffff" stroke-width="1"/>
<line x1="708.8" y1="171.4" x2="708.8" y2="174.9" stroke="#ffffff" stroke-width="1"/>
<line x1="735.4" y1="171.4" x2="735.4" y2="174.9" stroke="#ffffff" stroke-width="1"/>
<rect x="686.0" y="172.2" width="5.5" height="3.0" fill="#f5b400"/>
<rect x="701.2" y="172.2" width="5.5" height="3.0" fill="#f5b400"/>
<rect x="719.3" y="172.2" width="5.5" height="3.0" fill="#f5b400"/>
<rect x="697.4" y="175.6" width="5.5" height="3.0" fill="#f5b400"/>
<rect x="709.8" y="175.6" width="5.5" height="3.0" fill="#f5b400"/>
<rect x="735.5" y="175.6" width="5.5" height="3.0" fill="#f5b400"/>
<rect x="665.0" y="176.8" width="29.9" height="3.2" fill="#00ff00"/>
<rect x="757.9" y="173.0" width="25.1" height="3.8" fill="#00ff00"/>
<rect x="752.0" y="178.5" width="38.7" height="1.1" fill="#9a9da0"/>
<rect x="869.1" y="66.3" width="20.0" height="8.4" fill="#0000e6"/>
<rect x="868.6" y="66.3" width="4.6" height="26.3" fill="#0000e6"/>
<rect x="932.6" y="66.3" width="4.8" height="26.3" fill="#0000e6"/>
<rect x="889.1" y="66.3" width="43.4" height="3.8" fill="#8a8d92"/>
<rect x="868.2" y="65.3" width="69.5" height="28.0" fill="none" stroke="#ffffff" stroke-width="1.3"/>
<line x1="865.3" y1="93.5" x2="941.9" y2="93.5" stroke="#e0e0e0" stroke-width="1.6"/>
<line x1="873.1" y1="70.5" x2="873.1" y2="93.0" stroke="#ffffff" stroke-width="1"/>
<line x1="885.3" y1="70.5" x2="885.3" y2="93.0" stroke="#ffffff" stroke-width="1"/>
<line x1="894.9" y1="70.5" x2="894.9" y2="93.0" stroke="#ffffff" stroke-width="1"/>
<line x1="916.8" y1="70.5" x2="916.8" y2="93.0" stroke="#ffffff" stroke-width="1"/>
<line x1="932.6" y1="70.5" x2="932.6" y2="93.0" stroke="#ffffff" stroke-width="1"/>
<rect x="896.38" y="73.52" width="20.38" height="11.81" rx="4" fill="none" stroke="#00ff00" stroke-width="1.3"/>
<rect x="898.10" y="74.86" width="7.81" height="8.95" rx="3" fill="none" stroke="#00e8e8" stroke-width="1.2"/>
<rect x="907.43" y="74.86" width="7.81" height="8.95" rx="3" fill="none" stroke="#00e8e8" stroke-width="1.2"/>
<rect x="901.3" y="78.2" width="1.6" height="1.6" fill="#e000e0"/>
<rect x="910.2" y="78.2" width="1.6" height="1.6" fill="#e000e0"/>
<line x1="873.1" y1="85.3" x2="885.7" y2="85.3" stroke="#ff0000" stroke-width="2"/>
<line x1="873.1" y1="74.3" x2="873.1" y2="85.3" stroke="#ff0000" stroke-width="1.5"/>
<line x1="917.3" y1="85.0" x2="931.4" y2="85.0" stroke="#ff0000" stroke-width="2"/>
<line x1="931.0" y1="71.4" x2="931.0" y2="85.7" stroke="#ff0000" stroke-width="1.5"/>
<line x1="873.9" y1="79.6" x2="885.3" y2="79.6" stroke="#ffffff" stroke-width="1.4"/>
<rect x="864.2" y="75.5" width="3.4" height="7.0" fill="#f5b400"/>
<rect x="876.5" y="76.2" width="6.3" height="3.0" fill="#f5b400"/>
<rect x="891.5" y="74.6" width="3.0" height="6.3" fill="#f5b400"/>
<rect x="923.9" y="78.6" width="6.0" height="3.5" fill="#f5b400"/>
<rect x="927.3" y="74.9" width="3.0" height="6.3" fill="#f5b400"/>
<line x1="867.8" y1="73.3" x2="867.8" y2="85.7" stroke="#ffffff" stroke-width="1"/>
<rect x="955.4" y="70.1" width="40.8" height="4.6" fill="#0000e6"/>
<rect x="955.4" y="70.1" width="6.3" height="19.6" fill="#0000e6"/>
<rect x="990.3" y="70.1" width="5.9" height="20.6" fill="#0000e6"/>
<rect x="954.9" y="69.5" width="41.9" height="20.6" fill="none" stroke="#ffffff" stroke-width="1.3"/>
<line x1="961.7" y1="74.7" x2="961.7" y2="89.7" stroke="#ffffff" stroke-width="1"/>
<line x1="990.3" y1="74.7" x2="990.3" y2="89.7" stroke="#ffffff" stroke-width="1"/>
<line x1="961.7" y1="74.7" x2="990.3" y2="74.7" stroke="#ffffff" stroke-width="1"/>
<line x1="970.1" y1="91.0" x2="997.0" y2="91.0" stroke="#ffffff" stroke-width="1.4"/>
<line x1="976.8" y1="75.4" x2="988.6" y2="75.4" stroke="#ff0000" stroke-width="2"/>
<line x1="977.1" y1="75.4" x2="977.1" y2="86.9" stroke="#ff0000" stroke-width="2"/>
<path d="M965.0 86.7 L966.3 85.3 L973.0 85.3 L974.5 86.7" fill="none" stroke="#ffffff" stroke-width="1.3" />
<rect x="869.1" y="100.6" width="4.4" height="69.9" fill="#0000e6"/>
<rect x="933.0" y="100.6" width="4.4" height="69.9" fill="#0000e6"/>
<rect x="868.2" y="100.0" width="69.5" height="70.5" fill="none" stroke="#ffffff" stroke-width="1.3"/>
<line x1="873.5" y1="100.6" x2="873.5" y2="170.5" stroke="#ffffff" stroke-width="1"/>
<line x1="933.0" y1="100.6" x2="933.0" y2="170.5" stroke="#ffffff" stroke-width="1"/>
<rect x="889.9" y="109.1" width="41.0" height="35.4" fill="none" stroke="#00ff00" stroke-width="2.6"/>
<line x1="892.0" y1="123.8" x2="905.3" y2="113.3" stroke="#80848a" stroke-width="0.9"/>
<line x1="896.8" y1="129.5" x2="921.5" y2="111.4" stroke="#80848a" stroke-width="0.9"/>
<line x1="912.0" y1="129.5" x2="927.2" y2="116.2" stroke="#80848a" stroke-width="0.9"/>
<rect x="922.9" y="107.0" width="8.2" height="22.5" fill="none" stroke="#8a6a10" stroke-width="1.5"/>
<rect x="921.5" y="106.3" width="9.5" height="2.7" fill="#8a6a10"/>
<rect x="894.9" y="130.1" width="25.9" height="4.6" fill="#00ff00"/>
<line x1="889.1" y1="136.6" x2="928.2" y2="136.6" stroke="#b8c0ff" stroke-width="1.4"/>
<rect x="908.2" y="144.8" width="2.9" height="4.0" fill="#00ff00"/>
<rect x="873.1" y="148.6" width="59.8" height="3.0" fill="#ffffff"/>
<rect x="885.3" y="151.6" width="31.4" height="16.0" fill="#0000e6"/>
<rect x="888.2" y="153.5" width="5.7" height="12.2" fill="none" stroke="#c8c8d8" stroke-width="1"/>
<rect x="897.7" y="153.5" width="6.7" height="12.2" fill="none" stroke="#c8c8d8" stroke-width="1"/>
<rect x="908.2" y="153.5" width="6.7" height="12.2" fill="none" stroke="#c8c8d8" stroke-width="1"/>
<line x1="881.9" y1="144.4" x2="881.9" y2="154.7" stroke="#ff0000" stroke-width="1.5"/>
<line x1="881.9" y1="144.4" x2="887.2" y2="144.4" stroke="#ff0000" stroke-width="1.5"/>
<line x1="913.0" y1="144.4" x2="913.0" y2="154.7" stroke="#ff0000" stroke-width="1.5"/>
<line x1="913.0" y1="144.4" x2="918.3" y2="144.4" stroke="#ff0000" stroke-width="1.5"/>
<rect x="873.1" y="166.1" width="12.2" height="1.5" fill="#ff0000"/>
<rect x="917.7" y="166.1" width="14.5" height="1.5" fill="#ff0000"/>
<line x1="932.0" y1="151.6" x2="932.0" y2="166.9" stroke="#00ff00" stroke-width="1.2"/>
<line x1="873.1" y1="151.6" x2="873.1" y2="170.5" stroke="#ffffff" stroke-width="1"/>
<line x1="885.3" y1="151.6" x2="885.3" y2="170.5" stroke="#ffffff" stroke-width="1"/>
<rect x="873.1" y="157.1" width="12.2" height="8.6" fill="none" stroke="#ffffff" stroke-width="1"/>
<rect x="858.9" y="143.9" width="3.4" height="5.5" fill="#f5b400"/>
<rect x="859.8" y="156.3" width="3.4" height="5.5" fill="#f5b400"/>
<rect x="858.9" y="163.3" width="3.4" height="5.5" fill="#f5b400"/>
<line x1="863.4" y1="148.6" x2="863.4" y2="171.4" stroke="#ffffff" stroke-width="1"/>
<line x1="866.3" y1="148.6" x2="866.3" y2="171.4" stroke="#ffffff" stroke-width="1"/>
<line x1="862.5" y1="148.6" x2="868.2" y2="148.6" stroke="#ffffff" stroke-width="1"/>
<line x1="862.5" y1="161.9" x2="868.2" y2="161.9" stroke="#ffffff" stroke-width="1"/>
<line x1="862.5" y1="171.4" x2="868.2" y2="171.4" stroke="#ffffff" stroke-width="1"/>
<rect x="873.1" y="168.6" width="9.5" height="4.8" fill="none" stroke="#ffffff" stroke-width="1"/>
<rect x="919.6" y="168.6" width="12.6" height="4.8" fill="none" stroke="#ffffff" stroke-width="1"/>
<line x1="873.1" y1="174.9" x2="933.0" y2="174.9" stroke="#ffffff" stroke-width="1"/>
<rect x="875.0" y="171.8" width="5.5" height="3.0" fill="#f5b400"/>
<rect x="898.8" y="171.5" width="5.5" height="3.0" fill="#f5b400"/>
<rect x="920.7" y="171.5" width="5.5" height="3.0" fill="#f5b400"/>
<rect x="885.4" y="176.0" width="5.5" height="3.0" fill="#f5b400"/>
<rect x="917.2" y="175.6" width="5.5" height="3.0" fill="#f5b400"/>
<rect x="913.9" y="179.6" width="30.1" height="3.2" fill="#00ff00"/>
<rect x="956.8" y="100.0" width="37.1" height="70.5" fill="none" stroke="#ffffff" stroke-width="1.3"/>
<line x1="961.7" y1="100.6" x2="961.7" y2="170.5" stroke="#ffffff" stroke-width="1"/>
<line x1="988.6" y1="100.6" x2="988.6" y2="170.5" stroke="#ffffff" stroke-width="1"/>
<rect x="961.5" y="130.1" width="32.4" height="4.6" fill="#00ff00"/>
<line x1="955.8" y1="136.6" x2="996.2" y2="136.6" stroke="#4a4aff" stroke-width="1.8"/>
<rect x="962.5" y="148.6" width="26.1" height="2.7" fill="#ffffff"/>
<line x1="967.6" y1="144.4" x2="967.6" y2="152.8" stroke="#ff0000" stroke-width="1.5"/>
<line x1="967.6" y1="144.4" x2="973.3" y2="144.4" stroke="#ff0000" stroke-width="1.5"/>
<rect x="968.2" y="142.1" width="4.8" height="1.5" fill="#00ff00" fill-opacity="0.9"/>
<rect x="963.4" y="152.4" width="9.5" height="1.9" fill="#00ff00"/>
<rect x="962.5" y="158.1" width="11.8" height="8.8" fill="#0000e6"/>
<rect x="962.5" y="157.7" width="17.1" height="6.1" fill="none" stroke="#00e8e8" stroke-width="1.2"/>
<line x1="963.4" y1="160.6" x2="973.9" y2="160.6" stroke="#00e8e8" stroke-width="1"/>
<line x1="963.4" y1="163.8" x2="973.9" y2="163.8" stroke="#00e8e8" stroke-width="1"/>
<line x1="988.6" y1="151.6" x2="988.6" y2="166.1" stroke="#00ff00" stroke-width="1.2"/>
<line x1="962.5" y1="151.6" x2="962.5" y2="170.5" stroke="#ffffff" stroke-width="1"/>
<line x1="976.8" y1="151.6" x2="976.8" y2="170.5" stroke="#ffffff" stroke-width="1"/>
<rect x="978.7" y="166.1" width="9.9" height="1.5" fill="#ff0000"/>
<rect x="949.3" y="144.6" width="3.4" height="6.0" fill="#f5b400"/>
<rect x="948.8" y="153.2" width="3.4" height="6.0" fill="#f5b400"/>
<rect x="948.4" y="161.8" width="3.4" height="6.0" fill="#f5b400"/>
<line x1="953.9" y1="148.6" x2="953.9" y2="171.4" stroke="#ffffff" stroke-width="1"/>
<line x1="956.8" y1="148.6" x2="956.8" y2="171.4" stroke="#ffffff" stroke-width="1"/>
<line x1="952.4" y1="148.6" x2="957.7" y2="148.6" stroke="#ffffff" stroke-width="1"/>
<line x1="952.4" y1="157.1" x2="957.7" y2="157.1" stroke="#ffffff" stroke-width="1"/>
<line x1="952.4" y1="163.8" x2="957.7" y2="163.8" stroke="#ffffff" stroke-width="1"/>
<line x1="952.4" y1="171.4" x2="957.7" y2="171.4" stroke="#ffffff" stroke-width="1"/>
<rect x="961.7" y="168.6" width="11.2" height="4.8" fill="none" stroke="#ffffff" stroke-width="1"/>
<rect x="978.7" y="168.6" width="9.9" height="4.8" fill="none" stroke="#ffffff" stroke-width="1"/>
<rect x="962.6" y="173.5" width="5.5" height="3.0" fill="#f5b400"/>
<rect x="976.9" y="173.5" width="5.5" height="3.0" fill="#f5b400"/>
<rect x="1064.8" y="78.1" width="132.6" height="5.0" fill="#0000e6"/>
<rect x="1094.3" y="82.9" width="17.7" height="4.8" fill="#0000e6"/>
<rect x="1100.0" y="87.6" width="5.7" height="9.1" fill="#0000e6"/>
<rect x="1183.8" y="82.9" width="13.5" height="10.9" fill="#0000e6"/>
<rect x="1192.8" y="82.9" width="4.6" height="63.8" fill="#0000e6"/>
<rect x="1064.8" y="126.7" width="8.8" height="20.0" fill="#0000e6"/>
<rect x="1064.8" y="142.9" width="41.0" height="3.8" fill="#0000e6"/>
<rect x="1100.0" y="127.6" width="5.7" height="19.0" fill="#0000e6"/>
<rect x="1065.7" y="83.4" width="4.0" height="42.7" fill="#8a8d92"/>
<rect x="1069.9" y="83.4" width="13.1" height="59.4" fill="#ff0000"/>
<rect x="1083.0" y="83.4" width="17.0" height="13.0" fill="#ff0000"/>
<rect x="1086.7" y="132.6" width="13.3" height="10.3" fill="#ff0000"/>
<rect x="1073.5" y="126.7" width="13.1" height="16.2" fill="#ff0000"/>
<rect x="1105.7" y="87.6" width="6.3" height="8.8" fill="#ff0000"/>
<rect x="1112.0" y="82.3" width="30.9" height="14.1" fill="#ff0000"/>
<rect x="1144.0" y="82.3" width="39.8" height="14.1" fill="#ff0000"/>
<rect x="1183.8" y="93.7" width="8.6" height="7.6" fill="#ff0000"/>
<rect x="1180.0" y="101.3" width="12.4" height="8.4" fill="#ff0000"/>
<line x1="1064.4" y1="77.5" x2="1197.7" y2="77.5" stroke="#ffffff" stroke-width="1.5"/>
<line x1="1064.4" y1="77.5" x2="1064.4" y2="147.2" stroke="#ffffff" stroke-width="1.5"/>
<line x1="1197.7" y1="77.5" x2="1197.7" y2="147.2" stroke="#ffffff" stroke-width="1.5"/>
<line x1="1192.4" y1="147.2" x2="1197.7" y2="147.2" stroke="#ffffff" stroke-width="1.5"/>
<line x1="1192.4" y1="101.3" x2="1192.4" y2="147.2" stroke="#ffffff" stroke-width="1.5"/>
<line x1="1064.4" y1="147.2" x2="1106.1" y2="147.2" stroke="#ffffff" stroke-width="1.5"/>
<line x1="1106.1" y1="127.6" x2="1106.1" y2="147.2" stroke="#ffffff" stroke-width="1.5"/>
<line x1="1082.3" y1="128.0" x2="1106.1" y2="128.0" stroke="#ffffff" stroke-width="1.5"/>
<line x1="1084.2" y1="96.8" x2="1178.1" y2="96.8" stroke="#ffffff" stroke-width="1.5"/>
<rect x="1084.2" y="98.1" width="93.9" height="3.0" fill="#9a9da2"/>
<rect x="1084.2" y="96.8" width="2.7" height="32.8" fill="#9a9da2"/>
<line x1="1084.2" y1="96.8" x2="1084.2" y2="129.5" stroke="#ffffff" stroke-width="1.3"/>
<line x1="1142.9" y1="82.3" x2="1142.9" y2="96.4" stroke="#ffffff" stroke-width="1.3"/>
<line x1="1086.7" y1="82.9" x2="1086.7" y2="96.4" stroke="#ffffff" stroke-width="1.2"/>
<line x1="1178.1" y1="96.8" x2="1178.1" y2="110.9" stroke="#ffffff" stroke-width="1.3"/>
<line x1="1175.8" y1="110.9" x2="1192.4" y2="110.9" stroke="#ffffff" stroke-width="1.3"/>
<path d="M1082.3 129.5 L1085.7 132.2 L1099.0 132.2" fill="none" stroke="#ffffff" stroke-width="1.5" />
<line x1="1068.6" y1="109.0" x2="1083.0" y2="109.0" stroke="#ffffff" stroke-width="1.2"/>
<line x1="1116.2" y1="96.8" x2="1116.2" y2="117.3" stroke="#ff0000" stroke-width="1.4"/>
<line x1="1116.2" y1="117.3" x2="1133.0" y2="117.3" stroke="#ff0000" stroke-width="1.4"/>
<rect x="1117.1" y="113.0" width="13.5" height="2.5" fill="#00ff00"/>
<rect x="1084.3" y="86.1" width="2.8" height="6.0" fill="#f5b400"/>
<rect x="1140.5" y="86.1" width="2.8" height="6.0" fill="#f5b400"/>
<rect x="1083.7" y="111.3" width="2.8" height="6.0" fill="#f5b400"/>
<rect x="1086.2" y="134.1" width="2.8" height="6.0" fill="#f5b400"/>
<rect x="1173.3" y="99.9" width="2.8" height="6.0" fill="#f5b400"/>
<rect x="1128.0" y="97.8" width="6.0" height="2.8" fill="#f5b400"/>
<rect x="1073.2" y="106.2" width="6.0" height="2.8" fill="#f5b400"/>
<rect x="1088.0" y="125.8" width="6.0" height="2.8" fill="#f5b400"/>
<rect x="1182.7" y="97.8" width="6.0" height="2.8" fill="#f5b400"/>
<rect x="1155.8" y="172.8" width="46.1" height="4.4" fill="#00ff00"/>
<rect x="1155.2" y="178.7" width="52.4" height="1.3" fill="#9a9da0"/>
<rect x="1252.1" y="159.5" width="51.4" height="37.0" fill="none" stroke="#0a0c10" stroke-width="1.6"/>
<rect x="1253.7" y="160.8" width="48.8" height="34.4" fill="#6a6e73"/>
<rect x="1255.7" y="162.8" width="37.6" height="29.1" fill="#1f2832"/>
<rect x="1293.8" y="163.1" width="8.1" height="31.4" fill="#74777c"/>
<rect x="1296.0" y="167.7" width="2.3" height="1.6" fill="#e0d860"/>
<rect x="1261.3" y="166.7" width="19.6" height="24.5" fill="none" stroke="#ffffff" stroke-width="1.2"/>
<rect x="1261.9" y="166.9" width="2.4" height="23.0" fill="#f0e8a0" fill-opacity="0.85"/>
<line x1="1265.4" y1="169.0" x2="1265.4" y2="189.3" stroke="#00ff00" stroke-width="1.5"/>
<line x1="1280.6" y1="169.0" x2="1280.6" y2="186.7" stroke="#00ff00" stroke-width="1.5"/>
<rect x="1267.5" y="166.4" width="14.4" height="2.1" fill="#ffffff"/>
<rect x="1271.4" y="184.0" width="7.9" height="1.3" fill="#ff0000"/>
<rect x="1265.9" y="185.7" width="15.1" height="5.9" fill="none" stroke="#ffffff" stroke-width="1.6"/>
<rect x="1268.2" y="186.7" width="10.5" height="1.3" fill="#0000e6"/>
<rect x="1267.5" y="188.6" width="11.8" height="1.3" fill="#8090c0"/>
<rect x="1283.2" y="190.3" width="11.1" height="1.3" fill="#00ff00"/>
<rect x="1279.3" y="176.2" width="5.2" height="0.8" fill="#ffffff"/>
<rect x="1279.9" y="170.8" width="3.3" height="0.8" fill="#ffffff"/>
<rect x="628.1" y="745.5" width="51.4" height="37.0" fill="none" stroke="#0a0c10" stroke-width="1.6"/>
<rect x="629.7" y="746.8" width="48.8" height="34.4" fill="#6a6e73"/>
<rect x="631.7" y="748.8" width="37.6" height="29.1" fill="#1f2832"/>
<rect x="669.8" y="749.1" width="8.1" height="31.4" fill="#74777c"/>
<rect x="672.0" y="753.7" width="2.3" height="1.6" fill="#e0d860"/>
<rect x="636.3" y="751.7" width="4.9" height="23.6" fill="#00e8e8"/>
<rect x="641.2" y="755.0" width="1.0" height="15.1" fill="#e8e860"/>
<rect x="644.2" y="752.4" width="11.1" height="2.6" fill="#ffffff"/>
<rect x="642.2" y="760.2" width="12.4" height="1.4" fill="#20a8a8"/>
<rect x="654.6" y="752.4" width="1.4" height="17.7" fill="#ff0000" fill-opacity="0.85"/>
<rect x="646.1" y="757.9" width="3.9" height="1.3" fill="#e04010"/>
<rect x="634.3" y="760.9" width="1.3" height="3.3" fill="#c01040"/>
<rect x="642.2" y="755.6" width="12.4" height="14.4" fill="#103020" fill-opacity="0.7"/>
<rect x="641.5" y="770.0" width="15.1" height="1.6" fill="#ffffff"/>
<rect x="644.2" y="771.8" width="10.5" height="1.0" fill="#0000e6"/>
<rect x="641.9" y="773.0" width="13.4" height="4.9" fill="#00e8e8" fill-opacity="0.9"/>
<rect x="646.8" y="774.3" width="3.3" height="3.6" fill="#ff0000"/>
<rect x="636.3" y="775.0" width="5.2" height="1.1" fill="#ffffff"/>
<rect x="656.6" y="773.0" width="4.6" height="1.0" fill="#ffffff"/>
<rect x="656.6" y="761.5" width="4.6" height="1.0" fill="#ffffff"/>
<rect x="658.6" y="776.3" width="10.5" height="1.0" fill="#00ff00"/>
<rect x="656.3" y="748.1" width="2.9" height="2.0" fill="#ff0000" fill-opacity="0.8"/>
<rect x="1532.7" y="108.6" width="113.2" height="66.9" fill="none" stroke="#c4c8cc" stroke-width="1.5"/>
<rect x="1574.5" y="111.1" width="7.7" height="3.2" fill="#ffffff"/>
<rect x="1584.2" y="110.8" width="10.4" height="3.6" fill="#ffffff" fill-opacity="0.9"/>
<rect x="1537.0" y="115.4" width="6.8" height="2.3" fill="#ffffff"/>
<rect x="1539.5" y="118.2" width="2.6" height="1.1" fill="#ff0000"/>
<rect x="1552.2" y="118.0" width="3.1" height="1.1" fill="#ff0000"/>
<rect x="1567.5" y="118.2" width="2.8" height="0.7" fill="#d0d0d0"/>
<rect x="1602.0" y="118.2" width="2.8" height="0.7" fill="#d0d0d0"/>
<rect x="1615.6" y="118.2" width="2.8" height="0.7" fill="#d0d0d0"/>
<rect x="1628.6" y="118.2" width="2.8" height="0.7" fill="#d0d0d0"/>
<rect x="1589.0" y="118.0" width="0.9" height="1.9" fill="#d0d0d0"/>
<rect x="1535.3" y="120.4" width="10.7" height="22.6" fill="#5e5c06"/>
<rect x="1539.2" y="124.4" width="4.0" height="14.1" fill="#1c2226"/>
<rect x="1535.3" y="120.4" width="10.7" height="22.6" fill="none" stroke="#00e8e8" stroke-width="1.1"/>
<rect x="1535.8" y="143.1" width="10.2" height="1.5" fill="#909498"/>
<rect x="1547.7" y="120.4" width="11.5" height="42.4" fill="#5e5c06"/>
<rect x="1551.1" y="124.6" width="5.1" height="15.6" fill="#1c2226"/>
<rect x="1551.1" y="143.6" width="5.1" height="16.4" fill="#1c2226"/>
<rect x="1547.7" y="120.4" width="11.5" height="42.4" fill="none" stroke="#00e8e8" stroke-width="1.1"/>
<rect x="1548.0" y="162.4" width="11.0" height="1.1" fill="#ffffff"/>
<line x1="1560.5" y1="121.0" x2="1560.5" y2="162.9" stroke="#ffffff" stroke-width="1.2"/>
<circle cx="1533.80" cy="131.41" r="2.3" fill="#ff0000" stroke="none" stroke-width="0"/>
<circle cx="1544.88" cy="140.80" r="1.6" fill="#ff0000" stroke="none" stroke-width="0"/>
<rect x="1563.9" y="121.0" width="11.5" height="43.9" fill="#ffffff"/>
<rect x="1566.4" y="124.4" width="6.2" height="15.8" fill="#808388"/>
<rect x="1566.4" y="150.4" width="6.2" height="11.3" fill="#808388"/>
<rect x="1566.1" y="144.5" width="7.0" height="2.0" fill="#1c2226"/>
<rect x="1575.4" y="140.6" width="8.5" height="1.9" fill="#c0c4c8"/>
<rect x="1583.3" y="121.2" width="12.2" height="16.5" fill="#ffffff"/>
<rect x="1584.7" y="122.6" width="9.7" height="14.0" fill="#2a3038"/>
<rect x="1586.2" y="123.9" width="6.8" height="10.9" fill="#85888c"/>
<rect x="1585.0" y="122.8" width="9.0" height="13.6" fill="none" stroke="#ffffff" stroke-width="0.8"/>
<rect x="1597.2" y="121.2" width="11.3" height="26.7" fill="#ffffff"/>
<rect x="1600.1" y="124.2" width="6.1" height="19.7" fill="#7c8084"/>
<rect x="1599.2" y="144.3" width="7.9" height="2.3" fill="#30353c"/>
<rect x="1611.0" y="121.2" width="11.9" height="43.7" fill="#ffffff"/>
<rect x="1612.5" y="122.8" width="9.0" height="40.0" fill="#8a8d92"/>
<rect x="1614.1" y="124.6" width="5.9" height="22.6" fill="#6c7074"/>
<rect x="1614.1" y="150.2" width="5.9" height="11.5" fill="#6c7074"/>
<line x1="1613.0" y1="122.1" x2="1613.0" y2="164.0" stroke="#d8d8d8" stroke-width="1"/>
<line x1="1621.1" y1="122.1" x2="1621.1" y2="164.0" stroke="#d8d8d8" stroke-width="1"/>
<rect x="1624.6" y="121.2" width="12.1" height="43.7" fill="#ffffff"/>
<rect x="1626.9" y="124.4" width="6.8" height="15.8" fill="#808388"/>
<rect x="1626.9" y="150.4" width="6.8" height="11.3" fill="#808388"/>
<rect x="1626.6" y="144.5" width="7.6" height="2.0" fill="#1c2226"/>
<rect x="1637.0" y="140.6" width="8.3" height="2.1" fill="#a0a4a8"/>
<rect x="1536.4" y="168.3" width="21.5" height="6.4" fill="#1a5a20"/>
<rect x="1538.1" y="170.5" width="18.1" height="3.6" fill="#5a5a10"/>
<rect x="1536.4" y="168.3" width="21.5" height="6.4" fill="none" stroke="#c8f0e8" stroke-width="1.2"/>
<line x1="1536.4" y1="168.5" x2="1557.9" y2="168.5" stroke="#00e8e8" stroke-width="1.2"/>
<circle cx="1546.57" cy="166.81" r="2.4" fill="#ff0000" stroke="none" stroke-width="0"/>
<circle cx="1556.19" cy="172.12" r="2.0" fill="#ff0000" stroke="none" stroke-width="0"/>
<rect x="1560.1" y="171.9" width="2.6" height="0.9" fill="#d0d0d0"/>
<rect x="444.2" y="247.2" width="131.0" height="4.4" fill="#0000e6"/>
<rect x="561.7" y="247.2" width="13.5" height="22.9" fill="#0000e6"/>
<rect x="443.6" y="246.7" width="132.0" height="24.0" fill="none" stroke="#ffffff" stroke-width="1.2"/>
<line x1="437.9" y1="271.0" x2="578.9" y2="271.0" stroke="#d0d0d0" stroke-width="1.8"/>
<rect x="448.4" y="242.5" width="113.3" height="8.0" fill="none" stroke="#00e8e8" stroke-width="1.2"/>
<line x1="490.7" y1="242.5" x2="490.7" y2="250.5" stroke="#00e8e8" stroke-width="1.2"/>
<line x1="490.7" y1="250.5" x2="561.7" y2="250.5" stroke="#00e8e8" stroke-width="1.4"/>
<rect x="557.0" y="260.0" width="4.8" height="5.7" fill="none" stroke="#00e8e8" stroke-width="1.2"/>
<line x1="449.3" y1="251.4" x2="490.7" y2="251.4" stroke="#00e8e8" stroke-width="1"/>
<line x1="462.7" y1="251.6" x2="462.7" y2="269.9" stroke="#ff0000" stroke-width="1.2"/>
<line x1="492.2" y1="251.6" x2="492.2" y2="269.9" stroke="#ff0000" stroke-width="1.2"/>
<line x1="505.5" y1="251.6" x2="505.5" y2="269.9" stroke="#ff0000" stroke-width="1.2"/>
<line x1="530.3" y1="251.6" x2="530.3" y2="269.9" stroke="#ff0000" stroke-width="1.2"/>
<line x1="547.4" y1="251.6" x2="547.4" y2="269.9" stroke="#ff0000" stroke-width="1.2"/>
<line x1="561.7" y1="250.5" x2="561.7" y2="270.7" stroke="#ff0000" stroke-width="1.4"/>
<line x1="462.7" y1="265.7" x2="557.0" y2="265.7" stroke="#ff0000" stroke-width="1.3"/>
<line x1="562.7" y1="263.0" x2="570.7" y2="263.0" stroke="#ff0000" stroke-width="2"/>
<rect x="557.0" y="268.6" width="4.8" height="2.5" fill="#ff0000"/>
<line x1="450.3" y1="255.2" x2="461.7" y2="255.2" stroke="#ff0000" stroke-width="1.2"/>
<line x1="467.4" y1="253.3" x2="467.4" y2="265.7" stroke="#00e8e8" stroke-width="1"/>
<line x1="473.1" y1="253.3" x2="473.1" y2="265.7" stroke="#ff0000" stroke-width="1"/>
<rect x="458.9" y="239.7" width="1.8" height="1.8" fill="#ff0000"/>
<rect x="479.5" y="239.7" width="1.8" height="1.8" fill="#ff0000"/>
<rect x="524.6" y="239.7" width="1.8" height="1.8" fill="#ff0000"/>
<rect x="524.6" y="248.1" width="1.8" height="1.8" fill="#ff0000"/>
<rect x="466.5" y="248.1" width="1.8" height="1.8" fill="#ff0000"/>
<rect x="455.1" y="249.6" width="1.8" height="1.8" fill="#ff0000"/>
<rect x="460.8" y="264.8" width="1.8" height="1.8" fill="#ff0000"/>
<rect x="444.2" y="278.7" width="4.2" height="71.2" fill="#0000e6"/>
<rect x="570.9" y="278.7" width="4.4" height="71.2" fill="#0000e6"/>
<rect x="443.8" y="278.7" width="4.8" height="71.2" fill="none" stroke="#ffffff" stroke-width="1.2"/>
<rect x="570.7" y="278.7" width="5.0" height="71.2" fill="none" stroke="#ffffff" stroke-width="1.2"/>
<line x1="448.8" y1="325.1" x2="570.7" y2="325.1" stroke="#00e8e8" stroke-width="1.4"/>
<rect x="570.7" y="329.5" width="11.0" height="20.4" fill="none" stroke="#00e8e8" stroke-width="1.2"/>
<line x1="451.2" y1="329.3" x2="570.7" y2="329.3" stroke="#ff0000" stroke-width="2.2"/>
<rect x="460.8" y="345.7" width="101.0" height="1.7" fill="#ff0000"/>
<line x1="460.8" y1="329.3" x2="460.8" y2="347.2" stroke="#ff0000" stroke-width="2.4"/>
<line x1="462.9" y1="329.3" x2="462.9" y2="347.2" stroke="#ff0000" stroke-width="1.3"/>
<line x1="490.3" y1="329.3" x2="490.3" y2="347.2" stroke="#ff0000" stroke-width="1.3"/>
<line x1="506.5" y1="329.3" x2="506.5" y2="347.2" stroke="#ff0000" stroke-width="1.3"/>
<line x1="528.4" y1="329.3" x2="528.4" y2="347.2" stroke="#ff0000" stroke-width="1.3"/>
<line x1="545.9" y1="329.3" x2="545.9" y2="347.2" stroke="#ff0000" stroke-width="1.3"/>
<line x1="557.0" y1="329.3" x2="557.0" y2="347.2" stroke="#ff0000" stroke-width="1.3"/>
<line x1="559.2" y1="329.3" x2="559.2" y2="347.2" stroke="#ff0000" stroke-width="1.3"/>
<line x1="561.7" y1="329.3" x2="561.7" y2="347.2" stroke="#ff0000" stroke-width="1.3"/>
<rect x="448.8" y="346.3" width="8.4" height="1.3" fill="#ff0000"/>
<rect x="449.7" y="327.8" width="2.4" height="2.4" fill="#ff0000"/>
<rect x="508.0" y="323.0" width="1.6" height="1.6" fill="#ff0000"/>
<rect x="578.6" y="338.2" width="1.6" height="1.6" fill="#ff0000"/>
<path d="M457.0 345.7 L458.3 349.5 L459.8 346.1" fill="none" stroke="#00e8e8" stroke-width="1.2" />
<rect x="493.1" y="334.7" width="10.9" height="2.1" fill="#00ff00"/>
<rect x="530.9" y="334.7" width="10.9" height="2.1" fill="#00ff00"/>
<line x1="443.6" y1="350.1" x2="575.6" y2="350.1" stroke="#c8c8c8" stroke-width="1.8"/>
<rect x="557.3" y="346.3" width="12.6" height="2.5" fill="#ffffff"/>
<rect x="558.5" y="347.2" width="10.9" height="1.1" fill="#0000e6"/>
<rect x="490.9" y="354.9" width="30.3" height="4.8" fill="#00ff00"/>
<rect x="549.9" y="353.9" width="25.7" height="4.2" fill="#00ff00"/>
<rect x="544.0" y="358.3" width="39.6" height="1.1" fill="#9c9cff"/>
<rect x="647.6" y="241.0" width="69.3" height="4.6" fill="#0000e6"/>
<rect x="647.6" y="241.0" width="5.0" height="26.7" fill="#0000e6"/>
<rect x="652.6" y="245.5" width="11.8" height="9.1" fill="#0000e6"/>
<path d="M652.6 267.6 L647.2 267.6 L647.2 240.6 L717.3 240.6 L717.3 245.7 L664.4 245.7" fill="none" stroke="#ffffff" stroke-width="1.3" />
<path d="M652.6 267.6 L652.6 254.9" fill="none" stroke="#ffffff" stroke-width="1.2" />
<line x1="652.6" y1="255.0" x2="665.1" y2="255.0" stroke="#ff0000" stroke-width="1.8"/>
<line x1="665.0" y1="245.7" x2="665.0" y2="262.9" stroke="#c0f0f0" stroke-width="1.2"/>
<line x1="678.7" y1="245.7" x2="678.7" y2="261.0" stroke="#00e8e8" stroke-width="1.4"/>
<line x1="675.4" y1="246.7" x2="675.4" y2="261.0" stroke="#ff0000" stroke-width="1.2"/>
<line x1="665.9" y1="262.3" x2="681.1" y2="262.3" stroke="#00e8e8" stroke-width="1.5"/>
<path d="M665.0 256.2 L668.8 261.0 L681.1 261.0" fill="none" stroke="#ff0000" stroke-width="1.3" />
<rect x="662.5" y="248.6" width="1.8" height="1.8" fill="#ff0000"/>
<rect x="668.8" y="262.5" width="1.8" height="1.8" fill="#ff0000"/>
<rect x="679.9" y="262.9" width="1.8" height="1.8" fill="#ff0000"/>
<rect x="667.3" y="257.2" width="1.8" height="1.8" fill="#ff0000"/>
<rect x="647.2" y="278.7" width="5.3" height="71.2" fill="none" stroke="#ffffff" stroke-width="1.5"/>
<rect x="652.6" y="347.2" width="12.6" height="2.7" fill="#0000e6"/>
<line x1="652.6" y1="347.2" x2="665.1" y2="347.2" stroke="#ffffff" stroke-width="1.2"/>
<line x1="652.6" y1="350.1" x2="665.5" y2="350.1" stroke="#ffffff" stroke-width="1.2"/>
<rect x="666.7" y="329.5" width="4.2" height="18.5" fill="#ff0000"/>
<line x1="663.0" y1="326.7" x2="663.0" y2="346.1" stroke="#ff0000" stroke-width="1.3"/>
<line x1="652.6" y1="329.5" x2="681.1" y2="329.5" stroke="#ff0000" stroke-width="1.2"/>
<rect x="671.6" y="329.5" width="8.6" height="17.1" fill="none" stroke="#00e8e8" stroke-width="1.3"/>
<line x1="660.2" y1="327.0" x2="681.1" y2="327.0" stroke="#00e8e8" stroke-width="1"/>
<rect x="667.8" y="322.8" width="2.0" height="2.0" fill="#ff0000"/>
<rect x="660.7" y="324.1" width="2.0" height="2.0" fill="#ff0000"/>
<rect x="672.9" y="324.7" width="2.0" height="2.0" fill="#ff0000"/>
<rect x="683.0" y="343.8" width="2.0" height="2.0" fill="#ff0000"/>
<line x1="637.3" y1="350.1" x2="685.0" y2="350.1" stroke="#ff0000" stroke-width="0.9"/>
<line x1="680.2" y1="346.7" x2="685.0" y2="348.0" stroke="#00e8e8" stroke-width="1"/>
<rect x="674.9" y="352.4" width="30.1" height="4.2" fill="#00ff00"/>
<line x1="760.2" y1="239.6" x2="777.3" y2="239.6" stroke="#00e8e8" stroke-width="1.4"/>
<line x1="777.3" y1="240.0" x2="777.3" y2="256.6" stroke="#ff0000" stroke-width="2"/>
<path d="M758.3 244.8 L765.3 248.6 L765.3 255.4 L776.8 255.4" fill="none" stroke="#ff0000" stroke-width="2.4" />
<line x1="774.5" y1="240.6" x2="774.5" y2="255.4" stroke="#00e8e8" stroke-width="1"/>
<path d="M760.2 240.6 L760.2 243.8" fill="none" stroke="#ff0000" stroke-width="1.5" />
<rect x="768.8" y="237.2" width="1.8" height="1.8" fill="#ff0000"/>
<rect x="758.0" y="241.6" width="1.8" height="1.8" fill="#ff0000"/>
<rect x="777.8" y="256.8" width="1.8" height="1.8" fill="#ff0000"/>
<rect x="767.9" y="257.2" width="1.8" height="1.8" fill="#ff0000"/>
<line x1="764.0" y1="257.3" x2="778.3" y2="257.3" stroke="#00e8e8" stroke-width="1"/>
<rect x="764.00" y="280.57" width="15.81" height="20.38" rx="2.5" fill="none" stroke="#00e8e8" stroke-width="1.3"/>
<line x1="764.4" y1="284.0" x2="777.5" y2="284.0" stroke="#ff0000" stroke-width="1.8"/>
<line x1="764.4" y1="284.0" x2="764.4" y2="301.0" stroke="#ff0000" stroke-width="1.6"/>
<line x1="771.6" y1="301.0" x2="779.2" y2="301.0" stroke="#ff0000" stroke-width="1.8"/>
<rect x="769.3" y="277.7" width="2.0" height="2.0" fill="#ff0000"/>
<rect x="777.3" y="290.4" width="2.0" height="2.0" fill="#ff0000"/>
<circle cx="766.48" cy="303.05" r="1.8" fill="none" stroke="#00e8e8" stroke-width="1"/>
<path d="M767.8 301.9 L771.6 298.1" fill="none" stroke="#ffffff" stroke-width="1" />
<rect x="759.6" y="322.9" width="20.2" height="25.1" fill="none" stroke="#00e8e8" stroke-width="1.2"/>
<rect x="760.8" y="324.4" width="18.3" height="20.4" fill="none" stroke="#ff0000" stroke-width="2.6"/>
<line x1="768.0" y1="324.4" x2="768.0" y2="344.8" stroke="#ff0000" stroke-width="1.8"/>
<rect x="760.8" y="341.9" width="18.3" height="3.2" fill="#ff0000"/>
<rect x="756.3" y="339.4" width="2.0" height="2.0" fill="#ff0000"/>
<rect x="756.3" y="331.4" width="2.0" height="2.0" fill="#ff0000"/>
<rect x="762.0" y="320.3" width="2.0" height="2.0" fill="#ff0000"/>
<rect x="777.7" y="320.3" width="2.0" height="2.0" fill="#ff0000"/>
<rect x="768.7" y="345.1" width="2.0" height="2.0" fill="#ff0000"/>
<rect x="757.9" y="351.4" width="24.8" height="4.8" fill="#00ff00"/>
<rect x="752.0" y="357.1" width="38.7" height="1.9" fill="#4848ff"/>
<line x1="752.0" y1="357.1" x2="790.7" y2="357.1" stroke="#d0d0ff" stroke-width="1"/>
<rect x="869.1" y="246.3" width="20.0" height="8.4" fill="#0000e6"/>
<rect x="868.6" y="246.3" width="4.6" height="24.4" fill="#0000e6"/>
<rect x="932.6" y="246.3" width="4.8" height="24.4" fill="#0000e6"/>
<rect x="868.2" y="245.3" width="69.5" height="25.7" fill="none" stroke="#ffffff" stroke-width="1.3"/>
<line x1="865.3" y1="271.6" x2="941.9" y2="271.6" stroke="#e0e0e0" stroke-width="1.6"/>
<line x1="889.1" y1="247.0" x2="932.6" y2="247.0" stroke="#c0c0c0" stroke-width="1.2"/>
<line x1="889.1" y1="250.1" x2="932.6" y2="250.1" stroke="#d0d0d0" stroke-width="1.4"/>
<line x1="873.1" y1="254.7" x2="873.1" y2="269.9" stroke="#ff0000" stroke-width="1.4"/>
<line x1="894.9" y1="250.5" x2="894.9" y2="264.2" stroke="#ff0000" stroke-width="1.4"/>
<line x1="931.0" y1="250.5" x2="931.0" y2="269.9" stroke="#ff0000" stroke-width="1.4"/>
<line x1="873.9" y1="265.7" x2="885.7" y2="265.7" stroke="#ff0000" stroke-width="1.4"/>
<rect x="873.5" y="259.0" width="12.2" height="9.0" fill="none" stroke="#00e8e8" stroke-width="1.1"/>
<line x1="885.7" y1="265.7" x2="917.7" y2="265.7" stroke="#ffffff" stroke-width="1.6"/>
<path d="M915.8 270.5 L915.8 265.0 L931.0 265.0" fill="none" stroke="#00e8e8" stroke-width="1.2" />
<path d="M883.4 270.5 L887.2 266.7" fill="none" stroke="#00e8e8" stroke-width="1" />
<rect x="876.8" y="254.3" width="1.8" height="1.8" fill="#ff0000"/>
<rect x="888.2" y="259.1" width="1.8" height="1.8" fill="#ff0000"/>
<rect x="920.6" y="262.5" width="1.8" height="1.8" fill="#ff0000"/>
<rect x="926.3" y="257.2" width="1.8" height="1.8" fill="#ff0000"/>
<rect x="955.4" y="250.1" width="40.8" height="4.6" fill="#0000e6"/>
<rect x="955.4" y="250.1" width="6.3" height="19.6" fill="#0000e6"/>
<rect x="990.1" y="250.1" width="6.1" height="19.8" fill="#0000e6"/>
<rect x="954.9" y="249.5" width="41.9" height="20.6" fill="none" stroke="#ffffff" stroke-width="1.3"/>
<line x1="970.1" y1="271.0" x2="997.0" y2="271.0" stroke="#ffffff" stroke-width="1.4"/>
<line x1="962.5" y1="255.4" x2="988.6" y2="255.4" stroke="#ff0000" stroke-width="1.6"/>
<line x1="977.1" y1="255.4" x2="977.1" y2="267.6" stroke="#ff0000" stroke-width="1.6"/>
<line x1="962.9" y1="255.4" x2="962.9" y2="267.6" stroke="#ff0000" stroke-width="1.2"/>
<rect x="963.4" y="259.0" width="8.6" height="7.6" fill="none" stroke="#00e8e8" stroke-width="1"/>
<line x1="978.7" y1="265.7" x2="990.1" y2="265.7" stroke="#00e8e8" stroke-width="1"/>
<rect x="968.2" y="253.8" width="1.8" height="1.8" fill="#ff0000"/>
<rect x="981.6" y="253.8" width="1.8" height="1.8" fill="#ff0000"/>
<rect x="869.1" y="279.0" width="4.4" height="71.0" fill="#0000e6"/>
<rect x="933.0" y="279.0" width="4.4" height="71.0" fill="#0000e6"/>
<rect x="868.2" y="278.7" width="69.5" height="71.8" fill="none" stroke="#ffffff" stroke-width="1.4"/>
<line x1="873.5" y1="279.0" x2="873.5" y2="350.1" stroke="#ffffff" stroke-width="1"/>
<line x1="933.0" y1="279.0" x2="933.0" y2="350.1" stroke="#ffffff" stroke-width="1"/>
<line x1="873.5" y1="326.3" x2="933.0" y2="326.3" stroke="#00e8e8" stroke-width="1.4"/>
<rect x="873.9" y="329.1" width="57.9" height="17.9" fill="none" stroke="#ff0000" stroke-width="2.6"/>
<line x1="885.0" y1="329.1" x2="885.0" y2="347.0" stroke="#ff0000" stroke-width="2.2"/>
<line x1="895.8" y1="329.1" x2="895.8" y2="347.0" stroke="#ff0000" stroke-width="2.2"/>
<line x1="916.8" y1="329.1" x2="916.8" y2="347.0" stroke="#ff0000" stroke-width="2.2"/>
<line x1="886.3" y1="326.3" x2="886.3" y2="347.2" stroke="#00e8e8" stroke-width="1.2"/>
<line x1="917.1" y1="326.3" x2="917.1" y2="347.2" stroke="#00e8e8" stroke-width="1.2"/>
<line x1="883.0" y1="341.9" x2="889.1" y2="331.4" stroke="#ff0000" stroke-width="1.2"/>
<line x1="889.1" y1="343.8" x2="889.1" y2="347.2" stroke="#00e8e8" stroke-width="1.2"/>
<rect x="876.8" y="323.5" width="1.8" height="1.8" fill="#ff0000"/>
<rect x="882.5" y="323.5" width="1.8" height="1.8" fill="#ff0000"/>
<rect x="890.1" y="323.5" width="1.8" height="1.8" fill="#ff0000"/>
<rect x="896.8" y="323.5" width="1.8" height="1.8" fill="#ff0000"/>
<rect x="904.4" y="323.5" width="1.8" height="1.8" fill="#ff0000"/>
<rect x="913.0" y="323.5" width="1.8" height="1.8" fill="#ff0000"/>
<rect x="918.7" y="323.5" width="1.8" height="1.8" fill="#ff0000"/>
<rect x="924.4" y="323.5" width="1.8" height="1.8" fill="#ff0000"/>
<rect x="884.5" y="326.8" width="1.6" height="1.6" fill="#00e8e8"/>
<rect x="895.0" y="326.8" width="1.6" height="1.6" fill="#00e8e8"/>
<rect x="916.0" y="326.8" width="1.6" height="1.6" fill="#00e8e8"/>
<rect x="873.5" y="347.2" width="9.1" height="2.7" fill="#ffffff"/>
<rect x="874.7" y="348.0" width="7.2" height="1.5" fill="#0000e6"/>
<rect x="919.6" y="347.2" width="12.6" height="2.7" fill="#ffffff"/>
<rect x="920.8" y="348.0" width="10.7" height="1.5" fill="#0000e6"/>
<rect x="891.0" y="352.4" width="30.5" height="3.2" fill="#00ff00"/>
<rect x="956.8" y="278.7" width="37.1" height="71.8" fill="none" stroke="#ffffff" stroke-width="1.4"/>
<line x1="961.9" y1="279.0" x2="961.9" y2="350.1" stroke="#d0d0d0" stroke-width="1.4"/>
<line x1="988.6" y1="279.0" x2="988.6" y2="350.1" stroke="#d0d0d0" stroke-width="1.4"/>
<rect x="977.5" y="330.9" width="11.0" height="16.0" fill="none" stroke="#ff0000" stroke-width="2.6"/>
<path d="M973.9 347.2 L973.9 334.3 L977.1 328.6 L988.6 328.6" fill="none" stroke="#00e8e8" stroke-width="1.3" />
<rect x="981.4" y="324.6" width="2.2" height="2.2" fill="#ff0000"/>
<rect x="971.9" y="337.0" width="2.2" height="2.2" fill="#ff0000"/>
<rect x="979.6" y="347.2" width="9.0" height="2.7" fill="#ffffff"/>
<rect x="980.6" y="348.0" width="7.2" height="1.5" fill="#0000e6"/>
<rect x="952.0" y="353.3" width="26.3" height="4.2" fill="#00ff00"/>
<rect x="470.86" y="390.67" width="72.19" height="18.67" rx="3" fill="none" stroke="#00e8e8" stroke-width="1.2"/>
<line x1="471.2" y1="393.3" x2="541.7" y2="393.3" stroke="#ff0000" stroke-width="1.6"/>
<line x1="475.4" y1="393.3" x2="475.4" y2="408.6" stroke="#ff0000" stroke-width="1.5"/>
<line x1="486.5" y1="393.3" x2="486.5" y2="408.6" stroke="#ff0000" stroke-width="1.5"/>
<line x1="508.8" y1="393.3" x2="508.8" y2="408.6" stroke="#ff0000" stroke-width="1.5"/>
<line x1="525.0" y1="393.3" x2="525.0" y2="408.6" stroke="#ff0000" stroke-width="1.5"/>
<line x1="457.9" y1="409.3" x2="537.9" y2="409.3" stroke="#e0e0e0" stroke-width="1.4"/>
<rect x="535.6" y="404.4" width="6.1" height="5.0" fill="none" stroke="#00e8e8" stroke-width="1.1"/>
<rect x="476.9" y="407.2" width="2.0" height="2.0" fill="#ff0000"/>
<rect x="496.9" y="407.2" width="2.0" height="2.0" fill="#ff0000"/>
<rect x="515.0" y="407.2" width="2.0" height="2.0" fill="#ff0000"/>
<rect x="532.1" y="407.2" width="2.0" height="2.0" fill="#ff0000"/>
<rect x="504.5" y="388.1" width="2.0" height="2.0" fill="#ff0000"/>
<rect x="472.1" y="399.6" width="2.0" height="2.0" fill="#ff0000"/>
<rect x="541.7" y="399.6" width="2.0" height="2.0" fill="#ff0000"/>
<rect x="536.9" y="404.9" width="2.0" height="2.0" fill="#ff0000"/>
<path d="M439.2 408.2 L439.2 394.5 L447.4 393.9 L452.2 394.9 L458.9 402.5 L458.9 409.3 L439.2 409.3" fill="none" stroke="#00e8e8" stroke-width="1.2" />
<rect x="444.6" y="394.9" width="3.0" height="13.3" fill="#ff0000"/>
<line x1="451.2" y1="394.9" x2="458.9" y2="402.5" stroke="#ff0000" stroke-width="1.3"/>
<line x1="447.4" y1="408.6" x2="458.3" y2="408.6" stroke="#ff0000" stroke-width="1.2"/>
<rect x="437.5" y="400.0" width="2.0" height="2.0" fill="#ff0000"/>
<rect x="445.5" y="390.0" width="2.0" height="2.0" fill="#ff0000"/>
<rect x="451.2" y="394.8" width="2.0" height="2.0" fill="#ff0000"/>
<path d="M458.9 410.1 L463.6 410.1 L463.6 399.6 L471.2 399.6 L471.2 409.3" fill="none" stroke="#00e8e8" stroke-width="1.2" />
<rect x="464.8" y="399.8" width="5.7" height="6.9" fill="none" stroke="#ff0000" stroke-width="1.6"/>
<rect x="466.1" y="397.4" width="1.8" height="1.8" fill="#ff0000"/>
<rect x="471.9" y="399.7" width="1.8" height="1.8" fill="#ff0000"/>
<rect x="441.71" y="422.10" width="16.19" height="21.52" rx="3" fill="none" stroke="#00e8e8" stroke-width="1.2"/>
<line x1="444.6" y1="427.2" x2="457.1" y2="427.2" stroke="#ff0000" stroke-width="1.5"/>
<line x1="457.1" y1="427.2" x2="457.1" y2="441.7" stroke="#ff0000" stroke-width="1.5"/>
<line x1="442.7" y1="443.0" x2="450.7" y2="443.0" stroke="#ff0000" stroke-width="2.4"/>
<rect x="439.3" y="432.8" width="2.2" height="2.2" fill="#ff0000"/>
<rect x="448.8" y="420.0" width="2.2" height="2.2" fill="#ff0000"/>
<path d="M451.2 441.5 L453.1 444.4 L456.0 444.0 L458.9 446.3" fill="none" stroke="#ffffff" stroke-width="1.2" />
<rect x="443.8" y="425.1" width="1.6" height="1.6" fill="#ffffff"/>
<rect x="524.57" y="423.81" width="18.67" height="22.86" rx="3" fill="none" stroke="#00e8e8" stroke-width="1.2"/>
<line x1="527.6" y1="426.5" x2="527.6" y2="445.5" stroke="#ff0000" stroke-width="1.5"/>
<line x1="527.6" y1="427.2" x2="542.9" y2="427.2" stroke="#ff0000" stroke-width="1.5"/>
<line x1="542.9" y1="427.2" x2="542.9" y2="442.9" stroke="#ff0000" stroke-width="1.5"/>
<line x1="537.0" y1="443.0" x2="542.9" y2="443.0" stroke="#ff0000" stroke-width="2.4"/>
<rect x="533.3" y="421.8" width="2.4" height="2.4" fill="#ff0000"/>
<rect x="521.5" y="432.7" width="2.4" height="2.4" fill="#ff0000"/>
<rect x="528.7" y="437.8" width="2.4" height="2.4" fill="#ff0000"/>
<rect x="533.3" y="444.1" width="2.4" height="2.4" fill="#ff0000"/>
<path d="M528.4 441.5 L531.2 444.4 L535.0 442.1" fill="none" stroke="#ffffff" stroke-width="1.2" />
<path d="M544.0 425.7 L546.5 423.0" fill="none" stroke="#c0c0c0" stroke-width="1.2" />
<rect x="439.81" y="455.43" width="103.43" height="24.38" rx="3" fill="none" stroke="#00e8e8" stroke-width="1.2"/>
<rect x="443.0" y="457.1" width="99.4" height="20.2" fill="none" stroke="#ff0000" stroke-width="2.2"/>
<rect x="443.0" y="475.4" width="99.4" height="2.5" fill="#ff0000"/>
<line x1="445.5" y1="457.1" x2="445.5" y2="477.3" stroke="#ff0000" stroke-width="1.4"/>
<line x1="471.2" y1="457.1" x2="471.2" y2="477.3" stroke="#ff0000" stroke-width="1.4"/>
<line x1="486.5" y1="457.1" x2="486.5" y2="477.3" stroke="#ff0000" stroke-width="1.4"/>
<line x1="509.3" y1="457.1" x2="509.3" y2="477.3" stroke="#ff0000" stroke-width="1.4"/>
<line x1="525.5" y1="457.1" x2="525.5" y2="477.3" stroke="#ff0000" stroke-width="1.4"/>
<line x1="536.4" y1="457.1" x2="536.4" y2="477.3" stroke="#ff0000" stroke-width="1.4"/>
<line x1="538.3" y1="457.1" x2="538.3" y2="477.3" stroke="#ff0000" stroke-width="1.4"/>
<rect x="473.1" y="461.5" width="11.0" height="2.3" fill="#00ff00"/>
<rect x="511.2" y="461.5" width="10.9" height="2.3" fill="#00ff00"/>
<rect x="443.7" y="453.0" width="1.8" height="1.8" fill="#ff0000"/>
<rect x="457.0" y="453.0" width="1.8" height="1.8" fill="#ff0000"/>
<rect x="470.3" y="453.0" width="1.8" height="1.8" fill="#ff0000"/>
<rect x="477.0" y="453.0" width="1.8" height="1.8" fill="#ff0000"/>
<rect x="486.0" y="453.0" width="1.8" height="1.8" fill="#ff0000"/>
<rect x="496.6" y="453.0" width="1.8" height="1.8" fill="#ff0000"/>
<rect x="508.8" y="453.0" width="1.8" height="1.8" fill="#ff0000"/>
<rect x="515.7" y="453.0" width="1.8" height="1.8" fill="#ff0000"/>
<rect x="524.6" y="453.0" width="1.8" height="1.8" fill="#ff0000"/>
<rect x="529.4" y="453.0" width="1.8" height="1.8" fill="#ff0000"/>
<rect x="537.0" y="453.0" width="1.8" height="1.8" fill="#ff0000"/>
<rect x="540.8" y="453.0" width="1.8" height="1.8" fill="#ff0000"/>
<rect x="436.4" y="464.1" width="1.8" height="1.8" fill="#ff0000"/>
<rect x="436.4" y="472.1" width="1.8" height="1.8" fill="#ff0000"/>
<rect x="490.3" y="475.6" width="3.0" height="3.0" fill="#ff0000"/>
<rect x="467.8" y="479.6" width="30.1" height="4.0" fill="#00ff00"/>
<rect x="523.6" y="479.2" width="21.0" height="2.7" fill="#00ff00"/>
<rect x="518.9" y="481.9" width="32.4" height="1.1" fill="#c8c8ff"/>
<line x1="518.9" y1="483.2" x2="551.2" y2="483.2" stroke="#0000e6" stroke-width="1"/>
<path d="M670.7 390.7 L714.5 390.7 L714.5 411.2 L654.5 411.2 L654.5 396.8 L670.7 396.8 Z" fill="none" stroke="#00e8e8" stroke-width="1.2" />
<rect x="675.4" y="393.3" width="37.3" height="14.1" fill="none" stroke="#ff0000" stroke-width="2"/>
<rect x="655.6" y="401.7" width="14.1" height="5.7" fill="none" stroke="#ff0000" stroke-width="1.6"/>
<line x1="670.7" y1="396.8" x2="670.7" y2="407.4" stroke="#ff0000" stroke-width="1.3"/>
<rect x="690.5" y="388.4" width="2.2" height="2.2" fill="#ff0000"/>
<rect x="651.5" y="400.4" width="2.2" height="2.2" fill="#ff0000"/>
<rect x="674.3" y="399.1" width="2.2" height="2.2" fill="#ff0000"/>
<rect x="710.9" y="399.1" width="2.2" height="2.2" fill="#ff0000"/>
<rect x="683.5" y="409.0" width="2.2" height="2.2" fill="#ff0000"/>
<rect x="661.9" y="395.3" width="2.2" height="2.2" fill="#ff0000"/>
<rect x="669.6" y="402.3" width="2.2" height="2.2" fill="#ff0000"/>
<rect x="695.5" y="403.9" width="1.8" height="1.8" fill="#ffffff"/>
<rect x="667.4" y="405.5" width="1.5" height="1.5" fill="#ffffff"/>
<line x1="730.7" y1="396.4" x2="730.7" y2="410.1" stroke="#00e8e8" stroke-width="1.3"/>
<line x1="729.7" y1="410.1" x2="745.9" y2="410.1" stroke="#00e8e8" stroke-width="1.3"/>
<line x1="731.6" y1="396.4" x2="745.5" y2="396.4" stroke="#ff0000" stroke-width="1.6"/>
<line x1="745.5" y1="396.4" x2="745.5" y2="409.3" stroke="#ff0000" stroke-width="1.6"/>
<line x1="731.8" y1="409.1" x2="745.5" y2="409.1" stroke="#ff0000" stroke-width="1.2"/>
<path d="M740.6 404.0 L742.5 407.2" fill="none" stroke="#ffffff" stroke-width="1.2" />
<rect x="728.3" y="399.8" width="1.6" height="1.6" fill="#ff0000"/>
<rect x="737.5" y="404.0" width="1.6" height="1.6" fill="#ff0000"/>
<rect x="655.4" y="422.7" width="15.0" height="20.8" fill="none" stroke="#ff0000" stroke-width="1.6"/>
<line x1="655.4" y1="427.2" x2="670.5" y2="427.2" stroke="#ff0000" stroke-width="1.2"/>
<line x1="655.4" y1="433.0" x2="670.5" y2="433.0" stroke="#ff0000" stroke-width="1.2"/>
<line x1="670.9" y1="421.9" x2="670.9" y2="443.4" stroke="#00e8e8" stroke-width="1.1"/>
<line x1="654.5" y1="421.9" x2="670.9" y2="421.9" stroke="#00e8e8" stroke-width="1"/>
<rect x="661.0" y="420.0" width="2.2" height="2.2" fill="#ff0000"/>
<rect x="661.0" y="429.9" width="2.2" height="2.2" fill="#ff0000"/>
<rect x="659.1" y="439.5" width="2.2" height="2.2" fill="#ff0000"/>
<rect x="656.2" y="443.3" width="2.2" height="2.2" fill="#ff0000"/>
<line x1="727.8" y1="417.7" x2="727.8" y2="437.9" stroke="#00e8e8" stroke-width="1.3"/>
<rect x="732.6" y="417.7" width="8.0" height="19.0" fill="none" stroke="#ff0000" stroke-width="1.6"/>
<line x1="727.8" y1="417.7" x2="740.6" y2="417.7" stroke="#00e8e8" stroke-width="1"/>
<line x1="727.8" y1="437.9" x2="740.6" y2="437.9" stroke="#00e8e8" stroke-width="1"/>
<rect x="724.1" y="433.0" width="1.8" height="1.8" fill="#ff0000"/>
<rect x="724.1" y="426.3" width="1.8" height="1.8" fill="#ff0000"/>
<rect x="733.6" y="415.3" width="1.8" height="1.8" fill="#ff0000"/>
<rect x="739.7" y="421.0" width="1.8" height="1.8" fill="#ff0000"/>
<path d="M741.1 423.0 L744.0 420.0 L745.1 417.3" fill="none" stroke="#ffffff" stroke-width="1" />
<path d="M654.1 471.0 L654.1 450.1 L715.0 450.1" fill="none" stroke="#00e8e8" stroke-width="1.3" />
<line x1="715.0" y1="450.1" x2="715.0" y2="453.0" stroke="#00e8e8" stroke-width="1.2"/>
<rect x="655.6" y="453.0" width="58.7" height="16.2" fill="none" stroke="#ff0000" stroke-width="2.4"/>
<line x1="668.2" y1="453.0" x2="668.2" y2="469.1" stroke="#ff0000" stroke-width="2.4"/>
<line x1="678.3" y1="453.0" x2="678.3" y2="469.1" stroke="#ff0000" stroke-width="1.4"/>
<line x1="698.7" y1="453.0" x2="698.7" y2="469.1" stroke="#ff0000" stroke-width="1.4"/>
<rect x="660.1" y="447.6" width="2.0" height="2.0" fill="#ff0000"/>
<rect x="667.8" y="447.6" width="2.0" height="2.0" fill="#ff0000"/>
<rect x="672.1" y="447.6" width="2.0" height="2.0" fill="#ff0000"/>
<rect x="677.3" y="447.6" width="2.0" height="2.0" fill="#ff0000"/>
<rect x="686.8" y="447.6" width="2.0" height="2.0" fill="#ff0000"/>
<rect x="694.4" y="446.2" width="2.0" height="2.0" fill="#ff0000"/>
<rect x="704.9" y="447.6" width="2.0" height="2.0" fill="#ff0000"/>
<rect x="651.2" y="460.1" width="2.0" height="2.0" fill="#ff0000"/>
<rect x="659.2" y="469.1" width="2.0" height="2.0" fill="#ff0000"/>
<rect x="691.6" y="470.0" width="2.0" height="2.0" fill="#ff0000"/>
<rect x="726.48" y="451.05" width="21.33" height="21.90" rx="4" fill="none" stroke="#00e8e8" stroke-width="1.3"/>
<rect x="730.7" y="453.1" width="13.7" height="16.8" fill="none" stroke="#ff0000" stroke-width="2.4"/>
<rect x="729.7" y="448.1" width="2.0" height="2.0" fill="#ff0000"/>
<rect x="735.4" y="448.1" width="2.0" height="2.0" fill="#ff0000"/>
<rect x="744.0" y="448.1" width="2.0" height="2.0" fill="#ff0000"/>
<rect x="744.9" y="459.6" width="2.0" height="2.0" fill="#ff0000"/>
<rect x="725.9" y="462.4" width="2.0" height="2.0" fill="#ff0000"/>
<rect x="735.4" y="471.0" width="2.0" height="2.0" fill="#ff0000"/>
<rect x="665.0" y="477.1" width="29.9" height="4.4" fill="#00ff00"/>
<rect x="716.4" y="480.0" width="19.0" height="4.0" fill="#00ff00"/>
<rect x="483.0" y="534.4" width="73.0" height="18.5" fill="none" stroke="#00e8e8" stroke-width="1.2"/>
<line x1="483.0" y1="534.8" x2="556.0" y2="534.8" stroke="#00e8e8" stroke-width="2"/>
<line x1="483.6" y1="536.9" x2="556.0" y2="536.9" stroke="#ff0000" stroke-width="1.6"/>
<line x1="499.8" y1="536.9" x2="499.8" y2="552.9" stroke="#ff0000" stroke-width="1.6"/>
<line x1="521.7" y1="536.9" x2="521.7" y2="552.9" stroke="#ff0000" stroke-width="1.6"/>
<line x1="538.9" y1="536.9" x2="538.9" y2="552.9" stroke="#ff0000" stroke-width="1.6"/>
<line x1="556.0" y1="536.9" x2="556.0" y2="552.9" stroke="#ff0000" stroke-width="1.6"/>
<line x1="489.3" y1="536.9" x2="489.3" y2="552.9" stroke="#00e8e8" stroke-width="1.4"/>
<line x1="487.4" y1="537.6" x2="487.4" y2="551.9" stroke="#ff0000" stroke-width="1.2"/>
<line x1="470.3" y1="553.0" x2="549.3" y2="553.0" stroke="#d8d8d8" stroke-width="1.6"/>
<rect x="491.1" y="550.8" width="2.2" height="2.2" fill="#ff0000"/>
<rect x="509.2" y="550.8" width="2.2" height="2.2" fill="#ff0000"/>
<rect x="528.2" y="550.8" width="2.2" height="2.2" fill="#ff0000"/>
<rect x="518.0" y="532.0" width="1.8" height="1.8" fill="#ff0000"/>
<rect x="439.2" y="538.6" width="17.7" height="42.9" fill="none" stroke="#00e8e8" stroke-width="1.2"/>
<rect x="441.7" y="539.1" width="14.3" height="35.8" fill="none" stroke="#ff0000" stroke-width="1.1"/>
<line x1="441.7" y1="575.0" x2="456.0" y2="575.0" stroke="#ff0000" stroke-width="1.6"/>
<rect x="457.0" y="536.7" width="3.2" height="60.0" fill="none" stroke="#00e8e8" stroke-width="1.2"/>
<line x1="458.3" y1="537.6" x2="458.3" y2="552.9" stroke="#ffffff" stroke-width="1"/>
<rect x="447.5" y="536.7" width="1.8" height="1.8" fill="#ff0000"/>
<rect x="459.9" y="533.9" width="1.8" height="1.8" fill="#ff0000"/>
<rect x="436.4" y="558.6" width="1.8" height="1.8" fill="#ff0000"/>
<rect x="456.1" y="565.3" width="1.8" height="1.8" fill="#ff0000"/>
<rect x="450.9" y="544.3" width="1.8" height="1.8" fill="#ff0000"/>
<rect x="454.1" y="554.8" width="1.8" height="1.8" fill="#ffffff"/>
<path d="M460.2 536.7 L466.5 536.7 L467.4 544.3 L473.1 545.2 L473.1 553.2" fill="none" stroke="#c0c0c0" stroke-width="1" />
<rect x="462.9" y="539.1" width="9.9" height="13.7" fill="none" stroke="#ff0000" stroke-width="1.2"/>
<rect x="477.0" y="541.4" width="6.7" height="9.5" fill="#ff0000" fill-opacity="0.85"/>
<rect x="477.0" y="541.4" width="6.7" height="9.5" fill="none" stroke="#d04040" stroke-width="1"/>
<path d="M470.3 553.2 L470.3 554.4 L478.9 554.4 L478.9 551.9" fill="none" stroke="#c0c0c0" stroke-width="1" />
<rect x="444.6" y="581.4" width="27.6" height="17.1" fill="none" stroke="#ff0000" stroke-width="1.3"/>
<line x1="447.4" y1="581.4" x2="447.4" y2="598.6" stroke="#ff0000" stroke-width="1.2"/>
<line x1="455.0" y1="582.4" x2="455.0" y2="596.7" stroke="#ff0000" stroke-width="1.8"/>
<line x1="457.9" y1="583.3" x2="457.9" y2="596.7" stroke="#ff0000" stroke-width="1.8"/>
<rect x="460.2" y="586.2" width="11.0" height="10.5" fill="none" stroke="#ff0000" stroke-width="1.2"/>
<path d="M448.4 597.6 L448.4 585.2 L455.0 583.3" fill="none" stroke="#00e8e8" stroke-width="1.2" />
<line x1="444.6" y1="599.0" x2="456.0" y2="599.0" stroke="#00e8e8" stroke-width="1.2"/>
<line x1="458.9" y1="585.2" x2="458.9" y2="596.7" stroke="#00e8e8" stroke-width="1.2"/>
<rect x="448.3" y="589.0" width="2.0" height="2.0" fill="#ff0000"/>
<rect x="456.9" y="583.3" width="2.0" height="2.0" fill="#ff0000"/>
<rect x="452.1" y="599.1" width="2.0" height="2.0" fill="#ff0000"/>
<rect x="465.5" y="590.0" width="2.0" height="2.0" fill="#ff0000"/>
<rect x="549.3" y="547.1" width="17.1" height="18.1" fill="none" stroke="#00e8e8" stroke-width="1.2"/>
<rect x="550.5" y="549.2" width="14.1" height="15.0" fill="none" stroke="#ff0000" stroke-width="1.8"/>
<rect x="550.7" y="545.3" width="3.0" height="3.0" fill="#ff0000"/>
<rect x="556.0" y="559.5" width="2.0" height="2.0" fill="#ff0000"/>
<rect x="546.4" y="562.3" width="2.0" height="2.0" fill="#ff0000"/>
<rect x="558.8" y="544.6" width="2.0" height="2.0" fill="#ff0000"/>
<rect x="564.1" y="554.7" width="2.0" height="2.0" fill="#ff0000"/>
<rect x="478.3" y="609.6" width="30.7" height="4.6" fill="#00ff00"/>
<rect x="537.0" y="611.9" width="30.5" height="4.2" fill="#00ff00"/>
<rect x="532.2" y="616.1" width="35.2" height="1.1" fill="#e8e8ff"/>
<line x1="532.2" y1="617.4" x2="567.4" y2="617.4" stroke="#0000e6" stroke-width="1"/>
<line x1="447.4" y1="655.0" x2="570.7" y2="655.0" stroke="#00e8e8" stroke-width="1"/>
<line x1="447.4" y1="662.2" x2="570.7" y2="662.2" stroke="#00e8e8" stroke-width="1"/>
<line x1="447.4" y1="654.6" x2="447.4" y2="671.7" stroke="#00e8e8" stroke-width="1"/>
<line x1="570.7" y1="654.6" x2="570.7" y2="671.7" stroke="#00e8e8" stroke-width="1"/>
<line x1="473.1" y1="657.4" x2="473.1" y2="671.7" stroke="#00e8e8" stroke-width="1"/>
<line x1="479.8" y1="657.4" x2="479.8" y2="671.7" stroke="#00e8e8" stroke-width="1"/>
<line x1="489.3" y1="657.4" x2="489.3" y2="671.7" stroke="#00e8e8" stroke-width="1"/>
<line x1="562.7" y1="657.4" x2="562.7" y2="671.7" stroke="#00e8e8" stroke-width="1"/>
<line x1="480.8" y1="655.0" x2="480.8" y2="662.2" stroke="#00e8e8" stroke-width="1"/>
<line x1="470.3" y1="658.4" x2="473.1" y2="662.2" stroke="#c0c0c0" stroke-width="1"/>
<line x1="516.6" y1="666.6" x2="562.7" y2="666.6" stroke="#00e8e8" stroke-width="1"/>
<line x1="516.6" y1="666.6" x2="516.6" y2="670.2" stroke="#00e8e8" stroke-width="1"/>
<line x1="436.0" y1="671.1" x2="436.0" y2="729.8" stroke="#00e8e8" stroke-width="1"/>
<line x1="438.9" y1="671.1" x2="438.9" y2="729.8" stroke="#00e8e8" stroke-width="1"/>
<line x1="441.7" y1="671.1" x2="441.7" y2="729.8" stroke="#00e8e8" stroke-width="1"/>
<line x1="436.0" y1="671.1" x2="447.4" y2="671.1" stroke="#00e8e8" stroke-width="1"/>
<line x1="436.0" y1="729.8" x2="451.2" y2="729.8" stroke="#00e8e8" stroke-width="1"/>
<line x1="438.9" y1="714.0" x2="447.4" y2="714.0" stroke="#00e8e8" stroke-width="1"/>
<line x1="575.6" y1="670.2" x2="575.6" y2="697.4" stroke="#00e8e8" stroke-width="1"/>
<line x1="582.9" y1="670.2" x2="582.9" y2="697.4" stroke="#00e8e8" stroke-width="1"/>
<line x1="569.9" y1="670.2" x2="582.9" y2="670.2" stroke="#00e8e8" stroke-width="1"/>
<line x1="569.9" y1="697.4" x2="582.9" y2="697.4" stroke="#00e8e8" stroke-width="1"/>
<line x1="569.9" y1="681.2" x2="575.6" y2="681.2" stroke="#00e8e8" stroke-width="1"/>
<path d="M447.4 671.1 L467.4 671.1 L467.4 675.9 L473.1 675.9 L473.1 685.0 L489.3 685.0 L489.3 677.4 L494.1 677.4 L494.1 671.1 L561.7 671.1 L561.7 681.2 L569.9 681.2 L569.9 698.0 L555.0 698.0 L555.0 686.6 L462.7 686.6 L462.7 701.2 L462.7 719.3 L478.5 719.3 L478.5 737.4 L451.8 737.4 L451.8 729.8 L447.4 729.8 Z" fill="none" stroke="#00e8e8" stroke-width="1.3" />
<line x1="494.1" y1="670.2" x2="561.7" y2="670.2" stroke="#00e8e8" stroke-width="1.5"/>
<line x1="477.0" y1="662.2" x2="477.0" y2="683.1" stroke="#00e8e8" stroke-width="1"/>
<line x1="483.6" y1="662.2" x2="483.6" y2="683.1" stroke="#00e8e8" stroke-width="1"/>
<line x1="473.1" y1="675.9" x2="483.6" y2="675.9" stroke="#00e8e8" stroke-width="1"/>
<line x1="462.7" y1="686.0" x2="547.4" y2="686.0" stroke="#e8e800" stroke-width="1.5"/>
<line x1="462.7" y1="686.6" x2="462.7" y2="719.3" stroke="#a0e060" stroke-width="1.2"/>
<line x1="556.0" y1="686.6" x2="556.0" y2="697.4" stroke="#e8e800" stroke-width="1.4"/>
<line x1="465.5" y1="718.4" x2="477.0" y2="718.4" stroke="#c0a040" stroke-width="1.4"/>
<path d="M447.4 671.1 L462.7 686.6" fill="none" stroke="#d0d0d0" stroke-width="1" />
<path d="M451.8 729.8 L462.7 719.3" fill="none" stroke="#d0d0d0" stroke-width="1" />
<line x1="447.4" y1="686.6" x2="447.4" y2="713.6" stroke="#ffffff" stroke-width="1.6"/>
<line x1="538.9" y1="671.1" x2="538.9" y2="686.6" stroke="#00e8e8" stroke-width="1"/>
<path d="M547.4 686.6 L555.0 686.6 L561.7 681.2" fill="none" stroke="#00e8e8" stroke-width="1" />
<line x1="469.3" y1="692.7" x2="547.4" y2="692.7" stroke="#00e8e8" stroke-width="1.2"/>
<line x1="547.4" y1="686.6" x2="547.4" y2="698.0" stroke="#00e8e8" stroke-width="1"/>
<line x1="469.3" y1="686.6" x2="469.3" y2="692.7" stroke="#00e8e8" stroke-width="1"/>
<line x1="554.1" y1="704.1" x2="570.3" y2="704.1" stroke="#00e8e8" stroke-width="1"/>
<line x1="554.1" y1="701.2" x2="554.1" y2="704.5" stroke="#00e8e8" stroke-width="1"/>
<line x1="570.3" y1="698.0" x2="570.3" y2="704.5" stroke="#00e8e8" stroke-width="1"/>
<line x1="482.7" y1="717.4" x2="482.7" y2="729.8" stroke="#00e8e8" stroke-width="1"/>
<line x1="478.5" y1="729.8" x2="482.7" y2="729.8" stroke="#00e8e8" stroke-width="1"/>
<line x1="478.5" y1="717.4" x2="482.7" y2="717.4" stroke="#00e8e8" stroke-width="1"/>
<rect x="507.81" y="673.24" width="18.67" height="9.90" rx="4" fill="none" stroke="#b0b0b0" stroke-width="1.4"/>
<rect x="511.2" y="677.0" width="9.1" height="1.9" fill="#20c040"/>
<rect x="451.2" y="687.3" width="10.5" height="19.6" fill="none" stroke="#00ff00" stroke-width="1.5"/>
<rect x="452.6" y="688.9" width="7.6" height="8.0" fill="none" stroke="#00e8e8" stroke-width="1.3"/>
<rect x="452.6" y="698.0" width="7.6" height="7.0" fill="none" stroke="#00e8e8" stroke-width="1.3"/>
<rect x="454.9" y="691.6" width="2.2" height="2.2" fill="#e000e0"/>
<rect x="454.9" y="700.3" width="2.2" height="2.2" fill="#e000e0"/>
<rect x="450.3" y="687.0" width="1.9" height="20.0" fill="#80e040" fill-opacity="0.7"/>
<rect x="481.4" y="652.1" width="1.8" height="1.8" fill="#ff0000"/>
<rect x="469.0" y="656.5" width="1.8" height="1.8" fill="#ff0000"/>
<rect x="458.5" y="660.0" width="1.8" height="1.8" fill="#ff0000"/>
<rect x="486.0" y="660.0" width="1.8" height="1.8" fill="#ff0000"/>
<rect x="524.2" y="660.0" width="1.8" height="1.8" fill="#ff0000"/>
<rect x="564.6" y="660.0" width="1.8" height="1.8" fill="#ff0000"/>
<rect x="538.0" y="665.1" width="1.8" height="1.8" fill="#ff0000"/>
<rect x="464.2" y="671.8" width="1.8" height="1.8" fill="#ff0000"/>
<rect x="492.2" y="672.7" width="1.8" height="1.8" fill="#ff0000"/>
<rect x="456.1" y="676.9" width="1.8" height="1.8" fill="#ff0000"/>
<rect x="472.2" y="679.4" width="1.8" height="1.8" fill="#ff0000"/>
<rect x="486.5" y="679.4" width="1.8" height="1.8" fill="#ff0000"/>
<rect x="536.1" y="676.9" width="1.8" height="1.8" fill="#ff0000"/>
<rect x="564.6" y="675.6" width="1.8" height="1.8" fill="#ff0000"/>
<rect x="573.6" y="674.2" width="1.8" height="1.8" fill="#ff0000"/>
<rect x="573.6" y="688.0" width="1.8" height="1.8" fill="#ff0000"/>
<rect x="440.2" y="690.8" width="1.8" height="1.8" fill="#ff0000"/>
<rect x="436.1" y="699.4" width="1.8" height="1.8" fill="#ff0000"/>
<rect x="440.2" y="720.3" width="1.8" height="1.8" fill="#ff0000"/>
<rect x="507.9" y="689.9" width="1.8" height="1.8" fill="#ff0000"/>
<rect x="545.6" y="690.8" width="1.8" height="1.8" fill="#ff0000"/>
<rect x="560.8" y="701.7" width="1.8" height="1.8" fill="#ff0000"/>
<rect x="479.9" y="722.2" width="1.8" height="1.8" fill="#ff0000"/>
<rect x="535.1" y="729.9" width="1.8" height="1.8" fill="#ff0000"/>
<rect x="447.5" y="717.5" width="1.8" height="1.8" fill="#ff0000"/>
<rect x="466.5" y="700.9" width="1.8" height="1.8" fill="#ff0000"/>
<rect x="507.5" y="652.3" width="2.6" height="2.6" fill="#ff0000"/>
<rect x="579.8" y="682.0" width="3.0" height="3.0" fill="#ff0000"/>
<rect x="462.2" y="735.1" width="2.8" height="2.8" fill="#ff0000"/>
<rect x="473.1" y="704.5" width="9.9" height="3.4" fill="#00ff00"/>
<rect x="512.6" y="701.8" width="17.3" height="3.0" fill="#00ff00"/>
<rect x="460.8" y="729.8" width="4.4" height="1.9" fill="#00ff00"/>
<line x1="499.2" y1="732.7" x2="575.0" y2="732.7" stroke="#00e8e8" stroke-width="1.2"/>
<line x1="499.2" y1="732.7" x2="499.2" y2="741.2" stroke="#00e8e8" stroke-width="1"/>
<line x1="575.0" y1="732.7" x2="575.0" y2="741.2" stroke="#00e8e8" stroke-width="1"/>
<rect x="499.2" y="741.2" width="76.4" height="6.7" fill="none" stroke="#ffffff" stroke-width="1.4"/>
<rect x="500.4" y="744.1" width="70.3" height="3.2" fill="#0000e6"/>
<line x1="499.2" y1="742.6" x2="575.0" y2="742.6" stroke="#ffffff" stroke-width="1"/>
<rect x="495.0" y="736.5" width="4.2" height="5.3" fill="none" stroke="#00e8e8" stroke-width="1"/>
<rect x="495.0" y="743.1" width="4.2" height="4.0" fill="none" stroke="#00e8e8" stroke-width="1"/>
<rect x="575.6" y="741.2" width="3.8" height="5.9" fill="none" stroke="#00e8e8" stroke-width="1"/>
<rect x="499.2" y="748.5" width="3.4" height="1.7" fill="#00ff00"/>
<rect x="569.9" y="748.9" width="7.0" height="2.1" fill="#00ff00"/>
<rect x="492.3" y="738.0" width="1.6" height="1.6" fill="#ff0000"/>
<rect x="576.7" y="743.7" width="1.6" height="1.6" fill="#ff0000"/>
<rect x="481.3" y="759.3" width="30.3" height="3.2" fill="#00ff00"/>
<rect x="550.9" y="758.4" width="24.2" height="4.2" fill="#00ff00"/>
<rect x="544.0" y="764.3" width="39.6" height="1.1" fill="#c0c0c0"/>
<rect x="1031.2" y="426.1" width="26.7" height="7.6" fill="#3e1700" fill-opacity="0.85"/>
<rect x="1068.4" y="426.1" width="65.1" height="7.6" fill="#3e1700" fill-opacity="0.85"/>
<path d="M1029.9 420.4 L1054.1 420.4 L1054.1 427.0 L1058.9 427.0 L1058.9 435.6 L1029.9 435.6 Z" fill="none" stroke="#00e8e8" stroke-width="1.2" />
<line x1="1034.1" y1="420.4" x2="1034.1" y2="435.6" stroke="#00e8e8" stroke-width="1"/>
<path d="M1064.6 435.6 L1064.6 427.0 L1072.2 427.0 L1072.2 420.0 L1142.7 420.0 L1142.7 435.6 Z" fill="none" stroke="#00e8e8" stroke-width="1.2" />
<line x1="1089.3" y1="420.0" x2="1089.3" y2="435.6" stroke="#00e8e8" stroke-width="1.2"/>
<line x1="1112.2" y1="420.0" x2="1112.2" y2="435.6" stroke="#00e8e8" stroke-width="1.2"/>
<line x1="1135.0" y1="420.0" x2="1135.0" y2="435.6" stroke="#00e8e8" stroke-width="1.2"/>
<rect x="1053.1" y="423.2" width="6.7" height="2.9" fill="#ffffff" fill-opacity="0.9"/>
<rect x="1064.6" y="424.2" width="6.7" height="2.9" fill="#ffffff" fill-opacity="0.9"/>
<line x1="1084.0" y1="422.3" x2="1084.0" y2="433.7" stroke="#d0d0d0" stroke-width="1"/>
<rect x="1033.1" y="417.1" width="2.0" height="2.0" fill="#ff0000"/>
<rect x="1041.7" y="417.1" width="2.0" height="2.0" fill="#ff0000"/>
<rect x="1052.1" y="417.1" width="2.0" height="2.0" fill="#ff0000"/>
<rect x="1071.2" y="417.1" width="2.0" height="2.0" fill="#ff0000"/>
<rect x="1079.8" y="417.1" width="2.0" height="2.0" fill="#ff0000"/>
<rect x="1084.5" y="417.1" width="2.0" height="2.0" fill="#ff0000"/>
<rect x="1096.0" y="417.1" width="2.0" height="2.0" fill="#ff0000"/>
<rect x="1107.4" y="417.1" width="2.0" height="2.0" fill="#ff0000"/>
<rect x="1118.8" y="417.1" width="2.0" height="2.0" fill="#ff0000"/>
<rect x="1126.4" y="417.1" width="2.0" height="2.0" fill="#ff0000"/>
<rect x="1135.0" y="417.1" width="2.0" height="2.0" fill="#ff0000"/>
<rect x="1141.7" y="417.1" width="2.0" height="2.0" fill="#ff0000"/>
<rect x="1033.1" y="435.0" width="2.0" height="2.0" fill="#ff0000"/>
<rect x="1057.9" y="435.8" width="2.0" height="2.0" fill="#ff0000"/>
<rect x="1066.4" y="435.0" width="2.0" height="2.0" fill="#ff0000"/>
<rect x="1082.6" y="435.0" width="2.0" height="2.0" fill="#ff0000"/>
<rect x="1096.0" y="433.7" width="2.0" height="2.0" fill="#ff0000"/>
<rect x="1111.2" y="435.0" width="2.0" height="2.0" fill="#ff0000"/>
<rect x="1126.4" y="433.7" width="2.0" height="2.0" fill="#ff0000"/>
<rect x="1141.7" y="435.8" width="2.0" height="2.0" fill="#ff0000"/>
<rect x="1027.0" y="426.0" width="2.0" height="2.0" fill="#ff0000"/>
<rect x="1057.9" y="423.2" width="2.0" height="2.0" fill="#ff0000"/>
<rect x="1063.6" y="427.4" width="2.0" height="2.0" fill="#ff0000"/>
<rect x="1032.2" y="445.1" width="26.7" height="30.5" fill="none" stroke="#00e8e8" stroke-width="1.2"/>
<rect x="1033.1" y="449.3" width="25.3" height="2.9" fill="#b040c0"/>
<rect x="1034.1" y="452.2" width="24.4" height="21.0" fill="#0000e6"/>
<path d="M1036.95 470.29 L1036.95 458.86 Q1036.95 455.05 1040.76 455.05 Q1044.57 455.05 1044.57 458.86 L1044.57 470.29 Z" fill="none" stroke="#c8c8d0" stroke-width="1" />
<path d="M1048.38 470.29 L1048.38 458.86 Q1048.38 455.05 1052.19 455.05 Q1056.00 455.05 1056.00 458.86 L1056.00 470.29 Z" fill="none" stroke="#c8c8d0" stroke-width="1" />
<rect x="1065.5" y="445.1" width="19.0" height="30.5" fill="none" stroke="#00e8e8" stroke-width="1.2"/>
<rect x="1066.1" y="449.3" width="18.5" height="2.9" fill="#b040c0"/>
<rect x="1066.9" y="452.2" width="17.7" height="21.0" fill="#8a6a10"/>
<rect x="1068.8" y="453.7" width="14.7" height="7.3" fill="#000"/>
<rect x="1068.8" y="465.2" width="14.7" height="6.1" fill="#000"/>
<rect x="1073.0" y="453.3" width="4.4" height="1.5" fill="#1030d0"/>
<rect x="1083.6" y="440.4" width="29.0" height="22.9" fill="none" stroke="#00e8e8" stroke-width="1.2"/>
<rect x="1084.6" y="442.3" width="27.6" height="2.9" fill="#b040c0"/>
<rect x="1085.1" y="445.1" width="26.7" height="17.5" fill="#0000e6"/>
<path d="M1089.33 460.38 L1089.33 451.90 Q1089.33 448.57 1092.67 448.57 Q1096.00 448.57 1096.00 451.90 L1096.00 460.38 Z" fill="none" stroke="#c8c8d0" stroke-width="1" />
<path d="M1101.14 460.38 L1101.14 452.19 Q1101.14 448.57 1104.76 448.57 Q1108.38 448.57 1108.38 452.19 L1108.38 460.38 Z" fill="none" stroke="#c8c8d0" stroke-width="1" />
<rect x="1088.6" y="451.2" width="2.5" height="2.5" fill="#ffffff"/>
<rect x="1098.1" y="457.5" width="1.9" height="5.1" fill="#8a8d92"/>
<rect x="1112.6" y="445.1" width="30.1" height="30.5" fill="none" stroke="#00e8e8" stroke-width="1.2"/>
<rect x="1112.6" y="449.3" width="30.1" height="2.9" fill="#b040c0"/>
<rect x="1112.6" y="452.2" width="16.8" height="21.0" fill="#8a6a10"/>
<rect x="1114.5" y="453.7" width="13.7" height="7.3" fill="#000"/>
<rect x="1114.5" y="465.2" width="13.7" height="6.1" fill="#000"/>
<rect x="1118.7" y="453.3" width="4.4" height="1.5" fill="#1030d0"/>
<rect x="1130.3" y="452.2" width="12.0" height="20.0" fill="#0000e6"/>
<path d="M1133.14 469.90 L1133.14 457.90 Q1133.14 455.05 1136.00 455.05 Q1138.86 455.05 1138.86 457.90 L1138.86 469.90 Z" fill="none" stroke="#c8c8d0" stroke-width="1" />
<line x1="1032.2" y1="475.6" x2="1142.7" y2="475.6" stroke="#00e8e8" stroke-width="1.2"/>
<line x1="1085.5" y1="463.2" x2="1085.5" y2="475.6" stroke="#00e8e8" stroke-width="1"/>
<line x1="1111.4" y1="463.2" x2="1111.4" y2="475.6" stroke="#00e8e8" stroke-width="1"/>
<rect x="1093.5" y="466.5" width="10.7" height="2.3" fill="#00ff00"/>
<rect x="1072.2" y="477.1" width="11.0" height="2.3" fill="#00ff00"/>
<rect x="1117.9" y="477.1" width="11.4" height="2.3" fill="#00ff00"/>
<rect x="1039.4" y="477.5" width="4.2" height="1.9" fill="#00ff00"/>
<rect x="1134.7" y="477.1" width="4.2" height="2.3" fill="#00ff00"/>
<line x1="1039.4" y1="468.4" x2="1039.4" y2="477.5" stroke="#ff0000" stroke-width="1.2"/>
<line x1="1070.3" y1="468.4" x2="1070.3" y2="477.5" stroke="#ff0000" stroke-width="1.2"/>
<line x1="1087.4" y1="468.4" x2="1087.4" y2="477.5" stroke="#ff0000" stroke-width="1.2"/>
<line x1="1117.9" y1="468.4" x2="1117.9" y2="477.5" stroke="#ff0000" stroke-width="1.2"/>
<line x1="1136.0" y1="468.4" x2="1136.0" y2="477.5" stroke="#ff0000" stroke-width="1.2"/>
<rect x="1043.4" y="443.0" width="2.4" height="2.4" fill="#ff0000"/>
<rect x="1072.9" y="443.0" width="2.4" height="2.4" fill="#ff0000"/>
<rect x="1096.7" y="437.8" width="2.4" height="2.4" fill="#ff0000"/>
<rect x="1126.2" y="443.0" width="2.4" height="2.4" fill="#ff0000"/>
<rect x="1027.6" y="449.3" width="2.4" height="2.4" fill="#ff0000"/>
<rect x="1027.6" y="460.7" width="2.4" height="2.4" fill="#ff0000"/>
<rect x="1096.7" y="473.5" width="2.4" height="2.4" fill="#ff0000"/>
<rect x="1057.7" y="473.5" width="2.4" height="2.4" fill="#ff0000"/>
<rect x="1038.3" y="487.0" width="13.3" height="30.5" fill="none" stroke="#00e8e8" stroke-width="1.2"/>
<rect x="1041.0" y="489.3" width="10.3" height="23.4" fill="none" stroke="#ffffff" stroke-width="2"/>
<rect x="1041.0" y="489.3" width="10.3" height="4.6" fill="#ffffff"/>
<line x1="1041.0" y1="500.8" x2="1051.2" y2="500.8" stroke="#ffffff" stroke-width="1.6"/>
<rect x="1035.4" y="489.9" width="2.0" height="2.0" fill="#ff0000"/>
<rect x="1035.4" y="501.3" width="2.0" height="2.0" fill="#ff0000"/>
<rect x="1044.9" y="495.6" width="2.0" height="2.0" fill="#ff0000"/>
<rect x="1044.9" y="513.7" width="2.0" height="2.0" fill="#ff0000"/>
<path d="M1065.0 484.8 L1068.0 487.0 L1069.3 491.8 L1072.2 491.8 L1073.1 497.5 L1079.8 496.6 L1076.0 498.5 L1076.0 502.3 L1070.7 502.3 L1070.3 497.5 L1064.2 495.6 L1066.1 491.8" fill="none" stroke="#ffffff" stroke-width="1.4" />
<rect x="1069.3" y="490.9" width="6.7" height="11.4" fill="none" stroke="#00e8e8" stroke-width="1"/>
<rect x="1089.3" y="480.4" width="17.5" height="34.3" fill="none" stroke="#00e8e8" stroke-width="1.2"/>
<rect x="1094.3" y="482.7" width="11.6" height="30.1" fill="none" stroke="#ffffff" stroke-width="2.4"/>
<rect x="1094.3" y="481.9" width="11.6" height="3.6" fill="#ffffff"/>
<rect x="1087.2" y="496.9" width="2.4" height="2.4" fill="#ff0000"/>
<rect x="1096.7" y="480.1" width="2.4" height="2.4" fill="#ff0000"/>
<rect x="1097.7" y="512.1" width="2.4" height="2.4" fill="#ff0000"/>
<rect x="1115.0" y="488.0" width="12.4" height="29.5" fill="none" stroke="#00e8e8" stroke-width="1.2"/>
<rect x="1117.1" y="489.3" width="10.3" height="23.4" fill="none" stroke="#ffffff" stroke-width="2"/>
<rect x="1117.1" y="489.3" width="10.3" height="3.8" fill="#ffffff"/>
<line x1="1117.1" y1="500.8" x2="1127.4" y2="500.8" stroke="#ffffff" stroke-width="1.6"/>
<rect x="1111.6" y="489.9" width="2.0" height="2.0" fill="#ff0000"/>
<rect x="1111.6" y="496.5" width="2.0" height="2.0" fill="#ff0000"/>
<rect x="1111.6" y="506.0" width="2.0" height="2.0" fill="#ff0000"/>
<rect x="1120.3" y="499.4" width="2.0" height="2.0" fill="#ff0000"/>
<rect x="1120.3" y="513.7" width="2.0" height="2.0" fill="#ff0000"/>
<rect x="1127.4" y="520.0" width="20.6" height="3.6" fill="#00ff00"/>
<rect x="1225.9" y="414.7" width="4.8" height="8.0" fill="#3e1700"/>
<rect x="1241.1" y="414.7" width="3.8" height="8.0" fill="#3e1700"/>
<rect x="1267.8" y="414.7" width="3.8" height="9.1" fill="#3e1700"/>
<rect x="1304.0" y="414.7" width="2.1" height="16.4" fill="#6a3000"/>
<rect x="1331.2" y="414.7" width="2.3" height="14.5" fill="#3e1700"/>
<path d="M1225.0 412.8 L1274.5 412.8 L1274.5 431.0 L1269.7 431.0 L1269.7 435.6 L1243.6 435.6 L1243.6 431.0 L1225.0 431.0 Z" fill="none" stroke="#00e8e8" stroke-width="1.3" />
<line x1="1248.2" y1="412.8" x2="1248.2" y2="431.0" stroke="#00e8e8" stroke-width="1.2"/>
<line x1="1243.6" y1="412.8" x2="1243.6" y2="431.0" stroke="#00e8e8" stroke-width="1"/>
<line x1="1230.7" y1="412.8" x2="1230.7" y2="423.2" stroke="#00e8e8" stroke-width="1"/>
<path d="M1287.8 422.3 L1285.0 422.3 L1285.0 412.8 L1334.5 412.8 L1334.5 430.3 L1330.7 430.3" fill="none" stroke="#00e8e8" stroke-width="1.3" />
<rect x="1226.9" y="409.6" width="1.8" height="1.8" fill="#ff0000"/>
<rect x="1232.6" y="409.6" width="1.8" height="1.8" fill="#ff0000"/>
<rect x="1238.3" y="409.6" width="1.8" height="1.8" fill="#ff0000"/>
<rect x="1244.1" y="409.6" width="1.8" height="1.8" fill="#ff0000"/>
<rect x="1254.5" y="409.6" width="1.8" height="1.8" fill="#ff0000"/>
<rect x="1265.0" y="409.6" width="1.8" height="1.8" fill="#ff0000"/>
<rect x="1269.8" y="409.6" width="1.8" height="1.8" fill="#ff0000"/>
<rect x="1246.0" y="420.4" width="1.8" height="1.8" fill="#ff0000"/>
<rect x="1232.6" y="428.1" width="1.8" height="1.8" fill="#ff0000"/>
<rect x="1254.5" y="432.4" width="1.8" height="1.8" fill="#ff0000"/>
<rect x="1268.8" y="432.4" width="1.8" height="1.8" fill="#ff0000"/>
<rect x="1227.9" y="416.6" width="1.8" height="1.8" fill="#ff0000"/>
<rect x="1286.9" y="409.6" width="1.8" height="1.8" fill="#ff0000"/>
<rect x="1294.5" y="409.6" width="1.8" height="1.8" fill="#ff0000"/>
<rect x="1300.2" y="409.6" width="1.8" height="1.8" fill="#ff0000"/>
<rect x="1306.9" y="409.6" width="1.8" height="1.8" fill="#ff0000"/>
<rect x="1316.4" y="409.6" width="1.8" height="1.8" fill="#ff0000"/>
<rect x="1326.0" y="409.6" width="1.8" height="1.8" fill="#ff0000"/>
<rect x="1329.8" y="409.6" width="1.8" height="1.8" fill="#ff0000"/>
<rect x="1282.1" y="416.6" width="1.8" height="1.8" fill="#ff0000"/>
<rect x="1332.6" y="420.4" width="1.8" height="1.8" fill="#ff0000"/>
<rect x="1271.7" y="421.4" width="1.8" height="1.8" fill="#ff0000"/>
<path d="M1294.5 456.6 L1294.5 442.9 L1347.2 442.9 L1347.2 456.6" fill="none" stroke="#c4c4c4" stroke-width="1.8" />
<path d="M1318.3 456.6 L1318.3 437.9 L1366.3 437.9 L1366.3 456.6" fill="none" stroke="#c4c4c4" stroke-width="1.8" />
<rect x="1224.6" y="449.0" width="47.0" height="28.6" fill="none" stroke="#00e8e8" stroke-width="1.2"/>
<line x1="1224.6" y1="453.7" x2="1271.6" y2="453.7" stroke="#00e8e8" stroke-width="1"/>
<rect x="1227.8" y="453.7" width="12.4" height="4.0" fill="#b040c0"/>
<rect x="1245.0" y="453.7" width="22.9" height="3.4" fill="#b040c0"/>
<rect x="1244.4" y="457.5" width="24.4" height="14.7" fill="#0000e6"/>
<path d="M1247.81 470.29 L1247.81 463.33 Q1247.81 460.00 1251.14 460.00 Q1254.48 460.00 1254.48 463.33 L1254.48 470.29 Z" fill="none" stroke="#c8c8d0" stroke-width="1" />
<path d="M1259.24 470.29 L1259.24 463.33 Q1259.24 460.00 1262.57 460.00 Q1265.90 460.00 1265.90 463.33 L1265.90 470.29 Z" fill="none" stroke="#c8c8d0" stroke-width="1" />
<line x1="1225.9" y1="465.1" x2="1242.1" y2="465.1" stroke="#8a8d90" stroke-width="1.4"/>
<line x1="1225.9" y1="467.2" x2="1242.1" y2="467.2" stroke="#8a8d90" stroke-width="1.4"/>
<line x1="1225.9" y1="474.7" x2="1242.1" y2="474.7" stroke="#8a8d90" stroke-width="1.4"/>
<rect x="1243.0" y="450.9" width="1.9" height="68.6" fill="#80848a"/>
<rect x="1269.7" y="453.7" width="4.0" height="64.8" fill="none" stroke="#00e8e8" stroke-width="1.2"/>
<line x1="1271.0" y1="454.7" x2="1271.0" y2="517.5" stroke="#b0b0b0" stroke-width="1"/>
<rect x="1286.3" y="457.5" width="17.7" height="19.2" fill="none" stroke="#ffffff" stroke-width="1.8"/>
<line x1="1286.3" y1="467.0" x2="1304.0" y2="467.0" stroke="#ffffff" stroke-width="2"/>
<line x1="1285.5" y1="454.7" x2="1285.5" y2="477.5" stroke="#00e8e8" stroke-width="1.3"/>
<rect x="1303.8" y="457.5" width="2.3" height="61.1" fill="#ffffff"/>
<rect x="1306.1" y="457.5" width="12.2" height="14.3" fill="none" stroke="#a0a4a8" stroke-width="1.5"/>
<rect x="1318.3" y="457.0" width="12.4" height="14.9" fill="none" stroke="#d0d0d0" stroke-width="1.5"/>
<rect x="1323.0" y="458.5" width="2.9" height="60.0" fill="none" stroke="#00e8e8" stroke-width="1.1"/>
<rect x="1328.8" y="457.5" width="2.3" height="61.1" fill="#ffffff"/>
<rect x="1331.2" y="457.5" width="3.2" height="61.0" fill="none" stroke="#00e8e8" stroke-width="1.1"/>
<rect x="1336.4" y="457.5" width="16.2" height="19.2" fill="none" stroke="#ffffff" stroke-width="1.8"/>
<line x1="1336.4" y1="467.0" x2="1352.6" y2="467.0" stroke="#ffffff" stroke-width="1.8"/>
<line x1="1344.0" y1="453.7" x2="1344.0" y2="476.8" stroke="#00e8e8" stroke-width="1.2"/>
<line x1="1343.0" y1="453.7" x2="1352.6" y2="453.7" stroke="#00e8e8" stroke-width="1.2"/>
<rect x="1357.5" y="457.5" width="15.2" height="13.5" fill="none" stroke="#ffffff" stroke-width="1.8"/>
<rect x="1354.5" y="454.7" width="1.9" height="63.8" fill="none" stroke="#00e8e8" stroke-width="1.1"/>
<rect x="1359.2" y="471.8" width="2.1" height="46.7" fill="none" stroke="#00e8e8" stroke-width="1.1"/>
<line x1="1373.1" y1="454.7" x2="1373.1" y2="517.5" stroke="#00e8e8" stroke-width="1.2"/>
<line x1="1354.5" y1="454.7" x2="1373.5" y2="454.7" stroke="#00e8e8" stroke-width="1.2"/>
<line x1="1361.3" y1="517.5" x2="1373.5" y2="517.5" stroke="#c0c0c0" stroke-width="1.6"/>
<line x1="1285.5" y1="454.7" x2="1335.4" y2="454.7" stroke="#00e8e8" stroke-width="1.1"/>
<rect x="1282.0" y="454.6" width="2.0" height="2.0" fill="#ff0000"/>
<rect x="1282.0" y="463.2" width="2.0" height="2.0" fill="#ff0000"/>
<rect x="1282.0" y="469.9" width="2.0" height="2.0" fill="#ff0000"/>
<rect x="1282.0" y="474.6" width="2.0" height="2.0" fill="#ff0000"/>
<rect x="1287.8" y="451.8" width="2.0" height="2.0" fill="#ff0000"/>
<rect x="1300.1" y="451.8" width="2.0" height="2.0" fill="#ff0000"/>
<rect x="1304.9" y="451.8" width="2.0" height="2.0" fill="#ff0000"/>
<rect x="1316.3" y="451.8" width="2.0" height="2.0" fill="#ff0000"/>
<rect x="1324.9" y="451.8" width="2.0" height="2.0" fill="#ff0000"/>
<rect x="1330.6" y="451.8" width="2.0" height="2.0" fill="#ff0000"/>
<rect x="1313.5" y="463.2" width="2.0" height="2.0" fill="#ff0000"/>
<rect x="1334.4" y="465.1" width="2.0" height="2.0" fill="#ff0000"/>
<rect x="1320.1" y="487.0" width="2.0" height="2.0" fill="#ff0000"/>
<rect x="1324.0" y="491.8" width="2.0" height="2.0" fill="#ff0000"/>
<rect x="1331.6" y="485.1" width="2.0" height="2.0" fill="#ff0000"/>
<rect x="1351.6" y="485.1" width="2.0" height="2.0" fill="#ff0000"/>
<rect x="1358.2" y="492.7" width="2.0" height="2.0" fill="#ff0000"/>
<rect x="1270.6" y="485.1" width="2.0" height="2.0" fill="#ff0000"/>
<rect x="1371.6" y="512.7" width="2.0" height="2.0" fill="#ff0000"/>
<rect x="1222.0" y="464.1" width="2.0" height="2.0" fill="#ff0000"/>
<rect x="1225.9" y="448.0" width="2.0" height="2.0" fill="#ff0000"/>
<rect x="1245.9" y="446.0" width="2.0" height="2.0" fill="#ff0000"/>
<rect x="1255.4" y="473.7" width="2.0" height="2.0" fill="#ff0000"/>
<rect x="1268.7" y="448.0" width="2.0" height="2.0" fill="#ff0000"/>
<rect x="1367.8" y="463.2" width="2.0" height="2.0" fill="#ff0000"/>
<path d="M1222.1 493.7 L1223.0 491.2 L1233.5 491.2 L1234.5 493.7 L1232.6 495.0 L1232.6 498.1 L1224.0 498.1 L1224.0 495.0 Z" fill="none" stroke="#ffffff" stroke-width="1.3" />
<line x1="1224.0" y1="496.6" x2="1232.6" y2="496.6" stroke="#00e8e8" stroke-width="1"/>
<rect x="1220.8" y="502.3" width="13.3" height="19.0" fill="#0000e6"/>
<rect x="1220.8" y="502.3" width="13.3" height="19.0" fill="none" stroke="#00e8e8" stroke-width="1.1"/>
<rect x="1225.0" y="506.1" width="6.7" height="12.6" fill="#283040" stroke="#9aa0a8" stroke-width="1.3"/>
<path d="M1235.4 503.2 L1241.1 501.3 L1244.0 501.9 L1244.0 517.5 L1238.3 519.8 L1235.4 519.4 Z" fill="none" stroke="#d0d0d0" stroke-width="1.3" />
<line x1="1238.3" y1="502.9" x2="1238.3" y2="519.4" stroke="#00e8e8" stroke-width="1"/>
<rect x="1224.6" y="521.9" width="5.1" height="2.3" fill="#00ff00"/>
<rect x="1226.8" y="488.3" width="2.0" height="2.0" fill="#ff0000"/>
<rect x="1217.9" y="510.4" width="2.0" height="2.0" fill="#ff0000"/>
<rect x="1235.8" y="510.4" width="2.0" height="2.0" fill="#ff0000"/>
<rect x="1336.0" y="519.0" width="27.0" height="4.6" fill="#00ff00"/>
<rect x="1331.6" y="525.1" width="39.0" height="1.3" fill="#4848ff"/>
<rect x="1437.7" y="487.0" width="31.4" height="19.4" fill="#0000e6"/>
<rect x="1437.7" y="487.0" width="31.4" height="19.4" fill="none" stroke="#d0f8f8" stroke-width="1.1"/>
<rect x="1440.6" y="489.9" width="7.6" height="14.3" fill="none" stroke="#8088c0" stroke-width="1"/>
<rect x="1452.0" y="489.9" width="6.7" height="14.3" fill="none" stroke="#8088c0" stroke-width="1"/>
<rect x="1460.6" y="489.9" width="6.7" height="14.3" fill="none" stroke="#8088c0" stroke-width="1"/>
<rect x="1436.8" y="479.8" width="30.5" height="6.3" fill="none" stroke="#00e8e8" stroke-width="1"/>
<rect x="1438.7" y="482.3" width="7.6" height="1.5" fill="#ffffff"/>
<rect x="1449.1" y="482.3" width="7.0" height="1.5" fill="#ffffff"/>
<rect x="1458.7" y="482.3" width="7.6" height="1.5" fill="#ffffff"/>
<circle cx="1441.52" cy="479.62" r="2.0" fill="#ff0000" stroke="none" stroke-width="0"/>
<circle cx="1451.62" cy="479.62" r="2.0" fill="#ff0000" stroke="none" stroke-width="0"/>
<circle cx="1461.90" cy="479.62" r="2.0" fill="#ff0000" stroke="none" stroke-width="0"/>
<rect x="1429.5" y="487.4" width="5.0" height="17.7" fill="none" stroke="#ffffff" stroke-width="1.2"/>
<line x1="1432.0" y1="487.4" x2="1432.0" y2="505.1" stroke="#00e8e8" stroke-width="1"/>
<circle cx="1427.24" cy="496.19" r="1.8" fill="#ff0000" stroke="none" stroke-width="0"/>
<rect x="1437.71" y="516.57" width="15.24" height="11.43" rx="4" fill="#0000e6" stroke="#00e8e8" stroke-width="1"/>
<rect x="1439.6" y="509.9" width="12.4" height="3.8" fill="none" stroke="#ffffff" stroke-width="1.2"/>
<line x1="1439.6" y1="511.8" x2="1452.0" y2="511.8" stroke="#00e8e8" stroke-width="1"/>
<circle cx="1444.76" cy="508.95" r="1.7" fill="#ff0000" stroke="none" stroke-width="0"/>
<circle cx="1435.81" cy="519.43" r="1.7" fill="#ff0000" stroke="none" stroke-width="0"/>
<circle cx="1435.81" cy="524.76" r="1.7" fill="#ff0000" stroke="none" stroke-width="0"/>
<circle cx="1452.38" cy="513.71" r="1.7" fill="#ff0000" stroke="none" stroke-width="0"/>
<rect x="1454.9" y="517.5" width="7.6" height="9.5" fill="none" stroke="#d0f0f0" stroke-width="1.1"/>
<line x1="1457.7" y1="517.5" x2="1457.7" y2="527.0" stroke="#00e8e8" stroke-width="1"/>
<rect x="1475.8" y="528.0" width="14.9" height="2.3" fill="#00ff00"/>
<rect x="1470.6" y="511.4" width="1.6" height="1.6" fill="#00ff00"/>
<path d="M1033.1 578.4 L1033.1 567.9 L1054.1 567.9 L1054.1 574.2 L1057.9 574.2 L1057.9 578.0" fill="none" stroke="#ffffff" stroke-width="1.9" />
<line x1="1037.0" y1="567.9" x2="1037.0" y2="578.0" stroke="#ffffff" stroke-width="1.2"/>
<path d="M1064.6 576.1 L1064.6 573.2 L1072.2 573.2 L1072.2 567.9 L1089.3 567.9 L1089.3 579.0 L1085.5 579.0 L1085.5 567.9" fill="none" stroke="#ffffff" stroke-width="1.9" />
<rect x="1064.6" y="573.2" width="4.8" height="3.8" fill="#ffffff"/>
<line x1="1089.3" y1="567.9" x2="1111.8" y2="567.9" stroke="#ffffff" stroke-width="1.4"/>
<path d="M1111.8 579.0 L1111.8 567.9 L1142.7 567.9 L1142.7 577.0 L1138.9 577.0" fill="none" stroke="#ffffff" stroke-width="1.9" />
<line x1="1131.2" y1="567.9" x2="1131.2" y2="577.0" stroke="#ffffff" stroke-width="1.9"/>
<line x1="1034.1" y1="566.6" x2="1055.0" y2="566.6" stroke="#00e8e8" stroke-width="1"/>
<line x1="1072.2" y1="566.6" x2="1089.3" y2="566.6" stroke="#00e8e8" stroke-width="1"/>
<line x1="1111.8" y1="566.6" x2="1142.7" y2="566.6" stroke="#00e8e8" stroke-width="1"/>
<line x1="1087.0" y1="568.5" x2="1087.0" y2="579.0" stroke="#00e8e8" stroke-width="1"/>
<line x1="1140.8" y1="568.5" x2="1140.8" y2="577.0" stroke="#00e8e8" stroke-width="1"/>
<line x1="1053.1" y1="575.1" x2="1053.1" y2="580.9" stroke="#00e8e8" stroke-width="1"/>
<rect x="1034.0" y="564.6" width="2.0" height="2.0" fill="#ff0000"/>
<rect x="1041.7" y="564.6" width="2.0" height="2.0" fill="#ff0000"/>
<rect x="1053.1" y="564.6" width="2.0" height="2.0" fill="#ff0000"/>
<rect x="1071.2" y="564.6" width="2.0" height="2.0" fill="#ff0000"/>
<rect x="1079.8" y="564.6" width="2.0" height="2.0" fill="#ff0000"/>
<rect x="1085.5" y="564.6" width="2.0" height="2.0" fill="#ff0000"/>
<rect x="1096.0" y="564.6" width="2.0" height="2.0" fill="#ff0000"/>
<rect x="1107.4" y="564.6" width="2.0" height="2.0" fill="#ff0000"/>
<rect x="1112.1" y="564.6" width="2.0" height="2.0" fill="#ff0000"/>
<rect x="1118.8" y="564.6" width="2.0" height="2.0" fill="#ff0000"/>
<rect x="1126.4" y="564.6" width="2.0" height="2.0" fill="#ff0000"/>
<rect x="1135.0" y="564.6" width="2.0" height="2.0" fill="#ff0000"/>
<rect x="1141.7" y="564.6" width="2.0" height="2.0" fill="#ff0000"/>
<rect x="1054.0" y="570.3" width="2.0" height="2.0" fill="#ff0000"/>
<rect x="1054.0" y="578.0" width="2.0" height="2.0" fill="#ff0000"/>
<rect x="1072.1" y="570.9" width="2.0" height="2.0" fill="#ff0000"/>
<rect x="1087.4" y="572.2" width="2.0" height="2.0" fill="#ff0000"/>
<rect x="1131.2" y="572.2" width="2.0" height="2.0" fill="#ff0000"/>
<rect x="1137.9" y="571.3" width="2.0" height="2.0" fill="#ff0000"/>
<rect x="1136.0" y="578.0" width="2.0" height="2.0" fill="#ff0000"/>
<rect x="1057.9" y="572.2" width="2.0" height="2.0" fill="#ff0000"/>
<path d="M1023.6 597.0 L1023.6 592.3 L1046.5 592.3 L1046.5 597.0" fill="none" stroke="#c8c8c8" stroke-width="1.5" />
<path d="M1097.9 589.4 L1097.9 585.2 L1155.0 585.2 L1155.0 591.3" fill="none" stroke="#c8c8c8" stroke-width="1.5" />
<rect x="1014.7" y="599.0" width="14.1" height="24.8" fill="none" stroke="#00e8e8" stroke-width="1.1"/>
<rect x="1018.9" y="598.0" width="9.9" height="21.9" fill="none" stroke="#ffffff" stroke-width="1.9"/>
<line x1="1018.9" y1="609.4" x2="1028.8" y2="609.4" stroke="#ffffff" stroke-width="1.9"/>
<rect x="1033.1" y="598.0" width="28.6" height="21.5" fill="none" stroke="#ffffff" stroke-width="1.9"/>
<line x1="1033.1" y1="609.4" x2="1061.7" y2="609.4" stroke="#ffffff" stroke-width="1.9"/>
<line x1="1053.1" y1="598.0" x2="1053.1" y2="619.5" stroke="#ffffff" stroke-width="1.9"/>
<line x1="1057.0" y1="598.0" x2="1057.0" y2="619.5" stroke="#ffffff" stroke-width="1.4"/>
<line x1="1041.7" y1="598.0" x2="1041.7" y2="619.5" stroke="#00e8e8" stroke-width="1.2"/>
<line x1="1061.7" y1="598.0" x2="1061.7" y2="619.5" stroke="#00e8e8" stroke-width="1.2"/>
<rect x="1065.5" y="598.0" width="20.0" height="21.5" fill="none" stroke="#ffffff" stroke-width="1.9"/>
<line x1="1065.5" y1="609.4" x2="1085.5" y2="609.4" stroke="#ffffff" stroke-width="1.9"/>
<line x1="1075.0" y1="598.0" x2="1075.0" y2="619.5" stroke="#00e8e8" stroke-width="1.2"/>
<rect x="1085.5" y="592.3" width="26.7" height="17.1" fill="none" stroke="#ffffff" stroke-width="2.2"/>
<rect x="1112.2" y="598.0" width="30.5" height="21.5" fill="none" stroke="#ffffff" stroke-width="1.9"/>
<line x1="1112.2" y1="609.4" x2="1142.7" y2="609.4" stroke="#ffffff" stroke-width="1.9"/>
<line x1="1131.2" y1="598.0" x2="1131.2" y2="619.5" stroke="#ffffff" stroke-width="1.9"/>
<line x1="1119.8" y1="598.0" x2="1119.8" y2="619.5" stroke="#00e8e8" stroke-width="1.2"/>
<rect x="1149.3" y="592.3" width="11.4" height="27.2" fill="none" stroke="#ffffff" stroke-width="1.9"/>
<rect x="1160.8" y="593.2" width="2.9" height="26.3" fill="none" stroke="#00e8e8" stroke-width="1.1"/>
<rect x="1023.6" y="594.1" width="2.0" height="2.0" fill="#ff0000"/>
<rect x="1034.0" y="594.1" width="2.0" height="2.0" fill="#ff0000"/>
<rect x="1050.2" y="594.1" width="2.0" height="2.0" fill="#ff0000"/>
<rect x="1057.9" y="594.1" width="2.0" height="2.0" fill="#ff0000"/>
<rect x="1066.4" y="594.1" width="2.0" height="2.0" fill="#ff0000"/>
<rect x="1072.1" y="594.1" width="2.0" height="2.0" fill="#ff0000"/>
<rect x="1118.8" y="594.1" width="2.0" height="2.0" fill="#ff0000"/>
<rect x="1126.4" y="594.1" width="2.0" height="2.0" fill="#ff0000"/>
<rect x="1131.2" y="594.1" width="2.0" height="2.0" fill="#ff0000"/>
<rect x="1141.7" y="594.1" width="2.0" height="2.0" fill="#ff0000"/>
<rect x="1011.8" y="608.4" width="2.0" height="2.0" fill="#ff0000"/>
<rect x="1037.9" y="603.7" width="2.0" height="2.0" fill="#ff0000"/>
<rect x="1037.9" y="613.2" width="2.0" height="2.0" fill="#ff0000"/>
<rect x="1072.1" y="603.7" width="2.0" height="2.0" fill="#ff0000"/>
<rect x="1072.1" y="613.2" width="2.0" height="2.0" fill="#ff0000"/>
<rect x="1117.9" y="603.7" width="2.0" height="2.0" fill="#ff0000"/>
<rect x="1117.9" y="613.2" width="2.0" height="2.0" fill="#ff0000"/>
<rect x="1086.0" y="586.9" width="2.0" height="2.0" fill="#ff0000"/>
<rect x="1111.2" y="586.9" width="2.0" height="2.0" fill="#ff0000"/>
<rect x="1153.1" y="589.4" width="2.0" height="2.0" fill="#ff0000"/>
<rect x="1148.3" y="602.7" width="2.0" height="2.0" fill="#ff0000"/>
<rect x="1159.8" y="603.7" width="2.0" height="2.0" fill="#ff0000"/>
<rect x="1158.8" y="614.1" width="2.0" height="2.0" fill="#ff0000"/>
<rect x="1021.7" y="620.2" width="2.0" height="2.0" fill="#ff0000"/>
<rect x="1095.4" y="587.8" width="3.2" height="3.2" fill="#ff0000"/>
<line x1="1038.9" y1="601.8" x2="1038.9" y2="618.0" stroke="#ff0000" stroke-width="1.2"/>
<line x1="1073.1" y1="601.8" x2="1073.1" y2="618.0" stroke="#ff0000" stroke-width="1.2"/>
<line x1="1118.9" y1="601.8" x2="1118.9" y2="618.0" stroke="#ff0000" stroke-width="1.2"/>
<rect x="1028.4" y="649.4" width="6.7" height="18.1" fill="none" stroke="#00e8e8" stroke-width="1.1"/>
<rect x="1034.1" y="646.6" width="24.8" height="21.0" fill="none" stroke="#ffffff" stroke-width="2.2"/>
<line x1="1034.1" y1="657.6" x2="1058.9" y2="657.6" stroke="#ffffff" stroke-width="1.9"/>
<line x1="1053.1" y1="646.6" x2="1053.1" y2="667.5" stroke="#ffffff" stroke-width="1.9"/>
<rect x="1065.5" y="646.6" width="20.0" height="21.0" fill="none" stroke="#ffffff" stroke-width="2.2"/>
<line x1="1065.5" y1="657.6" x2="1085.5" y2="657.6" stroke="#ffffff" stroke-width="1.9"/>
<rect x="1084.6" y="639.9" width="27.6" height="17.7" fill="none" stroke="#ffffff" stroke-width="2.2"/>
<rect x="1087.4" y="641.8" width="5.7" height="25.7" fill="none" stroke="#00e8e8" stroke-width="1.1"/>
<rect x="1112.2" y="646.6" width="30.5" height="21.0" fill="none" stroke="#ffffff" stroke-width="2.2"/>
<line x1="1112.2" y1="657.6" x2="1142.7" y2="657.6" stroke="#ffffff" stroke-width="1.9"/>
<line x1="1131.2" y1="646.6" x2="1131.2" y2="667.5" stroke="#ffffff" stroke-width="1.9"/>
<rect x="1142.7" y="649.4" width="4.8" height="18.1" fill="none" stroke="#00e8e8" stroke-width="1.1"/>
<rect x="1025.8" y="656.5" width="2.2" height="2.2" fill="#ff0000"/>
<rect x="1089.2" y="653.1" width="2.2" height="2.2" fill="#ff0000"/>
<rect x="1145.4" y="656.5" width="2.2" height="2.2" fill="#ff0000"/>
<rect x="1030.1" y="663.6" width="2.2" height="2.2" fill="#ff0000"/>
<rect x="1143.5" y="663.6" width="2.2" height="2.2" fill="#ff0000"/>
<rect x="1107.9" y="652.9" width="1.8" height="1.8" fill="#ffffff"/>
<rect x="1108.0" y="641.6" width="1.5" height="1.5" fill="#ffffff"/>
<rect x="1127.4" y="670.4" width="20.6" height="4.4" fill="#00ff00"/>
<rect x="1028.4" y="761.0" width="25.7" height="7.8" fill="none" stroke="#00e8e8" stroke-width="1"/>
<rect x="1030.3" y="763.4" width="22.9" height="1.9" fill="#ffffff"/>
<rect x="1039.8" y="757.5" width="2.0" height="2.0" fill="#ff0000"/>
<rect x="1030.2" y="767.0" width="2.0" height="2.0" fill="#ff0000"/>
<rect x="1040.7" y="767.0" width="2.0" height="2.0" fill="#ff0000"/>
<rect x="1053.1" y="767.0" width="2.0" height="2.0" fill="#ff0000"/>
<rect x="1029.3" y="772.8" width="24.8" height="19.6" fill="#0000e6"/>
<path d="M1032.19 790.48 L1032.19 779.90 Q1032.19 775.62 1036.48 775.62 Q1040.76 775.62 1040.76 779.90 L1040.76 790.48 Z" fill="none" stroke="#9aa0c0" stroke-width="1" />
<path d="M1043.62 790.48 L1043.62 779.90 Q1043.62 775.62 1047.90 775.62 Q1052.19 775.62 1052.19 779.90 L1052.19 790.48 Z" fill="none" stroke="#9aa0c0" stroke-width="1" />
<rect x="1028.4" y="792.4" width="25.7" height="1.9" fill="none" stroke="#00e8e8" stroke-width="1"/>
<rect x="1039.8" y="792.3" width="2.0" height="2.0" fill="#ff0000"/>
<rect x="1018.5" y="773.0" width="6.1" height="18.5" fill="none" stroke="#00e8e8" stroke-width="1.1"/>
<line x1="1021.7" y1="773.3" x2="1021.7" y2="791.0" stroke="#ffffff" stroke-width="1"/>
<rect x="1015.6" y="780.9" width="2.0" height="2.0" fill="#ff0000"/>
<rect x="1025.5" y="780.9" width="2.0" height="2.0" fill="#ff0000"/>
<rect x="1023.6" y="772.0" width="2.0" height="2.0" fill="#ff0000"/>
<rect x="1023.6" y="788.5" width="2.0" height="2.0" fill="#ff0000"/>
<rect x="1069.3" y="761.0" width="22.9" height="7.8" fill="none" stroke="#00e8e8" stroke-width="1"/>
<rect x="1070.7" y="763.4" width="20.6" height="1.9" fill="#ffffff"/>
<rect x="1078.8" y="757.5" width="2.0" height="2.0" fill="#ff0000"/>
<rect x="1070.2" y="767.0" width="2.0" height="2.0" fill="#ff0000"/>
<rect x="1079.8" y="767.0" width="2.0" height="2.0" fill="#ff0000"/>
<rect x="1091.2" y="767.0" width="2.0" height="2.0" fill="#ff0000"/>
<rect x="1069.3" y="772.8" width="22.9" height="19.6" fill="#0000e6"/>
<path d="M1071.24 790.48 L1071.24 778.95 Q1071.24 775.62 1074.57 775.62 Q1077.90 775.62 1077.90 778.95 L1077.90 790.48 Z" fill="none" stroke="#9aa0c0" stroke-width="1" />
<path d="M1082.67 790.48 L1082.67 779.14 Q1082.67 775.62 1086.19 775.62 Q1089.71 775.62 1089.71 779.14 L1089.71 790.48 Z" fill="none" stroke="#9aa0c0" stroke-width="1" />
<rect x="1068.4" y="792.4" width="23.8" height="1.9" fill="none" stroke="#00e8e8" stroke-width="1"/>
<rect x="1078.8" y="792.3" width="2.0" height="2.0" fill="#ff0000"/>
<rect x="1028.4" y="797.7" width="11.4" height="6.1" fill="none" stroke="#00e8e8" stroke-width="1"/>
<rect x="1029.9" y="799.6" width="9.0" height="1.9" fill="#ffffff"/>
<rect x="1032.2" y="794.9" width="1.8" height="1.8" fill="#ff0000"/>
<rect x="1039.3" y="802.5" width="1.8" height="1.8" fill="#ff0000"/>
<rect x="1028.4" y="808.0" width="11.8" height="19.6" fill="#0000e6"/>
<path d="M1030.86 825.71 L1030.86 813.62 Q1030.86 810.86 1033.62 810.86 Q1036.38 810.86 1036.38 813.62 L1036.38 825.71 Z" fill="none" stroke="#9aa0c0" stroke-width="1" />
<rect x="1027.4" y="827.6" width="12.8" height="1.9" fill="none" stroke="#00e8e8" stroke-width="1"/>
<rect x="1032.2" y="828.1" width="1.8" height="1.8" fill="#ff0000"/>
<rect x="1018.5" y="808.0" width="6.1" height="18.7" fill="none" stroke="#00e8e8" stroke-width="1.1"/>
<line x1="1021.7" y1="808.6" x2="1021.7" y2="826.3" stroke="#ffffff" stroke-width="1"/>
<rect x="1015.6" y="816.1" width="2.0" height="2.0" fill="#ff0000"/>
<rect x="1023.6" y="808.5" width="2.0" height="2.0" fill="#ff0000"/>
<rect x="1023.6" y="823.8" width="2.0" height="2.0" fill="#ff0000"/>
<rect x="1065.6" y="802.0" width="1.8" height="1.8" fill="#00ff00"/>
<rect x="1060.8" y="813.3" width="17.5" height="17.1" fill="none" stroke="#00e8e8" stroke-width="1"/>
<rect x="1061.7" y="815.6" width="16.2" height="1.9" fill="#ffffff"/>
<rect x="1060.76" y="821.90" width="19.05" height="6.67" rx="3" fill="#0000e6" stroke="none" stroke-width="0"/>
<rect x="1057.9" y="823.4" width="2.0" height="2.0" fill="#ff0000"/>
<rect x="1068.3" y="828.5" width="2.0" height="2.0" fill="#ff0000"/>
<rect x="1078.8" y="820.0" width="2.0" height="2.0" fill="#ff0000"/>
<rect x="1083.6" y="823.8" width="2.0" height="2.0" fill="#ff0000"/>
<rect x="1067.9" y="810.0" width="2.8" height="2.8" fill="#ff0000"/>
<rect x="1079.8" y="821.9" width="8.6" height="4.8" fill="none" stroke="#00e8e8" stroke-width="1"/>
<rect x="1079.8" y="826.7" width="20.6" height="4.4" fill="#00ff00"/>
</svg>
<div class="vp">[–][俯视][二维线框]</div>
<svg width="1800" height="840" viewBox="0 0 1800 840">
<circle cx="1733.5" cy="79" r="51.2" fill="none" stroke="#8f96a3" stroke-opacity="0.36" stroke-width="13"/>
<rect x="1708.5" y="54.3" width="50" height="50" fill="#a9acb3"/>
<rect x="1718.5" y="63.8" width="30.5" height="30.5" fill="#b6bbc7"/>
<text x="1734" y="90" text-anchor="middle" font-family="'Liberation Sans','Noto Sans CJK SC',sans-serif" font-size="27" font-weight="300" fill="#565b65">上</text>
</svg>
<div class="cmp" style="left:1724px;top:15px">北</div>
<div class="cmp" style="left:1724px;top:125px">南</div>
<div class="cmp" style="left:1669px;top:70px">西</div>
<div class="cmp" style="left:1778px;top:70px">东</div>
<div class="wcs"><span style="margin-left:4px">WCS</span><span style="position:absolute;left:33px;top:6px;width:0;height:0;border-left:4px solid transparent;border-right:4px solid transparent;border-top:4px solid #8f939d"></span></div>
<svg width="1800" height="840" viewBox="0 0 1800 840">
<defs><pattern id="stripe" width="3.1" height="40" patternUnits="userSpaceOnUse"><rect x="0" y="-2" width="1.9" height="42" fill="#fff"/><rect x="1.9" y="-2" width="1.2" height="42" fill="#fff" fill-opacity="0.5"/></pattern></defs>
<g fill="none" stroke="#fff" stroke-opacity="0.235" stroke-width="2.8">
<path d="M-448.8 234.5 A226.6 226.6 0 0 1 -330.2 68.4"/>
<path d="M-119.4 68.4 A226.6 226.6 0 0 1 -0.8 234.5"/>
<path d="M-0.5 286.5 A226.6 226.6 0 0 1 -120.2 455.0"/>
<path d="M-329.4 455.0 A226.6 226.6 0 0 1 -449.1 286.5"/>
<path d="M-448.8 678.2 A226.6 226.6 0 0 1 -330.2 512.1"/>
<path d="M-119.4 512.1 A226.6 226.6 0 0 1 -0.8 678.2"/>
<path d="M-0.5 730.2 A226.6 226.6 0 0 1 -120.2 898.7"/>
<path d="M-329.4 898.7 A226.6 226.6 0 0 1 -449.1 730.2"/>
<path d="M1.5 234.5 A226.6 226.6 0 0 1 120.1 68.4"/>
<path d="M330.9 68.4 A226.6 226.6 0 0 1 449.5 234.5"/>
<path d="M449.8 286.5 A226.6 226.6 0 0 1 330.1 455.0"/>
<path d="M120.9 455.0 A226.6 226.6 0 0 1 1.2 286.5"/>
<path d="M1.5 678.2 A226.6 226.6 0 0 1 120.1 512.1"/>
<path d="M330.9 512.1 A226.6 226.6 0 0 1 449.5 678.2"/>
<path d="M449.8 730.2 A226.6 226.6 0 0 1 330.1 898.7"/>
<path d="M120.9 898.7 A226.6 226.6 0 0 1 1.2 730.2"/>
<path d="M451.8 234.5 A226.6 226.6 0 0 1 570.4 68.4"/>
<path d="M781.2 68.4 A226.6 226.6 0 0 1 899.8 234.5"/>
<path d="M900.1 286.5 A226.6 226.6 0 0 1 780.4 455.0"/>
<path d="M571.2 455.0 A226.6 226.6 0 0 1 451.5 286.5"/>
<path d="M451.8 678.2 A226.6 226.6 0 0 1 570.4 512.1"/>
<path d="M781.2 512.1 A226.6 226.6 0 0 1 899.8 678.2"/>
<path d="M900.1 730.2 A226.6 226.6 0 0 1 780.4 898.7"/>
<path d="M571.2 898.7 A226.6 226.6 0 0 1 451.5 730.2"/>
<path d="M902.1 234.5 A226.6 226.6 0 0 1 1020.7 68.4"/>
<path d="M1231.5 68.4 A226.6 226.6 0 0 1 1350.1 234.5"/>
<path d="M1350.4 286.5 A226.6 226.6 0 0 1 1230.7 455.0"/>
<path d="M1021.5 455.0 A226.6 226.6 0 0 1 901.8 286.5"/>
<path d="M902.1 678.2 A226.6 226.6 0 0 1 1020.7 512.1"/>
<path d="M1231.5 512.1 A226.6 226.6 0 0 1 1350.1 678.2"/>
<path d="M1350.4 730.2 A226.6 226.6 0 0 1 1230.7 898.7"/>
<path d="M1021.5 898.7 A226.6 226.6 0 0 1 901.8 730.2"/>
<path d="M1352.4 234.5 A226.6 226.6 0 0 1 1471.0 68.4"/>
<path d="M1681.8 68.4 A226.6 226.6 0 0 1 1800.4 234.5"/>
<path d="M1800.7 286.5 A226.6 226.6 0 0 1 1681.0 455.0"/>
<path d="M1471.8 455.0 A226.6 226.6 0 0 1 1352.1 286.5"/>
<path d="M1352.4 678.2 A226.6 226.6 0 0 1 1471.0 512.1"/>
<path d="M1681.8 512.1 A226.6 226.6 0 0 1 1800.4 678.2"/>
<path d="M1800.7 730.2 A226.6 226.6 0 0 1 1681.0 898.7"/>
<path d="M1471.8 898.7 A226.6 226.6 0 0 1 1352.1 730.2"/>
<path d="M1802.7 234.5 A226.6 226.6 0 0 1 1921.3 68.4"/>
<path d="M2132.1 68.4 A226.6 226.6 0 0 1 2250.7 234.5"/>
<path d="M2251.0 286.5 A226.6 226.6 0 0 1 2131.3 455.0"/>
<path d="M1922.1 455.0 A226.6 226.6 0 0 1 1802.4 286.5"/>
<path d="M1802.7 678.2 A226.6 226.6 0 0 1 1921.3 512.1"/>
<path d="M2132.1 512.1 A226.6 226.6 0 0 1 2250.7 678.2"/>
<path d="M2251.0 730.2 A226.6 226.6 0 0 1 2131.3 898.7"/>
<path d="M1922.1 898.7 A226.6 226.6 0 0 1 1802.4 730.2"/>
</g>
<g opacity="0.43">
<g transform="translate(115.3 16.0)"><g fill="#fff"><path d="M10.5 25.3V9C12 4 16 .2 21.3 0C27 0 32 3.500 36 7.300C40 3.500 45 0 50.700 0C56 .2 60 4 62.500 9V25.300Z" fill="url(#stripe)"/><path d="M6.5 8.5Q9 7.500 10 10V20L7.500 19.500Q5.500 14 6.500 8.500ZM66.500 8.500Q64 7.500 63 10V20L65.500 19.500Q67.500 14 66.500 8.500Z" fill-opacity=".75"/><circle cx="5.2" cy="22.300" r="5"/><circle cx="65.6" cy="22.300" r="5"/><path d="M7 17.5Q14 18.500 14.500 25.300H56.300Q56.800 18.500 63.800 17.500L66 27Q61.500 26 60.300 31.300H10.500Q9.300 26 4.800 27Z"/><path d="M11 31L15.500 31Q15 33 16.500 33.300H54.300Q55.800 33 55.300 31L59.800 31Q60.600 34.500 64.900 37L64.100 38.200L60.600 38Q57.100 36 55.600 35.300H15.200Q13.700 36 10.200 38L6.700 38.200L5.900 37Q10.200 34.500 11 31Z"/></g>
</g>
<text transform="translate(191.3 50.2) scale(1.11 0.95)" font-family="'Liberation Sans','Noto Sans CJK SC',sans-serif" font-size="41" font-weight="500" fill="#fff">欧模网</text>
<g transform="translate(1016.4 16.0)"><g fill="#fff"><path d="M10.5 25.3V9C12 4 16 .2 21.3 0C27 0 32 3.500 36 7.300C40 3.500 45 0 50.700 0C56 .2 60 4 62.500 9V25.300Z" fill="url(#stripe)"/><path d="M6.5 8.5Q9 7.500 10 10V20L7.500 19.500Q5.500 14 6.500 8.500ZM66.500 8.500Q64 7.500 63 10V20L65.500 19.500Q67.500 14 66.500 8.500Z" fill-opacity=".75"/><circle cx="5.2" cy="22.300" r="5"/><circle cx="65.6" cy="22.300" r="5"/><path d="M7 17.5Q14 18.500 14.500 25.300H56.300Q56.800 18.500 63.800 17.500L66 27Q61.500 26 60.300 31.300H10.500Q9.300 26 4.800 27Z"/><path d="M11 31L15.500 31Q15 33 16.500 33.300H54.300Q55.800 33 55.300 31L59.800 31Q60.600 34.500 64.900 37L64.100 38.200L60.600 38Q57.100 36 55.600 35.300H15.200Q13.700 36 10.200 38L6.700 38.200L5.900 37Q10.200 34.500 11 31Z"/></g>
</g>
<text transform="translate(1092.3 50.2) scale(1.11 0.95)" font-family="'Liberation Sans','Noto Sans CJK SC',sans-serif" font-size="41" font-weight="500" fill="#fff">欧模网</text>
<g transform="translate(344.0 240.3)"><g fill="#fff"><path d="M10.5 25.3V9C12 4 16 .2 21.3 0C27 0 32 3.500 36 7.300C40 3.500 45 0 50.700 0C56 .2 60 4 62.500 9V25.300Z" fill="url(#stripe)"/><path d="M6.5 8.5Q9 7.500 10 10V20L7.500 19.500Q5.500 14 6.500 8.500ZM66.500 8.500Q64 7.500 63 10V20L65.500 19.500Q67.500 14 66.500 8.500Z" fill-opacity=".75"/><circle cx="5.2" cy="22.300" r="5"/><circle cx="65.6" cy="22.300" r="5"/><path d="M7 17.5Q14 18.500 14.500 25.300H56.300Q56.800 18.500 63.800 17.500L66 27Q61.500 26 60.300 31.300H10.500Q9.300 26 4.800 27Z"/><path d="M11 31L15.500 31Q15 33 16.500 33.300H54.300Q55.800 33 55.300 31L59.800 31Q60.600 34.500 64.900 37L64.100 38.200L60.600 38Q57.100 36 55.600 35.300H15.200Q13.700 36 10.200 38L6.700 38.200L5.900 37Q10.200 34.500 11 31Z"/></g>
</g>
<text transform="translate(420.0 274.5) scale(1.11 0.95)" font-family="'Liberation Sans','Noto Sans CJK SC',sans-serif" font-size="41" font-weight="500" fill="#fff">欧模网</text>
<g transform="translate(1245.0 240.3)"><g fill="#fff"><path d="M10.5 25.3V9C12 4 16 .2 21.3 0C27 0 32 3.500 36 7.300C40 3.500 45 0 50.700 0C56 .2 60 4 62.500 9V25.300Z" fill="url(#stripe)"/><path d="M6.5 8.5Q9 7.500 10 10V20L7.500 19.500Q5.500 14 6.500 8.500ZM66.500 8.500Q64 7.500 63 10V20L65.500 19.500Q67.500 14 66.500 8.500Z" fill-opacity=".75"/><circle cx="5.2" cy="22.300" r="5"/><circle cx="65.6" cy="22.300" r="5"/><path d="M7 17.5Q14 18.500 14.500 25.300H56.300Q56.800 18.500 63.800 17.500L66 27Q61.500 26 60.300 31.300H10.500Q9.300 26 4.800 27Z"/><path d="M11 31L15.500 31Q15 33 16.500 33.300H54.300Q55.800 33 55.300 31L59.800 31Q60.600 34.500 64.900 37L64.100 38.200L60.600 38Q57.100 36 55.600 35.300H15.200Q13.700 36 10.200 38L6.700 38.200L5.900 37Q10.200 34.500 11 31Z"/></g>
</g>
<text transform="translate(1321.0 274.5) scale(1.11 0.95)" font-family="'Liberation Sans','Noto Sans CJK SC',sans-serif" font-size="41" font-weight="500" fill="#fff">欧模网</text>
<g transform="translate(571.6 466.3)"><g fill="#fff"><path d="M10.5 25.3V9C12 4 16 .2 21.3 0C27 0 32 3.500 36 7.300C40 3.500 45 0 50.700 0C56 .2 60 4 62.500 9V25.300Z" fill="url(#stripe)"/><path d="M6.5 8.5Q9 7.500 10 10V20L7.500 19.500Q5.500 14 6.500 8.500ZM66.500 8.500Q64 7.500 63 10V20L65.500 19.500Q67.500 14 66.500 8.500Z" fill-opacity=".75"/><circle cx="5.2" cy="22.300" r="5"/><circle cx="65.6" cy="22.300" r="5"/><path d="M7 17.5Q14 18.500 14.500 25.300H56.300Q56.800 18.500 63.800 17.500L66 27Q61.500 26 60.300 31.300H10.500Q9.300 26 4.800 27Z"/><path d="M11 31L15.500 31Q15 33 16.500 33.300H54.300Q55.800 33 55.300 31L59.800 31Q60.600 34.500 64.900 37L64.100 38.200L60.600 38Q57.100 36 55.600 35.300H15.200Q13.700 36 10.200 38L6.700 38.200L5.900 37Q10.200 34.500 11 31Z"/></g>
</g>
<text transform="translate(647.6 500.5) scale(1.11 0.95)" font-family="'Liberation Sans','Noto Sans CJK SC',sans-serif" font-size="41" font-weight="500" fill="#fff">欧模网</text>
<g transform="translate(1472.7 466.3)"><g fill="#fff"><path d="M10.5 25.3V9C12 4 16 .2 21.3 0C27 0 32 3.500 36 7.300C40 3.500 45 0 50.700 0C56 .2 60 4 62.500 9V25.300Z" fill="url(#stripe)"/><path d="M6.5 8.5Q9 7.500 10 10V20L7.500 19.500Q5.500 14 6.500 8.500ZM66.500 8.500Q64 7.500 63 10V20L65.500 19.500Q67.500 14 66.500 8.500Z" fill-opacity=".75"/><circle cx="5.2" cy="22.300" r="5"/><circle cx="65.6" cy="22.300" r="5"/><path d="M7 17.5Q14 18.500 14.500 25.300H56.300Q56.800 18.500 63.800 17.500L66 27Q61.500 26 60.300 31.300H10.500Q9.300 26 4.800 27Z"/><path d="M11 31L15.500 31Q15 33 16.500 33.300H54.300Q55.800 33 55.300 31L59.800 31Q60.600 34.500 64.900 37L64.100 38.200L60.600 38Q57.100 36 55.600 35.300H15.200Q13.700 36 10.200 38L6.700 38.200L5.900 37Q10.200 34.500 11 31Z"/></g>
</g>
<text transform="translate(1548.7 500.5) scale(1.11 0.95)" font-family="'Liberation Sans','Noto Sans CJK SC',sans-serif" font-size="41" font-weight="500" fill="#fff">欧模网</text>
<g transform="translate(-106.3 687.7)"><g fill="#fff"><path d="M10.5 25.3V9C12 4 16 .2 21.3 0C27 0 32 3.500 36 7.300C40 3.500 45 0 50.700 0C56 .2 60 4 62.500 9V25.300Z" fill="url(#stripe)"/><path d="M6.5 8.5Q9 7.500 10 10V20L7.500 19.500Q5.500 14 6.500 8.500ZM66.500 8.500Q64 7.500 63 10V20L65.500 19.500Q67.500 14 66.500 8.500Z" fill-opacity=".75"/><circle cx="5.2" cy="22.300" r="5"/><circle cx="65.6" cy="22.300" r="5"/><path d="M7 17.5Q14 18.500 14.500 25.300H56.300Q56.800 18.500 63.800 17.500L66 27Q61.500 26 60.300 31.300H10.500Q9.300 26 4.800 27Z"/><path d="M11 31L15.500 31Q15 33 16.500 33.300H54.300Q55.800 33 55.300 31L59.800 31Q60.600 34.500 64.900 37L64.100 38.200L60.600 38Q57.100 36 55.600 35.300H15.200Q13.700 36 10.200 38L6.700 38.200L5.900 37Q10.200 34.500 11 31Z"/></g>
</g>
<text transform="translate(-30.3 721.9) scale(1.11 0.95)" font-family="'Liberation Sans','Noto Sans CJK SC',sans-serif" font-size="41" font-weight="500" fill="#fff">欧模网</text>
<g transform="translate(794.6 687.7)"><g fill="#fff"><path d="M10.5 25.3V9C12 4 16 .2 21.3 0C27 0 32 3.500 36 7.300C40 3.500 45 0 50.700 0C56 .2 60 4 62.500 9V25.300Z" fill="url(#stripe)"/><path d="M6.5 8.5Q9 7.500 10 10V20L7.500 19.500Q5.500 14 6.500 8.500ZM66.500 8.500Q64 7.500 63 10V20L65.500 19.500Q67.500 14 66.500 8.500Z" fill-opacity=".75"/><circle cx="5.2" cy="22.300" r="5"/><circle cx="65.6" cy="22.300" r="5"/><path d="M7 17.5Q14 18.500 14.500 25.300H56.300Q56.800 18.500 63.800 17.500L66 27Q61.500 26 60.300 31.300H10.500Q9.300 26 4.800 27Z"/><path d="M11 31L15.500 31Q15 33 16.500 33.300H54.300Q55.800 33 55.300 31L59.800 31Q60.600 34.500 64.900 37L64.100 38.200L60.600 38Q57.100 36 55.600 35.300H15.200Q13.700 36 10.200 38L6.700 38.200L5.900 37Q10.200 34.500 11 31Z"/></g>
</g>
<text transform="translate(870.6 721.9) scale(1.11 0.95)" font-family="'Liberation Sans','Noto Sans CJK SC',sans-serif" font-size="41" font-weight="500" fill="#fff">欧模网</text>
<g transform="translate(1695.7 687.7)"><g fill="#fff"><path d="M10.5 25.3V9C12 4 16 .2 21.3 0C27 0 32 3.500 36 7.300C40 3.500 45 0 50.700 0C56 .2 60 4 62.500 9V25.300Z" fill="url(#stripe)"/><path d="M6.5 8.5Q9 7.500 10 10V20L7.500 19.500Q5.500 14 6.500 8.500ZM66.500 8.500Q64 7.500 63 10V20L65.500 19.500Q67.500 14 66.500 8.500Z" fill-opacity=".75"/><circle cx="5.2" cy="22.300" r="5"/><circle cx="65.6" cy="22.300" r="5"/><path d="M7 17.5Q14 18.500 14.500 25.300H56.300Q56.800 18.500 63.800 17.500L66 27Q61.500 26 60.300 31.300H10.500Q9.300 26 4.800 27Z"/><path d="M11 31L15.500 31Q15 33 16.500 33.300H54.300Q55.800 33 55.300 31L59.800 31Q60.600 34.500 64.900 37L64.100 38.200L60.600 38Q57.100 36 55.600 35.300H15.200Q13.700 36 10.200 38L6.700 38.200L5.900 37Q10.200 34.500 11 31Z"/></g>
</g>
<text transform="translate(1771.7 721.9) scale(1.11 0.95)" font-family="'Liberation Sans','Noto Sans CJK SC',sans-serif" font-size="41" font-weight="500" fill="#fff">欧模网</text>
<text x="675.5" y="42.7" text-anchor="middle" transform="translate(675.5 0) scale(1.1 1) translate(-675.5 0)" font-family="'Liberation Sans',sans-serif" font-size="26" fill="#fff" stroke="#fff" stroke-width="0.5" letter-spacing="0.8">www.om.cn</text>
<text x="1576.5" y="42.7" text-anchor="middle" transform="translate(1576.5 0) scale(1.1 1) translate(-1576.5 0)" font-family="'Liberation Sans',sans-serif" font-size="26" fill="#fff" stroke="#fff" stroke-width="0.5" letter-spacing="0.8">www.om.cn</text>
<text x="7.0" y="268.4" text-anchor="middle" transform="translate(7.0 0) scale(1.1 1) translate(-7.0 0)" font-family="'Liberation Sans',sans-serif" font-size="26" fill="#fff" stroke="#fff" stroke-width="0.5" letter-spacing="1.4">www.om.cn</text>
<text x="907.5" y="268.4" text-anchor="middle" transform="translate(907.5 0) scale(1.1 1) translate(-907.5 0)" font-family="'Liberation Sans',sans-serif" font-size="26" fill="#fff" stroke="#fff" stroke-width="0.5" letter-spacing="1.4">www.om.cn</text>
<text x="1808.0" y="268.4" text-anchor="middle" transform="translate(1808.0 0) scale(1.1 1) translate(-1808.0 0)" font-family="'Liberation Sans',sans-serif" font-size="26" fill="#fff" stroke="#fff" stroke-width="0.5" letter-spacing="1.4">www.om.cn</text>
<text x="224.7" y="493.2" text-anchor="middle" transform="translate(224.7 0) scale(1.1 1) translate(-224.7 0)" font-family="'Liberation Sans',sans-serif" font-size="26" fill="#fff" stroke="#fff" stroke-width="0.5" letter-spacing="0.8">www.om.cn</text>
<text x="1125.7" y="493.2" text-anchor="middle" transform="translate(1125.7 0) scale(1.1 1) translate(-1125.7 0)" font-family="'Liberation Sans',sans-serif" font-size="26" fill="#fff" stroke="#fff" stroke-width="0.5" letter-spacing="0.8">www.om.cn</text>
<text x="454.0" y="712.9" text-anchor="middle" transform="translate(454.0 0) scale(1.1 1) translate(-454.0 0)" font-family="'Liberation Sans',sans-serif" font-size="26" fill="#fff" stroke="#fff" stroke-width="0.5" letter-spacing="1.4">www.om.cn</text>
<text x="1355.0" y="712.9" text-anchor="middle" transform="translate(1355.0 0) scale(1.1 1) translate(-1355.0 0)" font-family="'Liberation Sans',sans-serif" font-size="26" fill="#fff" stroke="#fff" stroke-width="0.5" letter-spacing="1.4">www.om.cn</text>
</g>
</svg>
<div class="xh" id="xh1" style="left:1419px;top:690.5px;font-size:36.4px;line-height:40px;transform:scale(0.78,1.04)">细</div>
<div class="xh" id="xh2" style="left:1419px;top:737.5px;font-size:36.4px;line-height:40px;transform:scale(0.78,1.04)">化</div>
<div class="big" id="big1" style="left:1510.5px;top:645px;font-size:77.4px;line-height:106px;font-weight:500;transform:scale(1,1.01)">欧模网</div>
<div class="big" id="big2" style="left:1515px;top:727.3px;font-size:51px;line-height:70px;-webkit-text-stroke:0.8px #fff;transform:scale(0.857,1)">ID:1533168</div>
</div>
</body></html>
